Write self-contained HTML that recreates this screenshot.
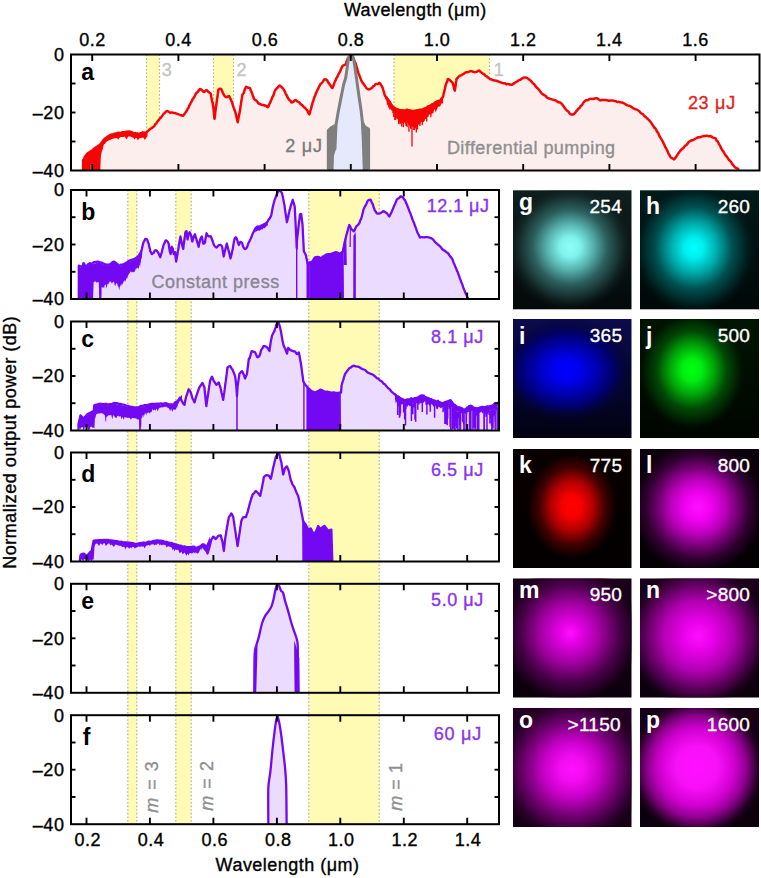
<!DOCTYPE html>
<html><head><meta charset="utf-8"><style>html,body{margin:0;padding:0;background:#fff;width:761px;height:878px;overflow:hidden}svg{display:block}</style></head><body>
<svg width="761" height="878" viewBox="0 0 761 878">
<defs>
<clipPath id="ca"><rect x="71" y="54.5" width="688.5" height="116"/></clipPath>
<clipPath id="cb0"><rect x="71" y="190" width="428" height="109"/></clipPath>
<clipPath id="cb1"><rect x="71" y="321.5" width="428" height="109"/></clipPath>
<clipPath id="cb2"><rect x="71" y="452.5" width="428" height="109"/></clipPath>
<clipPath id="cb3"><rect x="71" y="583.8" width="428" height="109"/></clipPath>
<clipPath id="cb4"><rect x="71" y="715.2" width="428" height="109"/></clipPath>
</defs>
<rect width="761" height="878" fill="#fff"/>
<rect x="146.5" y="54.5" width="13.0" height="116.0" fill="#fffbb5"/>
<rect x="213.5" y="54.5" width="20.0" height="116.0" fill="#fffbb5"/>
<rect x="394.0" y="54.5" width="95.5" height="116.0" fill="#fffbb5"/>
<rect x="127.8" y="190.0" width="9.0" height="634.2" fill="#fffbb5"/>
<rect x="175.8" y="190.0" width="15.4" height="634.2" fill="#fffbb5"/>
<rect x="308.8" y="190.0" width="70.4" height="634.2" fill="#fffbb5"/>
<line x1="146.5" y1="54.5" x2="146.5" y2="170.5" stroke="#b4b49c" stroke-width="1.2" stroke-dasharray="1.6,2.0"/>
<line x1="159.5" y1="54.5" x2="159.5" y2="170.5" stroke="#b4b49c" stroke-width="1.2" stroke-dasharray="1.6,2.0"/>
<line x1="213.5" y1="54.5" x2="213.5" y2="170.5" stroke="#b4b49c" stroke-width="1.2" stroke-dasharray="1.6,2.0"/>
<line x1="233.5" y1="54.5" x2="233.5" y2="170.5" stroke="#b4b49c" stroke-width="1.2" stroke-dasharray="1.6,2.0"/>
<line x1="394.0" y1="54.5" x2="394.0" y2="170.5" stroke="#b4b49c" stroke-width="1.2" stroke-dasharray="1.6,2.0"/>
<line x1="489.5" y1="54.5" x2="489.5" y2="170.5" stroke="#b4b49c" stroke-width="1.2" stroke-dasharray="1.6,2.0"/>
<line x1="127.8" y1="190.0" x2="127.8" y2="824.2" stroke="#b4b49c" stroke-width="1.2" stroke-dasharray="1.6,2.0"/>
<line x1="136.8" y1="190.0" x2="136.8" y2="824.2" stroke="#b4b49c" stroke-width="1.2" stroke-dasharray="1.6,2.0"/>
<line x1="175.8" y1="190.0" x2="175.8" y2="824.2" stroke="#b4b49c" stroke-width="1.2" stroke-dasharray="1.6,2.0"/>
<line x1="191.2" y1="190.0" x2="191.2" y2="824.2" stroke="#b4b49c" stroke-width="1.2" stroke-dasharray="1.6,2.0"/>
<line x1="308.8" y1="190.0" x2="308.8" y2="824.2" stroke="#b4b49c" stroke-width="1.2" stroke-dasharray="1.6,2.0"/>
<line x1="379.2" y1="190.0" x2="379.2" y2="824.2" stroke="#b4b49c" stroke-width="1.2" stroke-dasharray="1.6,2.0"/>
<path d="M83.14 170.50L83.14 170.96C83.14 169.46 82.86 162.51 83.14 160.45C83.42 158.38 84.55 157.44 85.11 156.50C85.67 155.57 86.52 154.44 87.08 153.88C87.65 153.31 88.49 152.94 89.05 152.56C89.62 152.19 90.37 151.72 91.02 151.25C91.68 150.78 92.90 149.84 93.65 149.28C94.40 148.71 95.62 147.78 96.28 147.31C96.94 146.84 97.69 146.37 98.25 145.99C98.82 145.62 99.66 145.24 100.22 144.68C100.79 144.11 101.63 142.80 102.19 142.05C102.76 141.30 103.51 140.12 104.17 139.42C104.82 138.73 106.04 137.75 106.79 137.19C107.54 136.62 108.58 135.87 109.42 135.48C110.27 135.09 111.77 134.71 112.71 134.43C113.65 134.15 115.05 133.73 115.99 133.51C116.93 133.28 118.34 133.04 119.28 132.85C120.22 132.66 121.62 132.34 122.56 132.19C123.50 132.04 124.91 131.89 125.85 131.80C126.79 131.71 128.19 131.42 129.13 131.54C130.07 131.65 131.48 132.31 132.42 132.59C133.36 132.87 134.76 133.32 135.70 133.51C136.64 133.70 138.05 134.00 138.99 133.90C139.93 133.81 141.33 133.00 142.27 132.85C143.21 132.70 144.81 133.04 145.56 132.85C146.31 132.66 147.06 131.92 147.53 131.54C148.00 131.15 147.91 130.92 148.84 130.16C149.78 129.40 152.41 127.98 154.10 126.22C155.79 124.45 159.17 119.68 160.67 117.81C162.17 115.93 163.67 114.05 164.61 113.07C165.55 112.10 166.49 111.05 167.24 110.97C167.99 110.90 168.74 112.25 169.87 112.55C170.99 112.85 173.25 112.62 175.12 113.07C177.00 113.53 181.32 116.08 183.01 115.70C184.70 115.33 185.83 112.32 186.95 110.45C188.08 108.57 189.58 105.00 190.89 102.56C192.21 100.12 194.84 95.32 196.15 93.36C197.46 91.41 198.97 89.08 200.09 88.90C201.22 88.71 203.10 91.90 204.03 92.05C204.97 92.20 205.72 89.76 206.66 89.95C207.60 90.14 209.67 91.00 210.60 93.36C211.54 95.73 212.67 102.86 213.23 106.50C213.80 110.15 214.17 118.67 214.55 118.86C214.92 119.04 215.30 112.02 215.86 107.82C216.42 103.61 217.74 92.13 218.49 89.42C219.24 86.72 220.37 88.15 221.12 88.90C221.87 89.65 222.99 93.48 223.75 94.68C224.50 95.88 225.62 97.12 226.37 97.31C227.12 97.49 228.25 95.43 229.00 95.99C229.75 96.56 230.69 98.81 231.63 101.25C232.57 103.69 234.71 110.07 235.57 113.07C236.44 116.08 237.11 122.27 237.67 122.27C238.24 122.27 238.88 116.83 239.51 113.07C240.15 109.32 241.20 99.75 242.14 95.99C243.08 92.24 244.96 87.92 246.08 86.79C247.21 85.67 248.90 86.42 250.03 88.11C251.15 89.80 252.65 96.37 253.97 98.62C255.28 100.87 258.36 103.13 259.22 103.88C260.09 104.63 259.33 103.69 260.00 103.88C260.67 104.06 262.82 104.70 263.94 105.19C265.07 105.68 266.76 108.23 267.88 107.29C269.01 106.35 270.70 101.17 271.83 98.62C272.95 96.07 274.64 91.30 275.77 89.42C276.90 87.54 278.58 85.48 279.71 85.48C280.84 85.48 282.53 87.73 283.65 89.42C284.78 91.11 286.47 95.43 287.60 97.31C288.72 99.18 290.41 102.19 291.54 102.56C292.66 102.94 294.35 99.93 295.48 99.93C296.61 99.93 298.30 101.62 299.42 102.56C300.55 103.50 302.24 105.38 303.36 106.50C304.49 107.63 306.44 109.32 307.31 110.45C308.17 111.57 308.85 114.76 309.41 114.39C309.97 114.01 310.61 110.07 311.25 107.82C311.89 105.57 313.13 100.87 313.88 98.62C314.63 96.37 315.57 94.11 316.50 92.05C317.44 89.98 319.32 85.97 320.45 84.17C321.57 82.36 323.45 80.00 324.39 79.43C325.33 78.87 326.27 79.55 327.02 80.22C327.77 80.90 328.89 83.04 329.65 84.17C330.40 85.29 331.52 88.48 332.27 88.11C333.02 87.73 333.96 83.60 334.90 81.54C335.84 79.47 337.72 75.91 338.84 73.65C339.97 71.40 341.85 67.08 342.79 65.77C343.72 64.45 344.66 65.58 345.41 64.45C346.16 63.33 347.29 59.12 348.04 57.88C348.79 56.65 349.92 55.78 350.67 55.78C351.42 55.78 352.55 56.65 353.30 57.88C354.05 59.12 355.18 62.20 355.93 64.45C356.68 66.71 357.80 71.40 358.55 73.65C359.31 75.91 360.43 78.72 361.18 80.22C361.93 81.73 363.06 83.04 363.81 84.17C364.56 85.29 365.69 87.36 366.44 88.11C367.19 88.86 368.32 89.42 369.07 89.42C369.82 89.42 370.76 88.86 371.70 88.11C372.63 87.36 374.51 84.92 375.64 84.17C376.76 83.41 378.64 82.48 379.58 82.85C380.52 83.23 381.43 84.93 382.21 86.79C382.98 88.66 384.08 93.96 385.00 95.92C385.92 97.88 387.63 99.07 388.68 100.52C389.73 101.97 391.31 104.86 392.36 106.04C393.41 107.22 394.99 108.21 396.04 108.80C397.09 109.39 398.67 109.92 399.72 110.18C400.77 110.44 402.22 110.64 403.40 110.64C404.58 110.64 406.68 110.11 408.00 110.18C409.31 110.25 411.28 111.03 412.60 111.10C413.91 111.17 415.88 110.84 417.20 110.64C418.51 110.44 420.48 110.11 421.80 109.72C423.11 109.33 425.08 108.54 426.40 107.88C427.71 107.22 429.68 105.91 431.00 105.12C432.31 104.33 434.28 103.02 435.60 102.36C436.91 101.70 439.15 101.31 440.20 100.52C441.25 99.73 442.23 98.80 442.96 96.84C443.68 94.88 444.57 89.36 445.28 86.79C445.99 84.23 447.24 79.85 447.91 78.91C448.58 77.97 449.33 79.66 450.00 80.22C450.67 80.79 451.95 81.35 452.63 82.85C453.30 84.35 454.17 91.30 454.73 90.74C455.29 90.17 455.93 80.97 456.57 78.91C457.21 76.84 458.45 76.84 459.20 76.28C459.95 75.72 460.89 75.53 461.83 74.97C462.77 74.40 464.45 72.90 465.77 72.34C467.08 71.78 469.71 71.02 471.02 71.02C472.34 71.02 473.84 72.41 474.97 72.34C476.09 72.26 477.78 70.31 478.91 70.50C480.04 70.69 481.54 72.64 482.85 73.65C484.17 74.67 486.61 76.66 488.11 77.60C489.61 78.53 491.67 79.59 493.36 80.22C495.05 80.86 498.06 81.50 499.93 82.06C501.81 82.63 504.82 83.79 506.50 84.17C508.19 84.54 510.26 85.07 511.76 84.69C513.26 84.32 515.52 82.44 517.02 81.54C518.52 80.64 520.96 78.95 522.27 78.38C523.59 77.82 525.09 77.33 526.22 77.60C527.34 77.86 529.03 79.28 530.16 80.22C531.28 81.16 532.60 82.48 534.10 84.17C535.60 85.86 538.79 90.10 540.67 92.05C542.55 94.00 545.36 96.71 547.24 97.83C549.12 98.96 551.93 99.26 553.81 99.93C555.69 100.61 558.69 101.25 560.38 102.56C562.07 103.88 564.14 107.44 565.64 109.13C567.14 110.82 569.77 113.64 570.89 114.39C572.02 115.14 572.58 115.03 573.52 114.39C574.46 113.75 576.15 111.42 577.46 109.92C578.78 108.42 581.68 105.13 582.72 103.88C583.76 102.62 583.62 101.87 584.76 101.14C585.90 100.41 589.01 99.17 590.70 98.76C592.40 98.36 595.29 98.05 596.65 98.29C598.01 98.53 599.20 100.19 600.22 100.43C601.24 100.67 602.26 99.95 603.79 99.95C605.32 99.95 608.54 100.09 610.92 100.43C613.30 100.77 617.72 101.55 620.44 102.33C623.16 103.11 627.23 104.61 629.95 105.90C632.67 107.19 636.75 109.33 639.47 111.37C642.19 113.41 646.60 117.55 648.98 120.17C651.36 122.79 654.25 126.80 656.12 129.69C657.99 132.57 660.54 137.50 662.06 140.39C663.59 143.28 665.63 147.53 666.82 149.90C668.01 152.28 669.37 155.68 670.39 157.04C671.41 158.40 672.94 159.76 673.96 159.42C674.98 159.08 676.34 156.19 677.53 154.66C678.72 153.13 680.58 150.58 682.28 148.72C683.98 146.85 687.38 143.11 689.42 141.58C691.46 140.05 694.52 138.79 696.56 138.01C698.59 137.23 701.65 136.38 703.69 136.11C705.73 135.84 709.13 135.77 710.83 136.11C712.53 136.45 714.23 137.03 715.59 138.49C716.94 139.95 718.98 144.03 720.34 146.34C721.70 148.65 723.74 152.62 725.10 154.66C726.46 156.70 728.67 159.08 729.86 160.61C731.05 162.14 732.58 164.35 733.43 165.37C734.27 166.39 735.12 167.24 735.80 167.75C736.48 168.25 737.84 168.76 738.18 168.93L738.18 170.50Z" fill="#fdeeee" clip-path="url(#ca)"/>
<polygon points="83.1,170.9 83.1,169.9 83.1,168.3 83.1,167.8 83.1,166.4 83.1,165.6 83.1,164.7 83.1,163.3 83.1,162.5 83.1,161.3 83.1,160.4 83.6,159.5 84.1,158.3 84.6,156.4 85.1,156.5 85.8,155.6 86.4,154.3 87.1,152.2 88.1,152.8 89.1,152.4 90.0,150.0 91.0,151.2 91.9,149.3 92.8,149.9 93.7,149.3 94.5,148.6 95.4,147.9 96.3,146.2 97.3,146.6 98.3,145.6 99.2,144.8 100.2,144.6 100.9,143.5 101.5,142.9 102.2,142.0 102.9,141.2 103.5,139.7 104.2,139.3 105.0,138.6 105.9,137.5 106.8,137.0 107.7,136.6 108.5,135.0 109.4,134.8 110.5,135.1 111.6,134.4 112.7,134.1 113.8,132.8 114.9,133.0 116.0,133.5 117.1,131.4 118.2,133.1 119.3,132.7 120.4,131.8 121.5,132.4 122.6,132.0 123.7,132.1 124.8,131.3 125.8,130.9 126.9,131.3 128.0,130.3 129.1,131.5 130.2,131.2 131.3,131.8 132.4,132.2 133.5,132.7 134.6,132.0 135.7,131.8 136.8,133.4 137.9,133.2 139.0,133.9 140.1,132.9 141.2,132.7 142.3,130.9 143.4,131.7 144.5,132.8 145.6,132.7 146.5,131.6 147.5,131.5 147.5,136.2 146.5,137.5 145.6,138.7 144.5,139.8 143.4,137.7 142.3,137.5 141.2,138.2 140.1,137.9 139.0,138.5 137.9,140.7 136.8,138.1 135.7,138.1 134.6,139.6 133.5,137.7 132.4,137.6 131.3,137.0 130.2,136.6 129.1,136.5 128.0,136.6 126.9,139.3 125.8,138.4 124.8,136.6 123.7,136.9 122.6,136.9 121.5,137.1 120.4,137.2 119.3,138.1 118.2,139.7 117.1,137.9 116.0,138.3 114.9,138.3 113.8,138.6 112.7,138.8 111.6,139.2 110.5,139.8 109.4,140.1 108.1,140.8 106.8,141.4 105.9,142.3 105.0,143.9 104.2,144.0 103.8,145.1 103.4,146.0 103.0,148.3 102.6,149.7 102.2,150.0 102.0,151.9 101.8,150.8 101.5,152.8 101.3,153.7 101.1,154.5 100.9,156.2 100.8,158.8 100.8,157.8 100.7,158.5 100.7,159.6 100.7,160.4 100.6,161.6 100.6,163.2 100.5,163.9 100.5,164.7 100.4,165.7 100.4,166.8 100.4,167.8 100.3,171.5 100.3,172.0 100.2,171.1 99.2,171.2 98.2,171.0 97.2,172.9 96.2,172.6 95.2,173.0 94.2,171.5 93.2,171.2 92.2,171.0 91.2,172.9 90.2,171.1 89.2,171.0 88.2,171.0 87.2,172.3 86.2,171.0 85.2,171.0 84.1,171.0 83.1,171.3" fill="#f50505" clip-path="url(#ca)"/>
<rect x="90.8" y="165" width="1.6" height="6" fill="#fdeeee"/>
<polygon points="385.0,95.8 385.7,96.8 386.5,96.8 387.2,98.4 387.9,98.7 388.7,100.4 389.3,101.4 389.9,101.3 390.5,101.4 391.1,103.0 391.7,104.1 392.4,104.9 393.3,105.9 394.2,107.4 395.1,107.8 396.0,108.7 397.3,109.3 398.5,109.7 399.7,110.1 400.9,110.3 402.2,109.8 403.4,108.9 404.5,110.3 405.7,108.8 406.8,108.4 408.0,108.4 409.1,110.3 410.3,110.6 411.4,110.8 412.6,111.1 413.7,111.0 414.9,110.4 416.0,109.3 417.2,109.5 418.3,110.2 419.5,109.6 420.6,108.9 421.8,109.7 422.9,108.7 424.1,107.3 425.2,107.4 426.4,107.0 427.3,107.1 428.2,106.8 429.2,105.2 430.1,105.6 431.0,104.1 431.9,102.7 432.8,103.9 433.8,103.3 434.7,101.2 435.6,101.6 436.7,101.9 437.9,101.4 439.0,101.0 440.2,99.0 440.9,98.6 441.6,98.7 442.3,96.6 443.0,95.0 443.0,103.4 442.5,103.4 442.0,103.6 441.6,103.3 441.1,104.3 440.7,105.1 440.2,106.4 439.0,106.5 437.9,107.0 436.7,109.8 435.6,111.2 434.8,109.3 434.1,109.5 433.3,113.5 432.5,113.6 431.8,113.1 431.0,115.8 430.2,113.7 429.5,114.6 428.7,115.1 427.9,116.9 427.2,116.8 426.4,117.6 425.5,118.7 424.6,118.9 423.6,122.3 422.7,121.8 421.8,121.5 420.9,122.2 420.0,124.4 419.0,123.6 418.5,124.5 417.9,126.1 417.4,126.3 416.8,129.1 416.3,128.8 415.4,128.1 414.4,127.0 413.5,127.0 412.4,127.2 411.4,125.5 410.3,124.5 409.2,126.2 408.2,123.8 407.1,123.5 405.9,123.4 404.8,122.6 403.4,122.7 402.0,122.3 400.6,123.1 399.9,124.8 399.3,121.1 398.6,122.8 397.9,119.7 397.1,118.4 396.4,117.3 395.7,119.2 394.9,115.2 394.2,114.6 393.6,113.5 393.0,113.3 392.4,111.6 391.7,110.7 391.1,109.8 390.5,108.8 390.0,110.1 389.4,109.6 388.9,106.4 388.3,108.4 387.8,104.8 387.4,104.4 387.0,106.0 386.6,101.4 386.2,100.5 385.8,100.3 385.4,98.9 385.0,98.9" fill="#f50505" clip-path="url(#ca)"/>
<path d="M403.4 118.0V127.2M408.9 118.0V131.8M412.0 118.0V146.5M400.6 115.0V123.0M406.0 118.0V126.0M414.5 118.0V130.0M417.5 118.0V129.0M398.8 120.1V122.9M421.1 121.5V122.1M430.8 112.6V117.3M401.7 121.9V126.5M409.5 124.2V125.8M435.6 107.9V111.5M399.1 120.6V121.9M414.7 127.1V128.1M400.6 122.6V123.5M423.8 119.2V119.7M416.4 128.0V129.3M392.8 112.2V113.2M419.5 123.1V124.8M394.8 115.1V120.0M426.7 116.8V121.5M396.6 117.3V118.1M393.7 113.6V116.9M403.9 122.3V122.9M410.6 124.6V128.8M428.0 115.4V116.2M398.6 119.8V124.1M417.1 126.7V129.4M395.9 116.5V117.0M422.3 120.4V121.7M395.2 115.6V120.0M419.9 122.6V126.0M395.7 116.2V120.0M394.9 115.2V119.1M412.0 125.4V126.4M416.3 128.0V132.4M403.8 122.3V122.8M415.2 127.4V128.1M396.8 117.6V118.2M394.2 114.3V115.0M405.7 123.0V123.9M425.4 117.9V118.7M414.0 126.6V127.2M407.3 123.6V124.1M403.0 122.0V122.5M424.3 118.8V120.7M400.3 122.2V123.7M433.1 110.4V110.9M428.0 115.4V116.8M413.8 126.5V130.1M409.3 124.2V125.8M422.3 120.4V125.2M407.1 123.5V127.1M423.1 119.7V122.0M409.8 124.3V125.3M394.4 114.6V115.1" stroke="#f50505" stroke-width="1.3" fill="none" clip-path="url(#ca)"/>
<path d="M83.14 170.96C83.14 170.65 83.14 169.29 83.14 168.82C83.14 168.35 83.14 168.15 83.14 167.67C83.14 167.20 83.14 166.06 83.14 165.48C83.14 164.91 83.14 164.17 83.14 163.65C83.14 163.13 83.14 162.28 83.14 161.82C83.14 161.37 83.00 160.88 83.14 160.45C83.28 160.01 83.84 159.35 84.13 158.78C84.41 158.22 84.83 156.97 85.11 156.50C85.39 156.04 85.82 155.90 86.10 155.52C86.38 155.15 86.66 154.30 87.08 153.88C87.51 153.45 88.49 152.94 89.05 152.56C89.62 152.19 90.56 151.55 91.02 151.25C91.49 150.94 91.96 150.70 92.34 150.42C92.71 150.13 93.28 149.61 93.65 149.28C94.03 148.95 94.59 148.38 94.97 148.10C95.34 147.81 95.81 147.61 96.28 147.31C96.75 147.01 97.69 146.37 98.25 145.99C98.82 145.62 99.80 145.09 100.22 144.68C100.65 144.27 100.93 143.51 101.21 143.13C101.49 142.76 101.91 142.42 102.19 142.05C102.48 141.68 102.90 140.93 103.18 140.55C103.46 140.17 103.84 139.75 104.17 139.42C104.49 139.10 105.10 138.59 105.48 138.27C105.86 137.95 106.23 137.59 106.79 137.19C107.36 136.79 108.81 135.84 109.42 135.48C110.03 135.12 110.60 134.80 111.06 134.65C111.53 134.50 112.24 134.53 112.71 134.43C113.18 134.32 113.88 134.05 114.35 133.92C114.82 133.79 115.52 133.64 115.99 133.51C116.46 133.37 117.17 133.06 117.63 132.97C118.10 132.87 118.81 132.86 119.28 132.85C119.75 132.85 120.45 133.03 120.92 132.94C121.39 132.84 122.09 132.27 122.56 132.19C123.03 132.12 123.74 132.48 124.20 132.42C124.67 132.37 125.38 131.90 125.85 131.80C126.32 131.70 127.02 131.75 127.49 131.71C127.96 131.67 128.66 131.52 129.13 131.54C129.60 131.55 130.31 131.68 130.78 131.83C131.24 131.98 131.95 132.36 132.42 132.59C132.89 132.82 133.59 133.34 134.06 133.47C134.53 133.60 135.23 133.50 135.70 133.51C136.17 133.52 136.88 133.48 137.35 133.53C137.81 133.59 138.52 133.94 138.99 133.90C139.46 133.86 140.16 133.40 140.63 133.25C141.10 133.10 141.80 132.97 142.27 132.85C142.74 132.73 143.45 132.40 143.92 132.40C144.39 132.40 145.04 132.98 145.56 132.85C146.07 132.73 147.06 131.92 147.53 131.54C148.00 131.15 148.47 130.51 148.84 130.16C149.22 129.80 149.78 129.35 150.16 129.07C150.53 128.78 151.10 128.43 151.47 128.16C151.85 127.90 152.41 127.48 152.79 127.20C153.16 126.93 153.76 126.60 154.10 126.22C154.44 125.84 154.88 124.94 155.19 124.54C155.51 124.14 155.98 123.84 156.29 123.42C156.60 122.99 157.07 122.00 157.39 121.56C157.70 121.13 158.17 120.79 158.48 120.40C158.79 120.01 159.26 119.21 159.58 118.84C159.89 118.47 160.33 118.19 160.67 117.81C161.01 117.42 161.61 116.65 161.98 116.14C162.36 115.63 162.92 114.68 163.30 114.24C163.67 113.80 164.24 113.45 164.61 113.07C164.99 112.70 165.55 111.89 165.93 111.59C166.30 111.29 166.68 110.84 167.24 110.97C167.80 111.11 169.24 112.32 169.87 112.55C170.49 112.77 171.12 112.53 171.62 112.55C172.12 112.56 172.87 112.58 173.37 112.66C173.87 112.73 174.65 112.93 175.12 113.07C175.60 113.22 176.25 113.52 176.70 113.68C177.15 113.83 177.83 113.98 178.28 114.15C178.73 114.32 179.40 114.71 179.86 114.88C180.31 115.04 180.98 115.20 181.43 115.32C181.88 115.44 182.64 115.81 183.01 115.70C183.38 115.60 183.71 114.91 183.99 114.58C184.28 114.26 184.70 113.83 184.98 113.42C185.26 113.00 185.68 112.09 185.97 111.66C186.25 111.24 186.70 110.87 186.95 110.45C187.20 110.03 187.51 109.10 187.74 108.71C187.97 108.33 188.30 108.20 188.53 107.73C188.75 107.26 189.09 105.88 189.32 105.40C189.54 104.92 189.88 104.75 190.11 104.34C190.33 103.94 190.66 103.02 190.89 102.56C191.13 102.11 191.52 101.65 191.77 101.16C192.02 100.66 192.40 99.50 192.65 99.09C192.90 98.67 193.27 98.59 193.52 98.26C193.77 97.94 194.15 97.25 194.40 96.78C194.65 96.32 195.02 95.50 195.27 95.01C195.52 94.52 195.84 93.78 196.15 93.36C196.46 92.95 197.09 92.47 197.46 92.09C197.84 91.70 198.40 91.12 198.78 90.67C199.15 90.21 199.72 89.05 200.09 88.90C200.47 88.75 201.03 89.32 201.41 89.62C201.78 89.93 202.34 90.67 202.72 91.02C203.10 91.37 203.66 92.05 204.03 92.05C204.41 92.05 204.97 91.30 205.35 91.00C205.72 90.70 206.29 89.89 206.66 89.95C207.04 90.00 207.60 91.02 207.98 91.39C208.35 91.75 208.91 92.22 209.29 92.50C209.67 92.78 210.37 92.96 210.60 93.36C210.84 93.76 210.84 94.82 210.93 95.30C211.03 95.78 211.17 96.25 211.26 96.72C211.36 97.20 211.50 98.16 211.59 98.65C211.68 99.13 211.82 99.66 211.92 100.10C212.01 100.54 212.15 101.34 212.25 101.75C212.34 102.16 212.48 102.59 212.58 102.98C212.67 103.36 212.81 103.94 212.90 104.44C213.00 104.94 213.16 106.00 213.23 106.50C213.31 107.00 213.37 107.45 213.42 107.94C213.47 108.43 213.55 109.41 213.61 109.91C213.66 110.41 213.74 110.88 213.80 111.44C213.85 112.01 213.93 113.30 213.98 113.87C214.04 114.43 214.12 114.90 214.17 115.38C214.22 115.86 214.31 116.71 214.36 117.21C214.41 117.70 214.49 118.87 214.55 118.86C214.60 118.85 214.70 117.63 214.77 117.13C214.83 116.63 214.92 115.88 214.98 115.34C215.05 114.80 215.14 113.94 215.20 113.33C215.27 112.72 215.36 111.54 215.42 111.05C215.49 110.57 215.58 110.39 215.64 109.93C215.70 109.46 215.80 108.33 215.86 107.82C215.93 107.31 216.03 106.85 216.10 106.37C216.17 105.89 216.27 104.98 216.34 104.48C216.41 103.97 216.51 103.29 216.58 102.83C216.65 102.38 216.75 101.81 216.82 101.27C216.88 100.73 216.99 99.53 217.06 99.07C217.12 98.60 217.23 98.45 217.29 98.00C217.36 97.54 217.46 96.45 217.53 95.89C217.60 95.33 217.70 94.53 217.77 94.06C217.84 93.58 217.94 92.95 218.01 92.56C218.08 92.16 218.18 91.75 218.25 91.30C218.32 90.85 218.08 89.77 218.49 89.42C218.90 89.08 220.62 88.73 221.12 88.90C221.62 89.06 221.74 89.98 221.99 90.56C222.24 91.14 222.62 92.38 222.87 92.97C223.12 93.56 223.43 94.18 223.75 94.68C224.06 95.17 224.68 96.04 225.06 96.42C225.43 96.80 225.81 97.37 226.37 97.31C226.94 97.25 228.50 95.93 229.00 95.99C229.50 96.05 229.63 97.25 229.88 97.74C230.13 98.22 230.50 98.89 230.75 99.39C231.00 99.89 231.42 100.74 231.63 101.25C231.84 101.75 232.03 102.41 232.19 102.92C232.35 103.43 232.59 104.27 232.76 104.79C232.92 105.31 233.16 106.08 233.32 106.56C233.48 107.03 233.72 107.64 233.88 108.11C234.04 108.58 234.28 109.41 234.45 109.82C234.61 110.24 234.85 110.54 235.01 111.01C235.17 111.47 235.43 112.56 235.57 113.07C235.71 113.59 235.87 114.10 235.99 114.60C236.11 115.09 236.29 115.93 236.41 116.53C236.53 117.14 236.71 118.28 236.83 118.81C236.95 119.34 237.13 119.76 237.25 120.26C237.37 120.75 237.56 122.24 237.67 122.27C237.79 122.31 237.94 121.08 238.04 120.49C238.15 119.91 238.30 118.75 238.41 118.16C238.52 117.56 238.67 116.85 238.78 116.36C238.88 115.87 239.04 115.18 239.15 114.71C239.25 114.24 239.42 113.53 239.51 113.07C239.60 112.62 239.70 111.98 239.78 111.52C239.85 111.06 239.96 110.32 240.04 109.83C240.11 109.34 240.23 108.65 240.30 108.11C240.38 107.57 240.49 106.56 240.57 106.05C240.64 105.55 240.75 105.01 240.83 104.55C240.90 104.08 241.02 103.29 241.09 102.79C241.17 102.30 241.28 101.62 241.35 101.09C241.43 100.55 241.54 99.50 241.62 99.07C241.69 98.63 241.80 98.49 241.88 98.05C241.95 97.62 242.01 96.54 242.14 95.99C242.27 95.44 242.61 94.56 242.80 94.19C242.99 93.81 243.27 93.70 243.46 93.36C243.64 93.01 243.93 92.35 244.11 91.79C244.30 91.22 244.58 89.92 244.77 89.43C244.96 88.93 245.24 88.67 245.43 88.29C245.61 87.91 245.71 86.87 246.08 86.79C246.46 86.71 247.49 87.55 248.06 87.74C248.62 87.93 249.66 87.78 250.03 88.11C250.39 88.44 250.43 89.61 250.59 90.03C250.75 90.45 250.99 90.73 251.15 91.07C251.31 91.40 251.55 92.01 251.72 92.40C251.88 92.80 252.12 93.34 252.28 93.85C252.44 94.37 252.68 95.59 252.84 96.02C253.00 96.45 253.24 96.49 253.41 96.86C253.57 97.23 253.70 98.17 253.97 98.62C254.24 99.07 254.91 99.68 255.28 100.01C255.66 100.34 256.22 100.56 256.60 100.93C256.97 101.29 257.54 102.16 257.91 102.58C258.29 103.01 258.93 103.69 259.22 103.88C259.52 104.06 259.61 103.72 260.00 103.88C260.39 104.03 261.41 104.75 261.97 104.94C262.53 105.13 263.38 105.05 263.94 105.19C264.51 105.33 265.35 105.61 265.91 105.91C266.48 106.21 267.49 107.30 267.88 107.29C268.28 107.28 268.45 106.34 268.67 105.85C268.90 105.35 269.24 104.32 269.46 103.83C269.69 103.34 270.02 102.91 270.25 102.44C270.47 101.97 270.81 101.08 271.04 100.54C271.26 99.99 271.62 99.15 271.83 98.62C272.03 98.09 272.30 97.23 272.48 96.85C272.67 96.46 272.95 96.32 273.14 95.91C273.33 95.51 273.61 94.56 273.80 94.01C273.99 93.46 274.27 92.56 274.45 92.06C274.64 91.56 274.92 90.89 275.11 90.51C275.30 90.13 275.49 89.77 275.77 89.42C276.05 89.08 276.71 88.48 277.08 88.10C277.46 87.72 278.02 87.12 278.40 86.75C278.77 86.37 279.34 85.50 279.71 85.48C280.09 85.46 280.65 86.29 281.02 86.62C281.40 86.94 281.96 87.38 282.34 87.78C282.71 88.19 283.35 88.98 283.65 89.42C283.95 89.86 284.22 90.43 284.44 90.86C284.67 91.29 285.00 91.90 285.23 92.41C285.46 92.92 285.79 94.05 286.02 94.46C286.24 94.87 286.58 94.87 286.81 95.28C287.03 95.69 287.34 96.80 287.60 97.31C287.85 97.82 288.30 98.43 288.58 98.85C288.86 99.26 289.28 99.95 289.57 100.24C289.85 100.53 290.27 100.57 290.55 100.91C290.83 101.24 291.12 102.46 291.54 102.56C291.96 102.67 292.95 102.01 293.51 101.63C294.07 101.26 294.92 99.96 295.48 99.93C296.04 99.91 296.89 101.06 297.45 101.44C298.01 101.82 298.95 102.16 299.42 102.56C299.89 102.96 300.36 103.89 300.74 104.24C301.11 104.59 301.67 104.68 302.05 105.00C302.43 105.33 302.99 106.12 303.36 106.50C303.74 106.89 304.30 107.34 304.68 107.70C305.05 108.07 305.62 108.64 305.99 109.04C306.37 109.43 306.97 109.90 307.31 110.45C307.64 110.99 308.06 112.30 308.36 112.87C308.66 113.43 309.19 114.39 309.41 114.39C309.62 114.38 309.74 113.31 309.87 112.83C310.00 112.34 310.20 111.47 310.33 110.98C310.46 110.49 310.66 109.85 310.79 109.40C310.92 108.95 311.11 108.34 311.25 107.82C311.39 107.30 311.62 106.36 311.77 105.78C311.92 105.19 312.15 104.28 312.30 103.73C312.45 103.18 312.68 102.37 312.83 101.94C312.98 101.52 313.20 101.24 313.35 100.76C313.50 100.29 313.71 99.19 313.88 98.62C314.05 98.05 314.35 97.20 314.53 96.78C314.72 96.37 315.00 96.20 315.19 95.73C315.38 95.25 315.66 93.99 315.85 93.47C316.04 92.94 316.30 92.51 316.50 92.05C316.71 91.59 317.07 90.71 317.29 90.26C317.52 89.81 317.86 89.37 318.08 88.91C318.31 88.45 318.64 87.51 318.87 87.04C319.10 86.57 319.43 86.04 319.66 85.63C319.88 85.22 320.15 84.54 320.45 84.17C320.75 83.79 321.39 83.40 321.76 83.00C322.14 82.60 322.70 81.87 323.07 81.36C323.45 80.85 323.83 79.60 324.39 79.43C324.95 79.27 326.45 79.79 327.02 80.22C327.58 80.66 327.96 81.91 328.33 82.48C328.71 83.04 329.27 83.63 329.65 84.17C330.02 84.71 330.58 85.69 330.96 86.25C331.33 86.82 331.99 88.02 332.27 88.11C332.55 88.19 332.74 87.25 332.93 86.84C333.12 86.42 333.40 85.74 333.59 85.22C333.78 84.70 334.06 83.75 334.24 83.22C334.43 82.70 334.69 81.98 334.90 81.54C335.11 81.10 335.46 80.67 335.69 80.16C335.92 79.65 336.25 78.43 336.48 77.98C336.70 77.53 337.04 77.41 337.27 77.02C337.49 76.62 337.83 75.67 338.06 75.19C338.28 74.71 338.62 74.06 338.84 73.65C339.07 73.24 339.41 72.74 339.63 72.30C339.86 71.87 340.20 71.14 340.42 70.63C340.65 70.12 340.98 69.26 341.21 68.73C341.43 68.20 341.77 67.36 342.00 66.94C342.22 66.52 342.30 66.12 342.79 65.77C343.27 65.41 344.94 64.82 345.41 64.45C345.88 64.09 345.88 63.71 346.07 63.20C346.26 62.68 346.54 61.36 346.73 60.83C346.92 60.31 347.20 59.92 347.39 59.50C347.57 59.08 347.76 58.29 348.04 57.88C348.32 57.48 348.98 56.99 349.36 56.69C349.73 56.39 350.29 55.79 350.67 55.78C351.05 55.78 351.61 56.35 351.98 56.65C352.36 56.95 353.02 57.44 353.30 57.88C353.58 58.33 353.77 59.21 353.96 59.74C354.14 60.27 354.42 61.19 354.61 61.60C354.80 62.01 355.08 62.19 355.27 62.60C355.46 63.00 355.76 63.91 355.93 64.45C356.10 65.00 356.30 65.93 356.45 66.43C356.60 66.93 356.83 67.44 356.98 67.95C357.13 68.47 357.35 69.49 357.50 70.03C357.65 70.56 357.88 71.20 358.03 71.72C358.18 72.24 358.39 73.18 358.55 73.65C358.72 74.12 359.02 74.57 359.21 75.00C359.40 75.42 359.68 76.16 359.87 76.63C360.06 77.11 360.34 77.81 360.53 78.32C360.71 78.83 360.90 79.62 361.18 80.22C361.46 80.83 362.12 82.00 362.50 82.56C362.87 83.12 363.44 83.65 363.81 84.17C364.19 84.68 364.75 85.57 365.12 86.13C365.50 86.70 365.88 87.64 366.44 88.11C367.00 88.58 368.32 89.42 369.07 89.42C369.82 89.42 371.13 88.52 371.70 88.11C372.26 87.70 372.63 86.86 373.01 86.54C373.38 86.22 373.95 86.18 374.32 85.85C374.70 85.51 375.17 84.44 375.64 84.17C376.11 83.90 377.05 84.14 377.61 83.96C378.17 83.77 379.11 82.73 379.58 82.85C380.05 82.97 380.52 84.21 380.89 84.78C381.27 85.34 381.94 86.29 382.21 86.79C382.48 87.30 382.61 87.81 382.77 88.29C382.93 88.78 383.17 89.65 383.32 90.17C383.48 90.68 383.72 91.36 383.88 91.90C384.04 92.44 384.28 93.38 384.44 93.95C384.60 94.53 384.74 95.47 385.00 95.92C385.26 96.37 385.88 96.68 386.23 97.09C386.58 97.49 387.10 98.26 387.45 98.75C387.80 99.24 388.37 100.10 388.68 100.52C388.99 100.94 389.34 101.28 389.60 101.68C389.86 102.09 390.26 102.87 390.52 103.34C390.78 103.82 391.18 104.62 391.44 105.01C391.70 105.39 391.97 105.66 392.36 106.04C392.75 106.42 393.67 107.25 394.20 107.64C394.73 108.04 395.51 108.55 396.04 108.80C396.57 109.05 397.35 109.21 397.88 109.41C398.41 109.61 399.19 110.05 399.72 110.18C400.25 110.31 401.03 110.27 401.56 110.33C402.09 110.40 402.81 110.63 403.40 110.64C403.99 110.65 405.04 110.50 405.70 110.43C406.36 110.37 407.34 110.17 408.00 110.18C408.66 110.19 409.64 110.40 410.30 110.53C410.96 110.66 411.94 111.07 412.60 111.10C413.26 111.13 414.24 110.79 414.90 110.72C415.56 110.66 416.54 110.77 417.20 110.64C417.86 110.51 418.84 109.92 419.50 109.79C420.16 109.65 421.25 109.85 421.80 109.72C422.35 109.59 422.89 109.02 423.33 108.91C423.77 108.79 424.43 109.06 424.87 108.91C425.30 108.77 425.96 108.21 426.40 107.88C426.84 107.55 427.49 106.89 427.93 106.62C428.37 106.36 429.03 106.26 429.46 106.04C429.90 105.83 430.56 105.37 431.00 105.12C431.44 104.87 432.09 104.53 432.53 104.32C432.97 104.10 433.63 103.89 434.06 103.61C434.50 103.33 435.16 102.66 435.60 102.36C436.04 102.06 436.69 101.70 437.13 101.49C437.57 101.29 438.23 101.07 438.66 100.93C439.10 100.79 439.78 100.87 440.20 100.52C440.61 100.17 441.18 98.98 441.58 98.45C441.97 97.93 442.71 97.32 442.96 96.84C443.21 96.36 443.23 95.56 443.35 95.08C443.46 94.59 443.62 93.85 443.73 93.44C443.84 93.04 444.01 92.65 444.12 92.23C444.23 91.80 444.40 90.95 444.51 90.46C444.62 89.97 444.78 89.33 444.90 88.80C445.01 88.28 445.15 87.37 445.28 86.79C445.41 86.22 445.66 85.30 445.81 84.79C445.96 84.28 446.18 83.58 446.33 83.22C446.48 82.86 446.71 82.59 446.86 82.25C447.01 81.91 447.23 81.32 447.39 80.84C447.54 80.36 447.54 79.00 447.91 78.91C448.28 78.82 449.51 79.85 450.00 80.22C450.49 80.60 450.94 81.14 451.31 81.51C451.69 81.89 452.38 82.42 452.63 82.85C452.88 83.28 452.93 84.12 453.05 84.51C453.17 84.89 453.35 85.13 453.47 85.56C453.59 85.98 453.77 86.91 453.89 87.48C454.01 88.05 454.19 89.08 454.31 89.54C454.43 90.01 454.63 90.76 454.73 90.74C454.83 90.71 454.92 89.78 454.99 89.34C455.07 88.90 455.18 88.14 455.26 87.68C455.33 87.21 455.44 86.65 455.52 86.09C455.59 85.53 455.71 84.35 455.78 83.75C455.86 83.16 455.97 82.43 456.04 81.94C456.12 81.44 456.23 80.72 456.31 80.29C456.38 79.86 456.35 79.29 456.57 78.91C456.80 78.53 457.51 77.99 457.88 77.62C458.26 77.24 458.64 76.66 459.20 76.28C459.76 75.90 461.17 75.32 461.83 74.97C462.48 74.62 463.23 74.19 463.80 73.82C464.36 73.44 465.24 72.56 465.77 72.34C466.30 72.12 467.02 72.39 467.52 72.30C468.02 72.20 468.77 71.84 469.27 71.66C469.77 71.48 470.49 71.00 471.02 71.02C471.56 71.05 472.43 71.63 473.00 71.81C473.56 72.00 474.40 72.36 474.97 72.34C475.53 72.32 476.38 71.92 476.94 71.66C477.50 71.39 478.44 70.52 478.91 70.50C479.38 70.48 479.85 71.21 480.22 71.51C480.60 71.82 481.16 72.34 481.54 72.65C481.91 72.95 482.48 73.43 482.85 73.65C483.23 73.88 483.79 73.91 484.17 74.22C484.54 74.54 485.10 75.57 485.48 75.88C485.86 76.18 486.42 76.12 486.79 76.37C487.17 76.61 487.67 77.24 488.11 77.60C488.55 77.95 489.36 78.58 489.86 78.85C490.36 79.12 491.11 79.28 491.61 79.48C492.11 79.67 492.88 80.08 493.36 80.22C493.85 80.37 494.54 80.42 495.01 80.51C495.48 80.59 496.18 80.68 496.65 80.81C497.12 80.93 497.82 81.20 498.29 81.38C498.76 81.56 499.46 81.87 499.93 82.06C500.40 82.25 501.11 82.54 501.58 82.71C502.05 82.89 502.75 83.21 503.22 83.29C503.69 83.38 504.39 83.17 504.86 83.29C505.33 83.42 506.02 84.07 506.50 84.17C506.99 84.26 507.76 83.90 508.26 83.95C508.76 84.01 509.51 84.43 510.01 84.54C510.51 84.64 511.26 84.81 511.76 84.69C512.26 84.57 513.01 84.03 513.51 83.71C514.01 83.40 514.76 82.80 515.27 82.49C515.77 82.18 516.52 81.86 517.02 81.54C517.52 81.22 518.27 80.52 518.77 80.24C519.27 79.95 520.02 79.79 520.52 79.53C521.02 79.26 521.74 78.67 522.27 78.38C522.81 78.10 523.68 77.66 524.24 77.55C524.81 77.44 525.65 77.43 526.22 77.60C526.78 77.76 527.62 78.36 528.19 78.73C528.75 79.11 529.69 79.83 530.16 80.22C530.63 80.62 531.10 81.07 531.47 81.50C531.85 81.94 532.41 82.88 532.79 83.26C533.16 83.65 533.76 83.83 534.10 84.17C534.44 84.50 534.88 85.18 535.19 85.61C535.51 86.03 535.98 86.79 536.29 87.14C536.60 87.49 537.07 87.79 537.39 88.09C537.70 88.38 538.17 88.84 538.48 89.18C538.79 89.53 539.26 90.10 539.58 90.51C539.89 90.92 540.33 91.61 540.67 92.05C541.01 92.49 541.61 93.26 541.98 93.62C542.36 93.98 542.92 94.30 543.30 94.55C543.67 94.79 544.24 95.10 544.61 95.35C544.99 95.59 545.55 95.89 545.93 96.25C546.30 96.60 546.82 97.53 547.24 97.83C547.66 98.13 548.41 98.18 548.88 98.36C549.35 98.53 550.06 98.90 550.53 99.04C550.99 99.18 551.70 99.21 552.17 99.34C552.64 99.46 553.34 99.79 553.81 99.93C554.28 100.08 554.98 100.16 555.45 100.37C555.92 100.58 556.63 101.13 557.10 101.40C557.57 101.67 558.27 102.12 558.74 102.29C559.21 102.45 560.00 102.37 560.38 102.56C560.77 102.75 561.13 103.32 561.43 103.63C561.73 103.95 562.18 104.38 562.48 104.77C562.78 105.16 563.23 105.93 563.53 106.36C563.84 106.78 564.29 107.35 564.59 107.75C564.89 108.14 565.30 108.72 565.64 109.13C565.98 109.54 566.58 110.27 566.95 110.61C567.33 110.95 567.89 111.10 568.27 111.49C568.64 111.88 569.20 112.93 569.58 113.34C569.95 113.76 570.33 114.24 570.89 114.39C571.46 114.54 572.96 114.57 573.52 114.39C574.08 114.21 574.46 113.54 574.84 113.11C575.21 112.69 575.77 111.87 576.15 111.41C576.53 110.96 577.13 110.35 577.46 109.92C577.80 109.50 578.21 108.73 578.52 108.45C578.82 108.16 579.27 108.26 579.57 107.93C579.87 107.59 580.32 106.49 580.62 106.12C580.92 105.76 581.37 105.69 581.67 105.37C581.97 105.05 582.42 104.32 582.72 103.88C583.02 103.43 583.45 102.66 583.74 102.27C584.03 101.88 584.40 101.42 584.76 101.14C585.12 100.86 585.82 100.43 586.24 100.30C586.67 100.16 587.31 100.35 587.73 100.19C588.16 100.03 588.79 99.38 589.22 99.17C589.64 98.97 590.21 98.79 590.70 98.76C591.20 98.74 592.12 99.06 592.69 99.01C593.25 98.97 594.10 98.55 594.67 98.44C595.23 98.34 596.11 98.20 596.65 98.29C597.19 98.38 597.93 98.77 598.43 99.08C598.94 99.38 599.71 100.30 600.22 100.43C600.73 100.55 601.49 100.01 602.00 99.94C602.51 99.87 603.28 99.94 603.79 99.95C604.30 99.96 605.06 99.94 605.57 100.00C606.08 100.05 606.85 100.24 607.35 100.34C607.86 100.44 608.63 100.70 609.14 100.71C609.65 100.73 610.44 100.47 610.92 100.43C611.40 100.39 612.06 100.35 612.51 100.43C612.96 100.50 613.64 100.87 614.09 100.97C614.55 101.07 615.23 100.96 615.68 101.12C616.13 101.29 616.81 102.04 617.27 102.12C617.72 102.20 618.40 101.66 618.85 101.69C619.30 101.72 619.98 102.21 620.44 102.33C620.89 102.45 621.57 102.41 622.02 102.52C622.48 102.64 623.16 102.91 623.61 103.12C624.06 103.34 624.74 103.74 625.20 104.02C625.65 104.30 626.33 104.84 626.78 105.07C627.23 105.30 627.91 105.53 628.37 105.65C628.82 105.77 629.50 105.70 629.95 105.90C630.41 106.09 631.09 106.70 631.54 107.02C631.99 107.34 632.67 107.88 633.12 108.17C633.58 108.46 634.26 108.85 634.71 109.02C635.16 109.20 635.84 109.23 636.30 109.39C636.75 109.56 637.43 109.89 637.88 110.18C638.33 110.46 639.07 110.99 639.47 111.37C639.86 111.75 640.32 112.52 640.66 112.86C641.00 113.21 641.51 113.59 641.85 113.79C642.19 113.99 642.70 113.95 643.04 114.25C643.38 114.55 643.88 115.56 644.22 115.92C644.56 116.28 645.07 116.48 645.41 116.76C645.75 117.04 646.26 117.55 646.60 117.86C646.94 118.17 647.45 118.59 647.79 118.92C648.13 119.25 648.67 119.84 648.98 120.17C649.30 120.50 649.71 120.91 650.00 121.23C650.29 121.56 650.73 122.04 651.02 122.44C651.31 122.84 651.75 123.62 652.04 124.05C652.33 124.48 652.77 125.00 653.06 125.47C653.35 125.95 653.79 127.02 654.08 127.38C654.37 127.74 654.81 127.66 655.10 127.99C655.39 128.32 655.85 129.17 656.12 129.69C656.38 130.21 656.72 131.23 656.97 131.63C657.21 132.03 657.57 132.12 657.82 132.48C658.06 132.84 658.42 133.63 658.67 134.14C658.91 134.66 659.27 135.60 659.52 136.09C659.76 136.59 660.12 137.23 660.37 137.62C660.61 138.01 660.97 138.40 661.22 138.80C661.46 139.20 661.83 139.99 662.06 140.39C662.30 140.79 662.63 141.12 662.86 141.57C663.08 142.02 663.42 143.04 663.65 143.54C663.88 144.03 664.22 144.52 664.44 145.03C664.67 145.54 665.01 146.68 665.24 147.11C665.46 147.54 665.80 147.64 666.03 148.04C666.26 148.44 666.58 149.40 666.82 149.90C667.06 150.41 667.46 151.01 667.71 151.57C667.97 152.13 668.35 153.36 668.61 153.83C668.86 154.30 669.24 154.38 669.50 154.83C669.75 155.29 670.01 156.57 670.39 157.04C670.77 157.51 671.66 157.81 672.17 158.15C672.68 158.49 673.53 159.42 673.96 159.42C674.38 159.41 674.81 158.53 675.15 158.11C675.49 157.70 676.00 156.98 676.34 156.49C676.68 155.99 677.19 155.19 677.53 154.66C677.87 154.13 678.38 153.25 678.72 152.76C679.06 152.28 679.57 151.69 679.90 151.27C680.24 150.85 680.75 150.17 681.09 149.81C681.43 149.44 681.94 148.99 682.28 148.72C682.62 148.44 683.13 148.28 683.47 147.90C683.81 147.53 684.32 146.48 684.66 146.12C685.00 145.76 685.51 145.63 685.85 145.37C686.19 145.11 686.70 144.71 687.04 144.32C687.38 143.92 687.89 143.02 688.23 142.62C688.57 142.23 688.99 141.89 689.42 141.58C689.84 141.27 690.69 140.68 691.20 140.48C691.71 140.29 692.48 140.42 692.99 140.21C693.50 140.00 694.26 139.32 694.77 139.01C695.28 138.70 696.05 138.25 696.56 138.01C697.07 137.77 697.83 137.43 698.34 137.32C698.85 137.21 699.61 137.38 700.12 137.25C700.63 137.13 701.40 136.58 701.91 136.42C702.42 136.26 703.18 136.18 703.69 136.11C704.20 136.04 704.97 135.97 705.48 135.91C705.99 135.84 706.75 135.60 707.26 135.66C707.77 135.72 708.53 136.27 709.04 136.34C709.55 136.40 710.35 135.97 710.83 136.11C711.31 136.24 711.96 137.03 712.41 137.28C712.87 137.52 713.55 137.64 714.00 137.81C714.45 137.99 715.22 138.11 715.59 138.49C715.95 138.86 716.26 140.07 716.54 140.46C716.81 140.84 717.22 140.84 717.49 141.20C717.76 141.56 718.17 142.45 718.44 142.96C718.71 143.46 719.12 144.26 719.39 144.74C719.66 145.23 720.07 145.81 720.34 146.34C720.61 146.86 721.02 147.88 721.29 148.41C721.57 148.95 721.97 149.67 722.25 150.08C722.52 150.48 722.93 150.84 723.20 151.23C723.47 151.62 723.88 152.28 724.15 152.77C724.42 153.26 724.79 154.19 725.10 154.66C725.41 155.14 725.95 155.66 726.29 156.09C726.63 156.51 727.14 157.14 727.48 157.63C727.82 158.12 728.33 159.08 728.67 159.51C729.01 159.93 729.52 160.27 729.86 160.61C730.20 160.95 730.71 161.42 731.05 161.91C731.39 162.40 731.90 163.56 732.24 164.05C732.58 164.55 733.09 164.98 733.43 165.37C733.77 165.75 734.27 166.43 734.61 166.77C734.95 167.11 735.29 167.44 735.80 167.75C736.31 168.05 737.84 168.76 738.18 168.93" fill="none" stroke="#f50505" stroke-width="2.5" stroke-linejoin="round" stroke-linecap="round" clip-path="url(#ca)"/>
<polygon points="328.3,169.4 328.3,130.6 331.1,127.8 336.0,125.0 338.1,112.5 340.8,98.6 343.6,84.7 345.7,77.8 347.1,68.1 348.5,58.3 349.9,55.6 352.6,55.6 354.0,61.1 355.4,70.8 356.8,80.6 358.9,95.8 361.0,109.7 362.4,122.2 364.4,126.4 368.6,129.2 368.6,169.4" fill="#e6e8fb" clip-path="url(#ca)"/>
<polyline points="328.3,169.4 328.3,130.6 331.1,127.8 336.0,125.0 338.1,112.5 340.8,98.6 343.6,84.7 345.7,77.8 347.1,68.1 348.5,58.3 349.9,55.6 352.6,55.6 354.0,61.1 355.4,70.8 356.8,80.6 358.9,95.8 361.0,109.7 362.4,122.2 364.4,126.4 368.6,129.2 368.6,169.4" fill="none" stroke="#7f7f7f" stroke-width="3.0" stroke-linejoin="round" clip-path="url(#ca)"/>
<polygon points="328.3,130.1 329.0,129.4 329.7,128.9 330.4,128.4 331.1,127.7 331.9,127.2 332.7,126.4 333.6,126.4 334.4,125.9 335.2,125.0 336.0,125.0 337.5,125.5 337.5,125.6 337.4,126.7 337.4,128.3 337.4,128.5 337.3,130.3 337.2,130.7 337.2,132.3 337.1,132.2 337.1,133.1 337.1,134.2 337.0,135.0 337.0,136.9 336.9,137.7 336.9,138.6 336.9,139.0 336.8,139.7 336.8,141.7 336.8,142.0 336.7,143.2 336.7,143.4 336.6,144.6 336.6,146.4 336.6,146.3 336.5,147.2 336.5,148.4 336.2,149.8 335.9,149.8 335.6,150.7 335.2,151.6 334.9,152.4 334.6,153.9 334.3,154.3 334.0,155.4 334.0,156.0 333.9,157.7 333.9,157.8 333.9,159.3 333.9,160.6 333.8,161.3 333.8,162.1 333.8,163.0 333.7,163.7 333.7,164.5 333.7,165.6 333.6,166.9 333.6,167.5 333.6,168.2 333.6,169.1 333.5,170.1 333.5,172.2 332.5,171.9 331.4,172.2 330.4,171.1 329.3,171.4 328.3,171.0" fill="#7f7f7f" clip-path="url(#ca)"/>
<polygon points="361.0,122.5 362.4,121.5 362.8,123.0 363.2,123.6 363.6,124.4 364.0,125.5 364.4,126.3 365.2,126.9 366.1,127.5 366.9,128.0 367.8,128.4 368.6,128.9 368.6,171.0 367.6,171.0 366.7,172.1 365.7,171.8 364.7,171.3 363.8,171.0 362.8,172.0 362.8,170.4 362.7,169.3 362.7,168.3 362.7,167.7 362.7,166.6 362.6,166.0 362.6,164.6 362.6,164.7 362.5,163.3 362.5,162.2 362.5,161.0 362.4,160.1 362.4,159.4 362.4,159.2 362.4,157.5 362.3,157.2 362.3,155.7 362.3,155.6 362.2,153.7 362.2,152.8 362.2,152.5 362.2,151.0 362.1,150.2 362.1,150.3 362.1,149.1 362.0,147.5 362.0,146.5 362.0,145.9 361.9,144.7 361.9,144.7 361.9,142.8 361.9,141.9 361.8,141.1 361.8,140.6 361.8,139.1 361.7,138.1 361.7,137.7 361.6,136.6 361.6,135.5 361.5,134.4 361.4,133.4 361.4,132.9 361.4,132.3 361.3,130.7 361.2,129.8 361.2,128.8 361.1,128.4 361.1,127.0 361.1,125.9 361.0,125.0" fill="#7f7f7f" clip-path="url(#ca)"/>
<path d="M78.83 299.00L78.83 298.37C78.83 293.71 78.61 270.35 78.83 265.77C79.06 261.19 79.89 266.30 80.41 266.30C80.94 266.30 82.06 266.22 82.52 265.77C82.97 265.32 83.27 263.29 83.57 263.14C83.87 262.99 84.32 264.20 84.62 264.72C84.92 265.25 85.22 266.82 85.67 266.82C86.12 266.82 87.17 265.25 87.77 264.72C88.37 264.20 89.35 263.22 89.88 263.14C90.40 263.07 91.00 264.27 91.45 264.20C91.90 264.12 92.05 262.99 93.03 262.62C94.01 262.24 97.09 261.57 98.29 261.57C99.49 261.57 100.69 262.32 101.44 262.62C102.19 262.92 102.49 263.37 103.55 263.67C104.60 263.97 107.30 265.02 108.80 264.72C110.31 264.42 113.01 261.79 114.06 261.57C115.11 261.34 115.41 262.54 116.16 263.14C116.92 263.74 118.12 265.70 119.32 265.77C120.52 265.85 123.07 264.42 124.58 263.67C126.08 262.92 128.33 261.27 129.83 260.52C131.34 259.76 133.89 259.01 135.09 258.41C136.29 257.81 137.49 257.06 138.25 256.31C139.00 255.56 139.91 253.91 140.35 253.15C140.79 252.40 140.87 252.54 141.31 251.03C141.75 249.53 142.81 244.35 143.41 242.62C144.01 240.89 144.99 239.39 145.52 238.94C146.04 238.49 146.64 238.79 147.09 239.46C147.54 240.14 148.22 242.02 148.67 243.67C149.12 245.32 149.80 249.53 150.25 251.03C150.70 252.53 151.37 253.88 151.82 254.19C152.28 254.49 152.95 253.66 153.40 253.13C153.85 252.61 154.53 250.88 154.98 250.50C155.43 250.13 156.11 250.20 156.56 250.50C157.01 250.81 157.61 251.63 158.13 252.61C158.66 253.58 159.71 257.41 160.24 257.34C160.76 257.26 161.36 253.73 161.81 252.08C162.26 250.43 162.87 247.43 163.39 245.77C163.92 244.12 164.97 241.19 165.49 240.52C166.02 239.84 166.62 240.59 167.07 241.04C167.52 241.49 168.27 242.24 168.65 243.67C169.02 245.10 169.40 249.53 169.70 251.03C170.00 252.53 170.45 254.79 170.75 254.19C171.05 253.58 171.50 247.58 171.80 246.82C172.10 246.07 172.55 247.88 172.85 248.93C173.16 249.98 173.61 253.73 173.91 254.19C174.21 254.64 174.63 251.03 174.96 252.08C175.29 253.13 175.84 261.40 176.22 261.55C176.60 261.70 177.17 255.69 177.59 253.13C178.01 250.58 178.76 246.07 179.16 243.67C179.57 241.27 180.05 236.31 180.43 236.31C180.80 236.31 181.40 241.87 181.79 243.67C182.18 245.47 182.78 249.53 183.16 248.93C183.54 248.33 184.09 241.87 184.42 239.46C184.75 237.06 185.17 233.30 185.47 232.10C185.77 230.90 186.22 230.00 186.52 231.05C186.83 232.10 187.28 239.01 187.58 239.46C187.88 239.91 188.33 235.26 188.63 234.21C188.93 233.15 189.30 231.80 189.68 232.10C190.05 232.40 190.88 234.96 191.26 236.31C191.63 237.66 191.93 241.57 192.31 241.57C192.68 241.57 193.51 237.36 193.89 236.31C194.26 235.26 194.56 233.76 194.94 234.21C195.31 234.66 195.99 237.66 196.51 239.46C197.04 241.27 198.09 246.82 198.62 246.82C199.14 246.82 199.74 240.97 200.19 239.46C200.65 237.96 201.32 235.71 201.77 236.31C202.22 236.91 202.90 242.77 203.35 243.67C203.80 244.57 204.48 244.12 204.93 242.62C205.38 241.12 205.98 234.06 206.50 233.15C207.03 232.25 208.01 235.86 208.61 236.31C209.21 236.76 210.11 235.56 210.71 236.31C211.31 237.06 212.46 240.71 212.81 241.57C213.16 242.43 212.96 241.78 213.15 242.34C213.35 242.90 213.76 244.74 214.21 245.49C214.66 246.25 215.71 247.60 216.31 247.60C216.91 247.60 217.81 245.87 218.41 245.49C219.01 245.12 219.99 244.82 220.52 244.97C221.04 245.12 221.64 244.89 222.09 246.55C222.54 248.20 223.22 256.08 223.67 256.54C224.12 256.99 224.80 251.58 225.25 249.70C225.70 247.82 226.37 243.39 226.82 243.39C227.28 243.39 227.88 247.52 228.40 249.70C228.93 251.88 229.90 258.64 230.50 258.64C231.11 258.64 232.08 252.33 232.61 249.70C233.13 247.07 233.73 242.04 234.19 240.24C234.64 238.43 235.31 237.08 235.76 237.08C236.21 237.08 236.89 239.11 237.34 240.24C237.79 241.36 238.47 244.74 238.92 244.97C239.37 245.19 240.04 242.11 240.49 241.81C240.94 241.51 241.62 242.04 242.07 242.87C242.52 243.69 243.20 246.70 243.65 247.60C244.10 248.50 244.78 249.17 245.23 249.17C245.68 249.17 246.28 248.57 246.80 247.60C247.33 246.62 248.31 243.69 248.91 242.34C249.51 240.99 250.41 239.49 251.01 238.13C251.61 236.78 252.51 234.23 253.11 232.88C253.71 231.52 254.61 229.57 255.22 228.67C255.82 227.77 256.72 226.87 257.32 226.57C257.92 226.27 258.82 226.72 259.42 226.57C260.02 226.42 260.92 225.82 261.52 225.52C262.13 225.21 263.03 224.76 263.63 224.46C264.23 224.16 265.13 223.86 265.73 223.41C266.33 222.96 267.05 222.43 267.83 221.31C268.61 220.19 270.53 217.42 271.20 215.57C271.87 213.71 272.09 210.31 272.51 208.34C272.93 206.37 273.64 203.55 274.16 201.77C274.67 199.99 275.61 197.26 276.13 195.86C276.64 194.45 277.25 192.62 277.77 191.91C278.28 191.21 279.18 190.83 279.74 190.93C280.30 191.02 281.24 191.58 281.71 192.57C282.18 193.56 282.65 196.14 283.02 197.83C283.40 199.52 284.06 202.75 284.34 204.40C284.62 206.05 284.63 206.81 285.00 209.38C285.37 211.94 286.39 221.81 286.95 222.36C287.50 222.92 288.34 215.68 288.90 213.27C289.45 210.86 290.29 207.43 290.84 205.48C291.40 203.53 292.24 199.45 292.79 199.64C293.35 199.82 294.22 200.94 294.74 206.78C295.26 212.62 296.15 234.61 296.43 240.55C296.71 246.48 296.61 248.34 296.69 248.34C296.76 248.34 296.76 242.96 296.95 240.55C297.13 238.13 297.56 235.17 297.99 231.45C298.41 227.74 299.47 217.08 299.94 214.57C300.40 212.07 300.86 212.44 301.23 213.92C301.60 215.41 302.16 219.67 302.53 224.96C302.90 230.25 303.37 246.67 303.83 250.94C304.29 255.20 305.22 252.98 305.78 254.83C306.34 256.69 307.17 262.81 307.73 263.92C308.28 265.04 309.03 262.99 309.68 262.62C310.32 262.25 311.53 262.07 312.27 261.32C313.01 260.58 314.13 258.08 314.87 257.43C315.61 256.78 316.54 256.69 317.47 256.78C318.40 256.87 320.44 258.17 321.36 258.08C322.29 257.99 323.03 256.69 323.96 256.13C324.89 255.57 326.74 254.55 327.86 254.18C328.97 253.81 330.64 253.81 331.75 253.53C332.87 253.25 334.54 252.23 335.65 252.23C336.76 252.23 338.53 253.63 339.55 253.53C340.57 253.44 342.05 253.25 342.79 251.58C343.53 249.91 344.18 244.35 344.74 241.84C345.30 239.34 346.04 236.46 346.69 234.05C347.34 231.64 348.64 225.70 349.29 224.96C349.94 224.22 350.58 227.93 351.23 228.86C351.88 229.78 353.09 231.83 353.83 231.45C354.57 231.08 355.69 227.37 356.43 226.26C357.17 225.15 358.28 224.96 359.03 223.66C359.77 222.36 360.97 219.21 361.62 217.17C362.27 215.13 363.06 210.98 363.57 209.38C364.09 207.78 364.62 207.22 365.24 205.98C365.85 204.74 367.11 201.62 367.87 200.72C368.62 199.82 369.82 199.22 370.49 199.67C371.17 200.12 372.00 202.37 372.60 203.88C373.20 205.38 374.10 208.83 374.70 210.19C375.30 211.54 376.05 212.89 376.80 213.34C377.55 213.79 378.98 213.64 379.96 213.34C380.93 213.04 382.74 211.31 383.64 211.24C384.54 211.16 385.44 212.06 386.27 212.81C387.09 213.56 388.67 216.57 389.42 216.49C390.17 216.42 390.92 213.64 391.52 212.29C392.13 210.94 392.88 208.83 393.63 207.03C394.38 205.23 395.81 201.17 396.78 199.67C397.76 198.17 399.56 196.82 400.46 196.52C401.36 196.21 402.34 196.82 403.09 197.57C403.84 198.32 404.97 200.27 405.72 201.77C406.47 203.28 407.52 205.98 408.35 208.08C409.18 210.19 410.60 214.09 411.50 216.49C412.40 218.90 413.76 222.50 414.66 224.91C415.56 227.31 417.05 231.52 417.81 233.32C418.58 235.12 419.47 236.99 420.02 237.52C420.57 238.06 420.60 237.11 421.66 237.04C422.72 236.97 426.00 236.83 427.44 237.04C428.89 237.24 430.33 237.45 431.78 238.48C433.22 239.52 435.91 242.61 437.56 244.27C439.21 245.92 441.90 248.81 443.34 250.05C444.79 251.29 446.44 251.70 447.68 252.94C448.92 254.18 450.78 256.45 452.02 258.72C453.25 260.99 455.11 265.74 456.35 268.84C457.59 271.94 459.45 277.10 460.69 280.40C461.93 283.71 463.99 289.41 465.02 291.97C466.06 294.53 467.50 297.42 467.92 298.33L467.92 299.00Z" fill="#ebdcff" clip-path="url(#cb0)"/>
<path d="M78.50 430.50L78.50 429.09C78.50 428.37 78.20 425.99 78.50 424.03C78.81 422.07 79.95 416.18 80.67 415.36C81.40 414.53 82.74 418.25 83.56 418.25C84.39 418.25 85.42 416.18 86.46 415.36C87.49 414.53 89.76 413.08 90.79 412.46C91.82 411.85 93.17 412.05 93.68 411.02C94.20 409.99 93.37 406.27 94.41 405.24C95.44 404.20 98.95 403.89 100.91 403.79C102.87 403.69 106.07 404.62 108.14 404.51C110.20 404.41 113.30 403.07 115.37 403.07C117.43 403.07 120.53 404.00 122.59 404.51C124.66 405.03 127.76 406.27 129.82 406.68C131.89 407.10 134.98 407.61 137.05 407.41C139.11 407.20 142.21 405.75 144.28 405.24C146.34 404.72 149.44 404.00 151.50 403.79C153.57 403.59 156.67 403.89 158.73 403.79C160.80 403.69 164.35 402.91 165.96 403.07C167.57 403.22 169.06 404.44 170.00 404.88C170.94 405.32 171.79 405.60 172.50 406.13C173.22 406.67 174.29 409.17 175.01 408.64C175.72 408.10 176.80 403.99 177.51 402.38C178.23 400.77 179.30 397.37 180.02 397.37C180.73 397.37 181.89 401.30 182.52 402.38C183.15 403.45 183.86 405.78 184.40 404.88C184.93 403.99 185.65 398.35 186.28 396.12C186.90 393.88 188.15 389.77 188.78 389.23C189.41 388.70 190.12 391.02 190.66 392.36C191.19 393.70 192.00 397.19 192.54 398.62C193.07 400.05 193.88 402.73 194.41 402.38C194.95 402.02 195.58 398.26 196.29 396.12C197.01 393.97 198.53 389.23 199.42 387.35C200.32 385.48 201.84 382.97 202.55 382.97C203.27 382.97 203.89 384.04 204.43 387.35C204.97 390.66 205.77 405.24 206.31 406.13C206.84 407.03 207.65 397.19 208.18 393.61C208.72 390.04 209.53 383.51 210.06 381.09C210.60 378.68 211.40 376.71 211.94 376.71C212.48 376.71 213.19 379.93 213.82 381.09C214.44 382.26 215.61 384.67 216.32 384.85C217.04 385.03 218.20 381.81 218.83 382.35C219.45 382.88 220.08 386.10 220.70 388.61C221.33 391.11 222.58 400.23 223.21 399.87C223.83 399.52 224.46 390.75 225.09 386.10C225.71 381.45 226.87 370.18 227.59 367.32C228.31 364.46 229.38 365.71 230.09 366.07C230.81 366.43 231.88 368.40 232.60 369.83C233.31 371.26 234.57 373.76 235.10 376.09C235.64 378.41 236.09 383.24 236.35 386.10C236.62 388.96 236.80 396.12 236.98 396.12C237.16 396.12 237.25 389.32 237.61 386.10C237.96 382.88 238.86 375.73 239.48 373.58C240.11 371.44 241.36 370.90 241.99 371.08C242.61 371.26 243.42 373.76 243.87 374.83C244.31 375.91 244.67 378.77 245.12 378.59C245.56 378.41 246.46 376.44 247.00 373.58C247.53 370.72 248.53 360.70 248.87 358.56C249.21 356.41 248.95 359.64 249.38 358.57C249.81 357.49 251.08 351.95 251.89 351.05C252.69 350.16 254.21 351.41 255.02 352.30C255.82 353.20 256.90 356.78 257.52 357.31C258.15 357.85 258.86 357.13 259.40 356.06C259.94 354.99 260.65 351.23 261.28 349.80C261.90 348.37 262.98 346.40 263.78 346.04C264.59 345.69 266.11 346.58 266.91 347.30C267.72 348.01 268.88 351.77 269.42 351.05C269.95 350.34 270.31 344.43 270.67 342.29C271.03 340.14 271.39 337.64 271.92 336.03C272.46 334.42 273.80 332.63 274.43 331.02C275.05 329.41 275.77 326.01 276.30 324.76C276.84 323.50 277.65 321.89 278.18 322.25C278.72 322.61 279.61 325.65 280.06 327.26C280.51 328.87 280.96 331.55 281.31 333.52C281.67 335.49 282.21 339.25 282.57 341.04C282.92 342.82 283.46 344.97 283.82 346.04C284.18 347.12 284.62 347.47 285.07 348.55C285.52 349.62 286.50 353.65 286.95 353.56C287.40 353.47 287.75 348.46 288.20 347.92C288.65 347.39 289.45 349.35 290.08 349.80C290.70 350.25 291.87 350.78 292.58 351.05C293.30 351.32 294.46 351.23 295.09 351.68C295.71 352.13 296.43 354.09 296.97 354.18C297.50 354.27 298.31 351.14 298.84 352.30C299.38 353.47 300.28 359.64 300.72 362.32C301.17 365.01 301.62 368.40 301.97 371.09C302.33 373.77 302.87 379.32 303.23 381.11C303.58 382.89 304.03 382.89 304.48 383.61C304.93 384.33 305.73 385.40 306.36 386.11C306.98 386.83 308.15 387.90 308.86 388.62C309.58 389.33 310.49 390.59 311.37 391.12C312.24 391.66 313.70 392.58 315.00 392.37C316.30 392.17 318.87 389.81 320.47 389.72C322.08 389.63 324.60 391.33 326.26 391.74C327.91 392.16 330.18 392.49 332.04 392.61C333.90 392.74 337.99 392.61 339.27 392.61C340.55 392.61 340.67 393.64 341.00 392.61C341.33 391.58 341.00 388.07 341.58 385.38C342.16 382.70 343.93 376.30 345.05 373.82C346.16 371.34 348.15 369.19 349.38 368.04C350.62 366.88 352.48 365.93 353.72 365.73C354.96 365.52 356.61 366.06 358.06 366.59C359.50 367.13 362.19 368.53 363.84 369.48C365.49 370.43 367.97 372.21 369.62 373.24C371.27 374.27 373.75 375.60 375.40 376.71C377.06 377.83 379.53 379.60 381.19 381.05C382.84 382.49 385.32 385.18 386.97 386.83C388.62 388.48 391.60 391.49 392.75 392.61C393.90 393.73 394.19 394.07 395.00 394.66C395.81 395.25 397.46 396.14 398.45 396.73C399.43 397.32 400.91 398.30 401.90 398.80C402.88 399.29 404.36 400.08 405.35 400.18C406.33 400.28 407.81 399.68 408.80 399.49C409.78 399.29 411.26 398.99 412.25 398.80C413.23 398.60 414.71 398.40 415.70 398.11C416.68 397.81 418.16 397.12 419.14 396.73C420.13 396.33 421.61 395.25 422.59 395.35C423.58 395.45 425.06 396.92 426.04 397.42C427.03 397.91 428.51 398.40 429.49 398.80C430.48 399.19 431.96 399.78 432.94 400.18C433.93 400.57 435.41 401.26 436.39 401.56C437.38 401.85 438.85 402.05 439.84 402.25C440.83 402.44 442.30 403.03 443.29 402.94C444.27 402.84 445.75 401.95 446.74 401.56C447.72 401.16 449.20 399.78 450.19 400.18C451.17 400.57 452.65 403.33 453.64 404.32C454.62 405.30 456.10 406.58 457.09 407.08C458.07 407.57 459.55 407.37 460.54 407.76C461.52 408.16 463.00 409.83 463.98 409.83C464.97 409.83 466.45 408.36 467.43 407.76C468.42 407.17 469.90 405.70 470.88 405.70C471.87 405.70 473.35 407.37 474.33 407.76C475.32 408.16 476.80 408.55 477.78 408.45C478.77 408.36 480.25 407.27 481.23 407.08C482.22 406.88 483.69 407.17 484.68 407.08C485.67 406.98 487.14 406.58 488.13 406.39C489.11 406.19 490.69 405.99 491.58 405.70C492.47 405.40 493.45 404.71 494.34 404.32C495.22 403.92 497.29 403.13 497.79 402.94L497.79 430.50Z" fill="#ebdcff" clip-path="url(#cb1)"/>
<path d="M79.88 561.50L79.88 561.47C79.94 560.76 80.14 557.53 80.28 556.54C80.42 555.55 80.36 554.99 80.87 554.57C81.38 554.15 82.98 553.44 83.83 553.58C84.67 553.72 85.94 555.69 86.78 555.55C87.63 555.41 89.04 553.30 89.74 552.60C90.44 551.89 91.15 552.32 91.71 550.63C92.28 548.94 93.12 542.23 93.68 540.77C94.25 539.31 94.25 540.49 95.65 540.38C97.06 540.26 101.29 539.98 103.54 539.98C105.79 539.98 108.89 540.12 111.42 540.38C113.96 540.63 118.75 541.42 121.28 541.76C123.81 542.09 126.91 542.46 129.17 542.74C131.42 543.02 134.52 543.78 137.05 543.73C139.58 543.67 144.09 542.83 146.91 542.35C149.72 541.87 153.95 540.46 156.76 540.38C159.58 540.29 163.80 541.14 166.62 541.76C169.43 542.37 173.66 543.95 176.47 544.71C179.29 545.47 183.80 546.80 186.33 547.08C188.87 547.36 192.98 546.48 194.22 546.68C195.45 546.89 194.53 547.72 195.00 548.52C195.47 549.31 196.79 552.45 197.51 552.28C198.22 552.10 199.21 548.43 200.01 547.26C200.82 546.10 202.34 544.31 203.15 544.13C203.95 543.95 205.03 544.67 205.65 546.01C206.28 547.35 207.00 553.35 207.53 553.53C208.07 553.71 208.88 549.23 209.41 547.26C209.95 545.29 210.76 541.26 211.29 539.74C211.83 538.22 212.55 536.70 213.17 536.61C213.80 536.52 214.97 539.20 215.68 539.11C216.40 539.03 217.47 536.52 218.19 535.98C218.91 535.44 220.07 534.46 220.70 535.35C221.32 536.25 222.13 540.01 222.58 542.25C223.02 544.49 223.47 551.38 223.83 551.02C224.19 550.66 224.64 543.14 225.08 539.74C225.53 536.34 226.43 530.43 226.96 527.21C227.50 523.98 228.22 519.15 228.84 517.18C229.47 515.21 230.72 513.42 231.35 513.42C231.98 513.42 232.69 514.85 233.23 517.18C233.77 519.51 234.48 525.60 235.11 529.71C235.74 533.83 236.99 545.47 237.62 546.01C238.24 546.55 238.96 537.06 239.50 533.47C240.03 529.89 240.84 523.27 241.38 520.94C241.91 518.61 242.63 517.72 243.26 517.18C243.88 516.64 245.14 517.90 245.76 517.18C246.39 516.46 247.02 514.31 247.64 512.17C248.27 510.02 249.44 504.64 250.15 502.14C250.87 499.63 251.85 496.23 252.66 494.62C253.46 493.01 254.99 491.04 255.79 490.86C256.60 490.68 257.67 492.65 258.30 493.36C258.93 494.08 259.64 496.77 260.18 495.87C260.72 494.98 261.52 489.78 262.06 487.10C262.60 484.41 263.31 478.77 263.94 477.07C264.57 475.37 265.73 475.37 266.45 475.19C267.16 475.01 268.33 475.28 268.95 475.82C269.58 476.35 270.21 480.20 270.83 478.95C271.46 477.70 272.62 470.17 273.34 467.04C274.06 463.91 275.13 458.98 275.85 457.01C276.56 455.04 277.85 453.61 278.35 453.25C278.86 452.89 278.97 453.25 279.38 454.50C279.80 455.76 280.72 459.16 281.26 462.02C281.80 464.88 282.60 473.65 283.14 474.54C283.68 475.43 284.48 469.44 285.02 468.28C285.55 467.12 286.36 466.04 286.90 466.40C287.43 466.76 288.24 468.90 288.77 470.78C289.31 472.66 290.12 477.58 290.65 479.55C291.19 481.52 291.99 483.48 292.53 484.56C293.07 485.63 293.87 485.99 294.41 487.06C294.95 488.13 295.75 490.82 296.29 492.07C296.82 493.32 297.63 494.04 298.17 495.83C298.70 497.62 299.51 501.91 300.04 504.59C300.58 507.28 301.47 512.28 301.92 514.61C302.37 516.94 302.64 519.44 303.17 520.87C303.71 522.30 304.96 523.37 305.68 524.63C306.39 525.88 307.47 529.10 308.18 529.64C308.90 530.17 310.06 528.03 310.69 528.38C311.31 528.74 311.94 531.42 312.57 532.14C313.19 532.86 314.27 534.29 315.07 533.39C315.88 532.50 317.40 526.51 318.20 525.88C319.01 525.25 319.81 529.01 320.70 529.01C321.60 529.01 323.48 525.70 324.46 525.88C325.45 526.06 326.61 529.73 327.59 530.26C328.58 530.80 330.67 525.07 331.35 529.64C332.03 534.20 332.21 557.54 332.35 562.19L332.35 561.50Z" fill="#ebdcff" clip-path="url(#cb2)"/>
<path d="M254.25 692.80L254.25 692.59C254.31 687.04 254.37 660.45 254.67 653.69C254.97 646.94 255.75 647.69 256.35 645.28C256.95 642.88 258.06 640.03 258.87 636.87C259.68 633.72 261.13 626.21 262.03 623.21C262.93 620.20 264.28 617.50 265.18 615.85C266.08 614.19 267.43 612.99 268.33 611.64C269.24 610.29 270.74 608.19 271.49 606.39C272.24 604.58 273.05 601.28 273.59 599.03C274.13 596.77 274.82 592.57 275.27 590.62C275.72 588.66 276.23 586.11 276.75 585.36C277.26 584.61 278.25 584.61 278.85 585.36C279.45 586.11 280.35 589.56 280.95 590.62C281.55 591.67 282.45 591.22 283.05 592.72C283.65 594.22 284.40 598.43 285.16 601.13C285.91 603.83 287.41 608.49 288.31 611.64C289.21 614.80 290.56 620.20 291.46 623.21C292.36 626.21 293.87 630.41 294.62 632.67C295.37 634.92 296.27 636.87 296.72 638.98C297.17 641.08 297.56 639.73 297.77 647.39C297.98 655.05 298.13 686.13 298.19 692.59L298.19 692.80Z" fill="#ebdcff" clip-path="url(#cb3)"/>
<path d="M268.33 824.20L268.33 823.22C268.33 818.18 268.03 795.35 268.33 787.90C268.64 780.45 269.84 776.64 270.44 771.08C271.04 765.52 271.94 754.71 272.54 749.00C273.14 743.29 274.13 735.18 274.64 731.13C275.15 727.07 275.72 722.72 276.11 720.62C276.50 718.51 276.99 716.41 277.38 716.41C277.77 716.41 278.34 718.21 278.85 720.62C279.36 723.02 280.35 729.03 280.95 733.23C281.55 737.44 282.45 744.95 283.05 750.05C283.65 755.16 284.71 763.87 285.16 768.98C285.61 774.08 286.00 778.05 286.21 785.80C286.42 793.55 286.57 817.88 286.63 823.22L286.63 824.20Z" fill="#ebdcff" clip-path="url(#cb4)"/>
<polygon points="78.8,297.9 78.8,296.7 78.8,297.3 78.8,296.5 78.8,293.9 78.8,294.4 78.8,292.0 78.8,292.0 78.8,290.3 78.8,290.4 78.8,288.4 78.8,288.3 78.8,287.2 78.8,285.1 78.8,284.2 78.8,284.3 78.8,283.3 78.8,282.1 78.8,281.0 78.8,280.1 78.8,279.2 78.8,278.1 78.8,276.4 78.8,274.7 78.8,275.1 78.8,273.7 78.8,272.2 78.8,272.1 78.8,269.9 78.8,270.0 78.8,268.6 78.8,267.7 78.8,266.5 80.4,267.4 81.5,267.1 82.5,266.6 83.0,265.5 83.6,263.8 84.6,265.7 85.1,266.8 85.7,268.0 86.7,266.5 87.8,265.7 88.8,265.1 89.9,263.5 91.5,264.4 92.2,264.4 93.0,263.8 94.1,263.4 95.1,263.4 96.2,263.2 97.2,262.8 98.3,262.8 99.3,262.9 100.4,263.2 101.4,263.8 102.5,263.8 103.5,264.9 104.6,264.3 105.6,264.3 106.7,265.2 107.8,265.7 108.8,265.7 109.7,265.3 110.6,263.2 111.4,264.3 112.3,262.6 113.2,261.3 114.1,262.0 115.1,262.5 116.2,264.3 117.0,263.1 117.7,265.4 118.5,264.6 119.3,265.4 120.4,266.5 121.4,265.2 122.5,264.1 123.5,265.3 124.6,264.8 125.5,263.5 126.3,263.8 127.2,261.9 128.1,262.7 129.0,261.2 129.8,261.7 130.9,261.0 131.9,259.3 133.0,260.4 134.0,260.0 135.1,259.4 136.1,258.8 137.2,258.2 138.2,257.5 138.9,256.4 139.6,253.8 140.3,253.7 141.1,251.9 141.8,252.2 142.5,250.2 142.5,250.1 142.3,251.2 142.2,255.5 142.1,253.3 141.9,256.3 141.8,259.5 141.7,258.4 141.5,257.4 141.4,258.5 141.1,259.5 140.8,263.9 140.5,261.6 140.2,267.1 139.9,265.0 139.6,264.8 139.3,266.5 138.5,268.9 137.6,267.4 136.8,268.5 135.9,268.4 135.1,270.7 134.0,272.5 133.0,271.7 131.9,272.6 130.9,271.2 130.3,271.9 129.7,272.9 129.1,273.7 128.5,274.7 127.9,276.0 127.3,278.5 126.7,277.8 125.8,280.2 125.0,282.0 124.2,279.9 123.3,282.5 122.5,283.9 121.9,286.1 121.4,283.6 120.9,284.8 120.4,285.9 119.8,286.8 119.3,290.5 118.8,288.1 118.3,286.4 117.7,285.8 117.2,283.7 116.2,283.0 115.1,286.4 114.1,282.4 113.0,281.5 112.0,283.9 110.9,281.5 109.9,281.6 109.1,282.7 108.3,283.9 107.5,283.9 106.7,288.4 105.6,284.3 104.6,285.6 104.2,288.8 103.9,286.2 103.5,288.1 101.7,287.0 101.6,288.7 101.6,290.2 101.6,290.0 101.6,291.1 101.6,292.4 101.5,295.5 101.5,297.5 101.5,296.5 101.5,296.3 101.5,297.3 101.4,298.4 100.3,302.5 99.1,298.4 99.1,297.9 99.1,297.5 99.1,295.3 99.1,295.2 99.0,294.1 99.0,292.1 99.0,291.2 99.0,290.0 99.0,289.1 98.9,287.9 98.9,286.8 98.9,287.1 98.9,284.8 98.9,283.7 98.8,286.2 98.8,282.2 97.8,281.9 96.7,282.7 95.7,281.6 94.6,281.5 93.6,282.6 93.5,283.8 93.5,286.2 93.5,286.8 93.4,291.6 93.4,289.2 93.3,289.0 93.3,292.7 93.3,291.0 93.2,294.1 93.2,293.1 93.2,294.6 93.1,297.5 93.1,296.5 93.1,298.3 93.0,303.2 92.0,298.5 91.0,300.9 90.0,298.7 89.0,299.6 88.0,303.3 86.9,298.4 85.9,301.8 84.9,299.3 83.9,299.2 82.9,301.7 81.9,298.6 80.9,299.7 79.8,299.1 78.8,298.4" fill="#7308f2" clip-path="url(#cb0)"/>
<polygon points="309.2,299.5 309.2,263.2 310.0,262.5 310.8,262.2 311.6,261.7 312.4,261.5 313.2,259.8 314.0,259.0 314.8,257.6 315.6,257.5 316.4,256.9 317.2,257.0 318.0,256.9 318.8,256.9 319.6,257.1 320.4,257.8 321.2,257.5 322.0,257.9 322.8,256.5 323.6,255.8 324.4,255.4 325.2,255.8 326.0,254.9 326.8,254.3 327.6,253.7 328.4,253.5 329.2,254.1 330.0,253.9 330.8,253.8 331.6,253.7 332.4,252.8 333.2,253.0 334.0,252.5 334.8,252.7 335.6,252.5 336.4,252.8 337.2,252.2 338.0,253.3 338.8,253.6 339.6,253.8 340.4,252.5 341.2,252.1 342.0,251.6 342.8,251.0 343.6,247.8 344.0,299.5" fill="#7308f2" clip-path="url(#cb0)"/>
<polygon points="306.5,299.5 306.5,262.6 307.2,262.3 307.9,262.7 308.6,262.3 309.3,261.6 309.5,261.2 309.5,299.5" fill="#7308f2" clip-path="url(#cb0)"/>
<path d="M296.7 248.0V299.5" stroke="#7308f2" stroke-width="1.4" fill="none" clip-path="url(#cb0)"/>
<polygon points="343.5,265.0 343.8,242.0 346.3,238.0 346.8,265.0" fill="#7308f2" clip-path="url(#cb0)"/>
<polygon points="349.5,247.0 349.8,228.0 350.8,228.0 350.8,247.0" fill="#7308f2" clip-path="url(#cb0)"/>
<polygon points="353.2,299.5 353.4,236.0 355.5,232.0 355.9,236.0 355.8,299.5" fill="#7308f2" clip-path="url(#cb0)"/>
<polygon points="255.2,228.6 255.9,227.6 256.6,227.2 257.3,226.4 258.4,226.4 259.4,226.6 260.5,225.9 261.5,225.4 262.6,224.6 263.6,224.3 264.7,223.8 265.7,222.9 266.4,222.5 267.1,221.6 267.8,221.0 267.8,225.6 267.1,225.7 266.4,226.2 265.7,227.1 264.7,228.3 263.6,228.1 262.6,229.4 261.5,229.2 260.5,230.1 259.4,230.8 258.4,230.4 257.3,230.8 256.6,231.2 255.9,231.9 255.2,232.2" fill="#7308f2" clip-path="url(#cb0)"/>
<polygon points="78.5,428.2 78.5,429.1 78.5,427.8 78.5,426.8 78.5,425.0 78.5,425.0 78.8,423.7 79.0,422.8 79.3,420.6 79.6,420.7 79.9,417.9 80.1,418.5 80.4,417.4 80.7,415.7 81.4,416.8 82.1,417.8 82.8,418.0 83.6,419.2 84.3,417.5 85.0,417.1 85.7,416.1 86.5,415.9 87.3,415.7 88.2,415.1 89.1,414.5 89.9,412.6 90.8,413.5 91.8,411.6 92.7,412.5 93.7,412.0 93.8,410.8 94.0,408.2 94.1,408.3 94.3,407.3 94.4,404.9 95.5,406.0 96.6,405.6 97.7,405.2 98.7,404.4 99.8,404.2 100.9,404.3 101.9,404.8 103.0,404.9 104.0,405.1 105.0,404.0 106.1,404.7 107.1,404.6 108.1,405.5 109.2,405.1 110.2,404.2 111.2,404.5 112.3,404.7 113.3,404.3 114.3,402.9 115.4,404.0 116.4,404.3 117.4,404.4 118.5,404.0 119.5,403.7 120.5,405.1 121.6,405.3 122.6,405.5 123.6,405.8 124.7,405.8 125.7,406.4 126.7,406.7 127.8,407.0 128.8,405.5 129.8,406.9 130.9,407.8 131.9,406.1 132.9,408.0 134.0,408.0 135.0,406.3 136.0,407.3 137.0,407.6 138.1,407.9 139.1,407.8 140.1,407.0 141.2,407.2 142.2,406.8 143.2,406.4 144.3,406.2 145.3,405.9 146.3,404.8 147.4,405.0 148.4,405.2 149.4,404.7 150.5,404.8 151.5,404.8 152.5,404.4 153.6,404.7 154.6,404.0 155.6,403.3 156.7,404.6 157.7,404.4 158.7,404.0 159.8,404.5 160.8,404.6 161.8,403.7 162.9,403.0 163.9,403.3 164.9,403.5 166.0,402.8 167.0,403.3 168.0,403.3 169.1,403.6 170.1,403.6 171.1,403.1 172.2,403.4 173.2,403.2 174.0,401.7 174.8,401.2 175.7,400.7 176.5,400.4 177.3,399.6 178.1,398.8 179.0,397.8 180.0,397.4 181.0,396.2 182.0,394.5 182.0,397.1 181.4,401.9 180.8,400.3 180.2,400.7 179.6,400.4 179.0,402.6 178.3,403.5 177.7,403.1 177.0,408.4 176.4,405.2 175.8,406.0 175.1,409.6 174.5,408.9 173.8,409.2 173.2,409.8 172.2,411.8 171.1,408.4 170.1,411.2 169.1,408.4 168.0,407.8 167.0,407.4 166.0,406.4 164.9,407.1 163.9,406.8 162.9,407.6 161.8,407.2 160.8,407.4 159.8,407.7 158.7,408.7 157.7,411.4 156.7,408.6 155.6,410.5 154.6,409.4 153.6,410.5 152.5,409.1 151.5,412.2 150.6,412.1 149.7,413.7 148.8,412.1 147.9,413.4 147.0,412.6 146.1,415.5 145.2,412.4 144.3,415.3 143.7,417.4 143.1,414.6 142.5,415.7 142.0,418.7 141.4,417.3 141.4,418.3 141.3,419.3 141.3,420.4 141.3,422.8 141.2,426.7 141.2,423.5 141.2,424.5 141.1,426.8 141.1,429.5 139.9,426.6 139.8,427.9 139.7,428.0 139.6,426.0 139.5,422.0 139.4,424.0 139.3,423.8 139.2,418.9 138.1,419.7 137.0,419.2 136.0,418.3 135.0,418.5 134.0,418.1 132.9,418.0 131.9,418.0 130.9,419.8 129.8,417.9 128.8,417.7 127.8,417.9 126.7,417.4 125.7,417.4 124.7,417.0 123.6,419.8 122.6,416.7 121.6,419.2 120.5,416.1 119.5,416.7 118.5,415.8 117.4,415.9 116.4,417.9 115.4,417.8 114.3,416.2 113.3,415.0 112.3,419.2 111.2,414.7 110.2,415.4 109.2,414.9 108.1,415.6 106.7,417.0 106.6,417.7 106.5,416.5 106.3,417.6 106.2,418.9 106.1,422.3 106.0,420.9 105.8,420.5 105.6,422.9 105.3,419.7 105.1,416.7 104.9,415.7 104.7,414.8 104.5,415.3 103.3,413.7 102.1,413.5 100.9,412.9 99.8,413.5 98.6,413.5 97.4,413.7 96.3,414.2 95.1,419.1 95.1,415.3 95.0,418.6 94.9,417.7 94.9,420.0 94.8,419.5 94.8,424.7 94.7,421.8 94.6,423.2 94.6,426.4 94.5,425.8 94.5,426.2 94.4,428.4 93.3,427.4 92.3,427.5 91.2,426.6 90.2,427.3 89.1,430.7 88.0,429.0 87.0,426.6 85.9,427.4 84.9,426.6 83.8,431.2 82.7,427.2 81.7,426.9 80.6,428.9 79.6,428.0 78.5,426.6" fill="#7308f2" clip-path="url(#cb1)"/>
<polygon points="306.4,431.0 306.4,386.5 307.2,386.9 308.0,387.6 308.8,388.9 309.6,388.8 310.4,390.3 311.2,391.0 312.0,391.1 312.8,391.9 313.6,391.7 314.4,392.0 315.2,392.2 316.0,392.1 316.8,391.1 317.6,390.9 318.4,390.5 319.2,390.3 320.0,390.2 320.8,389.5 321.6,390.3 322.4,390.2 323.2,390.6 324.0,390.6 324.8,391.1 325.6,391.9 326.4,391.8 327.2,392.1 328.0,391.7 328.8,391.8 329.6,391.9 330.4,392.4 331.2,392.5 332.0,392.8 332.8,392.1 333.6,392.7 334.4,392.9 335.2,392.6 336.0,392.1 336.8,392.3 337.6,392.0 338.4,392.2 339.2,392.9 340.0,392.6 340.8,392.7 341.0,431.0" fill="#7308f2" clip-path="url(#cb1)"/>
<polygon points="303.2,431.0 303.2,381.0 304.6,383.0 304.6,431.0" fill="#7308f2" clip-path="url(#cb1)"/>
<polygon points="395.0,393.4 395.9,393.3 396.7,395.1 397.6,395.6 398.4,396.1 399.3,396.4 400.2,397.2 401.0,397.5 401.9,398.8 403.0,398.5 404.2,399.5 405.3,399.1 406.5,399.9 407.6,399.7 408.8,399.5 409.9,398.1 411.1,397.1 412.2,398.1 413.4,398.4 414.5,396.9 415.7,396.9 416.8,397.2 418.0,397.1 419.1,396.7 420.3,396.1 421.4,395.7 422.6,395.1 423.5,395.2 424.3,394.3 425.2,396.9 426.0,397.0 427.2,397.9 428.3,398.3 429.5,397.5 430.6,398.8 431.8,397.8 432.9,400.0 434.1,400.6 435.2,401.0 436.4,401.0 437.5,399.7 438.7,399.7 439.8,402.0 441.0,402.3 442.1,402.7 443.3,402.3 444.4,402.5 445.6,402.0 446.7,401.6 447.9,401.1 449.0,399.8 450.2,400.2 450.9,398.7 451.6,401.8 452.3,401.0 452.9,403.5 453.6,404.3 454.5,404.1 455.4,405.7 456.2,405.4 457.1,407.1 458.2,407.3 459.4,406.4 460.5,406.9 461.4,406.7 462.3,407.8 463.1,409.3 464.0,409.2 464.8,408.4 465.7,408.6 466.6,406.3 467.4,407.7 468.3,405.0 469.2,405.8 470.0,406.2 470.9,405.7 471.7,405.5 472.6,405.4 473.5,407.2 474.3,407.7 475.5,407.0 476.6,408.2 477.8,406.9 478.9,407.7 480.1,407.5 481.2,407.0 482.4,406.6 483.5,406.9 484.7,406.3 485.8,406.8 487.0,405.3 488.1,406.3 489.3,405.5 490.4,405.3 491.6,405.5 492.5,405.1 493.4,403.6 494.3,402.2 495.5,402.6 496.6,402.9 497.8,402.9 497.8,407.8 496.6,410.5 495.5,409.0 494.3,408.8 493.4,409.3 492.5,409.8 491.6,410.2 490.4,410.4 489.3,410.7 488.1,414.5 487.0,413.3 485.8,413.2 484.7,415.0 483.5,411.9 482.4,413.5 481.2,411.6 480.1,412.8 478.9,413.0 477.8,415.6 476.6,416.6 475.5,412.5 474.3,412.3 473.5,412.3 472.6,411.4 471.7,411.6 470.9,410.2 470.0,412.7 469.2,412.2 468.3,411.8 467.4,412.5 466.6,416.7 465.7,413.3 464.8,413.8 464.0,414.9 463.1,414.1 462.3,414.0 461.4,413.0 460.5,413.6 459.4,412.1 458.2,411.8 457.1,411.6 456.2,411.7 455.4,410.6 454.5,410.1 453.6,411.6 452.9,410.9 452.3,407.9 451.6,406.4 450.9,407.3 450.2,406.8 449.0,405.1 447.9,406.0 446.7,408.0 445.6,408.2 444.4,407.0 443.3,407.5 442.1,407.6 441.0,408.2 439.8,407.6 438.7,406.6 437.5,409.5 436.4,407.7 435.2,405.6 434.1,407.2 432.9,405.4 431.8,404.2 430.6,403.9 429.5,406.3 428.3,404.1 427.2,404.5 426.0,404.4 425.2,401.5 424.3,401.6 423.5,403.0 422.6,402.0 421.4,402.6 420.3,400.8 419.1,404.0 418.0,403.9 416.8,403.0 415.7,402.9 414.5,402.9 413.4,403.1 412.2,403.4 411.1,405.6 409.9,406.6 408.8,404.9 407.6,405.5 406.5,404.7 405.3,407.5 404.2,404.5 403.0,403.9 401.9,404.2 401.0,405.1 400.2,406.0 399.3,402.6 398.4,401.4 397.6,403.0 396.7,401.6 395.9,403.4 395.0,399.2" fill="#7308f2" clip-path="url(#cb1)"/>
<path d="M447.2 405.9V425.2M400.4 402.4V413.6M418.1 401.7V404.5M447.8 405.6V410.2M426.9 402.3V414.5M447.7 405.7V418.6M417.8 401.8V409.8M405.5 404.7V425.6M449.6 404.9V409.0M399.0 401.6V406.2M415.7 402.6V421.8M444.9 406.8V424.1M399.5 401.9V417.8M434.6 405.3V417.7M449.2 405.1V407.3M404.7 404.4V419.5M446.8 406.0V419.2M412.8 403.2V414.3M437.2 406.2V408.9M414.2 402.9V407.5M403.6 404.0V412.6M405.9 404.6V408.9M404.6 404.4V417.5M397.7 400.8V414.9M407.3 404.3V406.4M446.2 406.3V410.4M446.5 406.2V424.3M444.1 407.1V410.2M420.7 400.6V403.2M446.2 406.3V423.7M430.3 403.6V411.7M415.0 402.7V419.7M422.3 400.0V411.9M404.6 404.4V408.5M400.0 402.2V416.2M426.3 402.0V405.1M443.1 407.4V412.2M418.8 401.4V404.6M411.4 403.5V420.9M414.7 402.8V406.2M473.6 411.8V423.6M493.4 409.3V416.2M497.0 407.8V413.0M493.0 409.5V428.4M460.1 412.2V427.4M463.7 414.2V424.6M459.7 412.1V424.9M497.6 407.5V431.0M494.4 408.8V415.2M463.9 414.3V431.0M452.8 407.8V427.8M464.1 414.3V431.0M450.8 405.4V426.9M466.4 412.9V420.5M450.1 404.7V426.7M475.3 412.5V421.2M470.9 410.2V431.0M460.5 412.3V429.3M456.6 411.2V419.8M487.0 411.1V430.9M459.4 412.0V417.9M454.2 409.3V427.0M473.8 411.9V422.7M459.9 412.1V430.0M484.0 411.6V431.0M478.0 412.9V422.0M453.2 408.2V428.4M469.6 411.0V430.9M452.7 407.6V429.2M466.1 413.1V431.0M491.5 410.2V425.7M450.7 405.3V428.7M472.9 411.4V431.0M462.8 413.6V422.3M489.9 410.5V423.4M457.8 411.7V424.7M478.6 412.6V415.9M475.0 412.4V426.9M474.8 412.3V419.4M484.3 411.6V431.0M491.5 410.2V422.1M484.1 411.6V424.7M486.1 411.3V416.7M491.9 410.0V431.0M473.8 411.9V427.8M475.5 412.5V428.9M451.0 405.6V430.1M460.7 412.4V421.0M454.9 409.8V420.1M489.2 410.7V415.0M454.6 409.6V429.1M459.4 412.0V415.9M478.8 412.6V429.7M475.1 412.4V431.0M454.9 409.9V431.0M484.4 411.6V416.4M455.9 410.6V426.1M474.0 412.1V423.0M455.9 410.6V424.3M456.6 411.2V428.6M491.3 410.2V418.0M477.5 412.9V431.0M457.9 411.7V431.0M495.0 408.5V421.9M470.2 410.6V431.0M475.2 412.4V425.9M495.2 408.5V429.5M466.3 413.0V423.0M466.1 413.1V427.4M497.1 407.7V429.2M237.0 395.8V431.0M139.9 415.0V431.0" stroke="#7308f2" stroke-width="1.5" fill="none" clip-path="url(#cb1)"/>
<polygon points="79.9,560.9 80.0,560.1 80.1,558.7 80.2,558.6 80.3,557.1 80.6,554.8 80.9,553.9 81.9,555.0 82.8,554.6 83.8,553.9 84.8,555.0 85.8,555.4 86.8,556.4 87.5,555.5 88.3,554.6 89.0,554.1 89.7,553.4 90.7,550.8 91.7,550.6 91.9,549.0 92.1,549.0 92.3,547.5 92.5,546.2 92.7,545.3 92.9,545.5 93.1,544.1 93.3,543.5 93.5,542.0 93.7,541.5 94.7,541.1 95.7,539.8 96.8,540.7 97.9,541.0 99.0,540.8 100.2,540.8 101.3,539.3 102.4,540.8 103.5,540.7 104.7,540.3 105.8,540.9 106.9,540.6 108.0,539.4 109.2,540.8 110.3,541.1 111.4,541.0 112.5,541.1 113.6,541.5 114.7,541.6 115.8,541.8 116.9,541.9 118.0,542.0 119.1,542.2 120.2,542.4 121.3,542.6 122.4,542.4 123.5,541.8 124.7,542.6 125.8,542.8 126.9,542.8 128.0,543.4 129.2,542.9 130.3,543.5 131.4,543.5 132.5,543.5 133.7,543.9 134.8,544.2 135.9,544.4 137.1,544.5 138.1,544.1 139.2,544.1 140.3,543.7 141.4,543.9 142.5,543.7 143.6,542.5 144.7,543.4 145.8,543.0 146.9,542.9 147.9,542.9 148.9,541.0 149.9,542.5 150.8,541.5 151.8,542.2 152.8,542.0 153.8,540.6 154.8,541.4 155.8,541.4 156.8,541.1 157.9,541.2 159.0,540.8 160.0,541.6 161.1,541.8 162.2,540.4 163.3,541.4 164.4,542.2 165.5,542.3 166.6,542.5 167.6,542.3 168.6,542.7 169.6,542.3 170.6,542.7 171.5,543.8 172.5,543.6 173.5,543.9 174.5,544.1 175.5,545.0 176.5,544.6 177.5,545.1 178.4,544.6 179.4,546.2 180.4,545.3 181.4,546.7 182.4,546.1 183.4,546.8 184.4,547.2 185.3,546.0 186.3,547.5 187.5,547.7 188.6,546.9 189.7,546.5 190.8,547.2 192.0,547.5 193.1,547.4 194.2,547.3 195.2,546.4 196.2,546.7 197.2,546.3 198.2,545.7 199.1,545.5 200.1,545.2 201.1,544.0 202.1,543.4 203.1,544.5 204.1,544.9 205.1,545.3 206.0,545.5 206.5,544.5 207.0,543.2 207.5,542.2 208.0,541.6 208.5,539.2 209.0,539.5 209.5,537.5 210.0,536.6 210.0,544.4 209.5,545.4 209.0,546.4 208.5,547.4 208.0,548.4 207.5,549.4 207.0,552.0 206.5,551.3 206.0,552.3 205.4,551.6 204.7,550.8 204.1,550.3 203.4,549.0 202.8,548.7 202.1,547.4 201.2,550.6 200.3,548.5 199.5,549.1 198.6,549.5 197.7,550.1 196.8,552.1 196.0,551.5 195.1,553.7 194.2,552.4 193.1,552.4 192.0,553.7 190.8,552.9 189.7,552.9 188.6,555.5 187.5,553.5 186.3,555.9 185.3,553.5 184.4,552.5 183.4,553.7 182.4,553.9 181.4,551.4 180.4,552.8 179.4,552.9 178.4,550.1 177.5,549.8 176.5,550.0 175.5,549.2 174.5,551.2 173.5,548.7 172.5,549.9 171.5,547.3 170.6,547.1 169.6,546.8 168.6,546.3 167.6,546.4 166.6,547.6 165.6,545.2 164.6,545.0 163.7,544.8 162.7,544.7 161.7,545.5 160.7,544.3 159.7,545.4 158.7,543.8 157.7,543.6 156.8,545.0 155.8,544.3 154.8,545.5 153.8,544.4 152.8,544.2 151.8,544.4 150.8,544.6 149.9,546.1 148.9,545.0 147.9,545.2 146.9,545.6 145.8,546.1 144.7,548.6 143.6,546.3 142.5,546.8 141.4,546.2 140.3,546.8 139.2,546.8 138.1,546.6 137.1,547.6 135.9,547.4 134.8,548.7 133.7,547.1 132.5,547.1 131.4,548.2 130.3,547.3 129.2,548.8 128.2,547.4 127.2,547.0 126.2,547.6 125.2,549.6 124.2,546.6 123.3,547.0 122.3,546.9 121.3,546.0 120.3,545.7 119.3,545.8 118.3,545.6 117.3,545.0 116.4,544.7 115.4,544.6 114.4,546.3 113.4,546.8 112.4,545.3 111.4,544.4 110.3,545.5 109.2,543.3 108.0,543.7 106.9,545.0 105.8,546.1 104.7,543.3 103.5,543.2 102.4,544.9 101.3,543.7 100.2,543.4 99.0,546.3 97.9,544.1 96.8,543.6 95.7,543.7 94.7,546.1 94.6,546.5 94.5,546.1 94.5,547.1 94.4,547.8 94.3,548.8 94.3,549.7 94.2,551.2 94.1,552.7 94.1,555.4 94.0,554.0 93.9,555.6 93.9,556.2 93.8,557.2 93.7,559.1 93.7,559.6 92.6,559.6 91.6,562.2 90.5,559.6 89.4,560.6 88.4,561.5 87.3,559.5 86.3,559.7 85.2,559.2 84.1,559.2 83.1,561.4 82.0,559.4 80.9,559.2 79.9,561.8" fill="#7308f2" clip-path="url(#cb2)"/>
<polygon points="302.6,562.0 302.6,518.1 303.4,521.0 304.2,522.0 305.0,523.7 305.8,524.4 306.6,526.1 307.4,528.3 308.2,529.2 309.0,529.1 309.8,529.1 310.6,528.6 311.4,529.4 312.2,531.2 313.0,532.5 313.8,532.5 314.6,533.5 315.4,532.2 316.2,531.0 317.0,528.7 317.8,526.5 318.6,526.2 319.4,526.9 320.2,528.5 321.0,528.4 321.8,528.4 322.6,527.4 323.4,526.5 324.2,525.7 325.0,526.6 325.8,527.4 326.6,529.1 327.4,529.5 328.2,530.1 329.0,530.0 329.8,529.6 330.6,529.9 331.4,531.1 332.2,562.0" fill="#7308f2" clip-path="url(#cb2)"/>
<polygon points="302.6,562.0 302.2,520.0 303.5,521.0 304.5,562.0" fill="#7308f2" clip-path="url(#cb2)"/>
<polygon points="294.2,640.0 296.5,648.0 299.3,658.0 299.6,693.5 294.6,693.5 294.2,660.0" fill="#7308f2" clip-path="url(#cb3)"/>
<polygon points="254.2,693.5 254.3,656.0 255.5,648.0 257.5,645.0 257.2,660.0 256.2,693.5" fill="#7308f2" clip-path="url(#cb3)"/>
<path d="M78.83 298.37C78.83 298.16 78.83 297.32 78.83 296.87C78.83 296.41 78.83 295.67 78.83 295.16C78.83 294.66 78.83 293.82 78.83 293.33C78.83 292.84 78.83 292.25 78.83 291.76C78.83 291.27 78.83 290.38 78.83 289.89C78.83 289.40 78.83 288.71 78.83 288.33C78.83 287.95 78.83 287.69 78.83 287.24C78.83 286.79 78.83 285.68 78.83 285.19C78.83 284.70 78.83 284.32 78.83 283.83C78.83 283.34 78.83 282.24 78.83 281.76C78.83 281.28 78.83 280.93 78.83 280.49C78.83 280.05 78.83 279.17 78.83 278.70C78.83 278.23 78.83 277.66 78.83 277.18C78.83 276.71 78.83 275.90 78.83 275.39C78.83 274.87 78.83 274.04 78.83 273.57C78.83 273.11 78.83 272.59 78.83 272.14C78.83 271.69 78.83 270.93 78.83 270.44C78.83 269.96 78.83 269.14 78.83 268.73C78.83 268.32 78.83 268.00 78.83 267.58C78.83 267.15 78.61 265.96 78.83 265.77C79.06 265.59 79.89 266.30 80.41 266.30C80.94 266.30 82.06 266.22 82.52 265.77C82.97 265.32 83.27 263.29 83.57 263.14C83.87 262.99 84.32 264.20 84.62 264.72C84.92 265.25 85.22 266.82 85.67 266.82C86.12 266.82 87.17 265.25 87.77 264.72C88.37 264.20 89.35 263.22 89.88 263.14C90.40 263.07 91.00 264.27 91.45 264.20C91.90 264.12 92.55 262.92 93.03 262.62C93.51 262.32 94.28 262.20 94.78 262.09C95.28 261.98 96.03 261.92 96.54 261.84C97.04 261.76 97.81 261.48 98.29 261.57C98.76 261.65 99.41 262.27 99.87 262.42C100.32 262.57 100.92 262.44 101.44 262.62C101.97 262.80 102.99 263.44 103.55 263.67C104.10 263.90 104.80 264.10 105.30 264.24C105.80 264.38 106.55 264.61 107.05 264.68C107.55 264.75 108.30 264.82 108.80 264.72C109.30 264.62 110.06 264.30 110.56 263.96C111.06 263.62 111.81 262.67 112.31 262.32C112.81 261.98 113.51 261.45 114.06 261.57C114.61 261.68 115.64 262.76 116.16 263.14C116.69 263.53 117.29 263.90 117.74 264.28C118.19 264.66 118.84 265.71 119.32 265.77C119.79 265.83 120.57 264.88 121.07 264.70C121.57 264.52 122.32 264.66 122.82 264.51C123.32 264.37 124.08 263.92 124.58 263.67C125.08 263.42 125.83 263.07 126.33 262.75C126.83 262.43 127.58 261.77 128.08 261.45C128.58 261.13 129.33 260.76 129.83 260.52C130.33 260.27 131.09 259.93 131.59 259.74C132.09 259.56 132.84 259.43 133.34 259.24C133.84 259.05 134.62 258.66 135.09 258.41C135.57 258.17 136.22 257.82 136.67 257.52C137.12 257.22 137.87 256.74 138.25 256.31C138.62 255.88 139.00 254.98 139.30 254.53C139.60 254.08 140.06 253.65 140.35 253.15C140.64 252.65 141.11 251.53 141.31 251.03C141.51 250.53 141.61 250.12 141.73 249.63C141.85 249.13 142.03 248.05 142.15 247.55C142.27 247.04 142.45 246.59 142.57 246.09C142.69 245.59 142.87 244.54 142.99 244.05C143.11 243.55 143.20 243.13 143.41 242.62C143.62 242.11 144.16 241.00 144.46 240.47C144.76 239.94 145.14 239.08 145.52 238.94C145.89 238.79 146.75 239.04 147.09 239.46C147.43 239.89 147.66 241.30 147.88 241.90C148.11 242.50 148.50 243.13 148.67 243.67C148.84 244.21 148.95 245.15 149.06 245.70C149.18 246.25 149.35 247.07 149.46 247.52C149.57 247.97 149.74 248.32 149.85 248.82C149.97 249.32 150.08 250.54 150.25 251.03C150.42 251.52 150.81 251.79 151.04 252.24C151.26 252.69 151.49 254.06 151.82 254.19C152.16 254.31 152.95 253.66 153.40 253.13C153.85 252.61 154.53 250.88 154.98 250.50C155.43 250.13 156.11 250.20 156.56 250.50C157.01 250.81 157.81 252.12 158.13 252.61C158.46 253.09 158.63 253.50 158.83 253.91C159.03 254.33 159.34 255.03 159.54 255.52C159.74 256.01 160.06 257.35 160.24 257.34C160.41 257.33 160.61 255.94 160.76 255.43C160.91 254.92 161.14 254.22 161.29 253.74C161.44 253.26 161.68 252.60 161.81 252.08C161.95 251.57 162.10 250.61 162.21 250.14C162.32 249.66 162.49 249.16 162.60 248.78C162.72 248.39 162.88 247.89 163.00 247.46C163.11 247.03 163.23 246.30 163.39 245.77C163.55 245.24 163.89 244.23 164.09 243.76C164.29 243.30 164.59 243.00 164.79 242.54C164.99 242.08 165.17 240.73 165.49 240.52C165.82 240.30 166.62 240.59 167.07 241.04C167.52 241.49 168.39 243.02 168.65 243.67C168.91 244.32 168.84 245.02 168.91 245.57C168.99 246.12 169.10 247.03 169.17 247.52C169.25 248.01 169.36 248.49 169.44 248.99C169.51 249.50 169.59 250.52 169.70 251.03C169.81 251.54 170.08 252.11 170.23 252.56C170.38 253.01 170.64 254.19 170.75 254.19C170.86 254.18 170.94 253.04 171.01 252.49C171.09 251.95 171.20 250.99 171.28 250.38C171.35 249.78 171.47 248.77 171.54 248.27C171.62 247.76 171.62 246.73 171.80 246.82C171.99 246.92 172.65 248.34 172.85 248.93C173.06 249.52 173.11 250.42 173.21 250.95C173.31 251.48 173.46 252.19 173.56 252.65C173.66 253.12 173.71 254.27 173.91 254.19C174.11 254.10 174.77 252.14 174.96 252.08C175.14 252.03 175.14 253.32 175.21 253.80C175.28 254.29 175.39 254.90 175.46 255.50C175.53 256.11 175.64 257.44 175.72 258.04C175.79 258.65 175.90 259.24 175.97 259.74C176.04 260.24 176.14 261.58 176.22 261.55C176.29 261.51 176.42 260.01 176.49 259.50C176.57 258.99 176.69 258.45 176.77 257.98C176.84 257.50 176.96 256.61 177.04 256.19C177.12 255.77 177.24 255.49 177.31 255.05C177.39 254.61 177.50 253.71 177.59 253.13C177.67 252.56 177.81 251.50 177.90 251.01C177.99 250.52 178.13 250.16 178.22 249.68C178.31 249.20 178.44 248.29 178.53 247.65C178.62 247.02 178.76 245.80 178.85 245.23C178.94 244.66 179.07 244.13 179.16 243.67C179.25 243.21 179.39 242.52 179.48 241.99C179.57 241.45 179.70 240.42 179.79 239.90C179.89 239.38 180.02 238.86 180.11 238.35C180.20 237.83 180.33 236.30 180.43 236.31C180.52 236.32 180.67 237.91 180.77 238.41C180.87 238.91 181.01 239.37 181.11 239.81C181.21 240.26 181.35 240.95 181.45 241.50C181.55 242.05 181.68 243.06 181.79 243.67C181.91 244.28 182.12 245.29 182.25 245.78C182.38 246.27 182.57 246.66 182.70 247.11C182.83 247.56 183.06 248.89 183.16 248.93C183.26 248.97 183.34 247.90 183.41 247.38C183.48 246.86 183.59 245.86 183.66 245.30C183.74 244.73 183.84 243.97 183.92 243.44C183.99 242.92 184.10 242.19 184.17 241.62C184.24 241.05 184.35 240.02 184.42 239.46C184.50 238.91 184.61 238.26 184.68 237.73C184.76 237.19 184.87 236.34 184.95 235.75C185.02 235.15 185.14 234.11 185.21 233.59C185.29 233.07 185.29 232.47 185.47 232.10C185.66 231.74 186.34 230.94 186.52 231.05C186.70 231.16 186.67 232.42 186.74 232.89C186.80 233.37 186.89 233.90 186.95 234.36C187.01 234.82 187.10 235.57 187.16 236.11C187.22 236.65 187.31 237.64 187.37 238.12C187.43 238.60 187.50 239.57 187.58 239.46C187.66 239.36 187.83 237.88 187.93 237.41C188.03 236.94 188.18 236.63 188.28 236.17C188.38 235.71 188.43 234.79 188.63 234.21C188.83 233.63 189.42 232.16 189.68 232.10C189.94 232.05 190.24 233.24 190.47 233.84C190.69 234.44 191.09 235.68 191.26 236.31C191.42 236.94 191.51 237.69 191.61 238.22C191.71 238.76 191.86 239.58 191.96 240.06C192.06 240.54 192.18 241.63 192.31 241.57C192.43 241.50 192.68 240.12 192.83 239.62C192.98 239.13 193.21 238.57 193.36 238.10C193.51 237.63 193.66 236.87 193.89 236.31C194.11 235.75 194.71 234.20 194.94 234.21C195.16 234.21 195.31 235.82 195.46 236.33C195.61 236.85 195.84 237.37 195.99 237.82C196.14 238.27 196.36 238.96 196.51 239.46C196.66 239.97 196.89 240.84 197.04 241.34C197.19 241.84 197.42 242.47 197.57 242.94C197.72 243.41 197.94 244.08 198.09 244.63C198.24 245.19 198.49 246.79 198.62 246.82C198.75 246.86 198.90 245.41 199.01 244.87C199.12 244.33 199.29 243.62 199.41 243.07C199.52 242.53 199.69 241.58 199.80 241.07C199.91 240.55 200.03 239.94 200.19 239.46C200.36 238.99 200.76 238.19 200.98 237.73C201.21 237.28 201.60 236.29 201.77 236.31C201.94 236.33 202.05 237.31 202.17 237.86C202.28 238.41 202.45 239.57 202.56 240.16C202.67 240.74 202.84 241.46 202.95 241.97C203.07 242.47 203.07 243.58 203.35 243.67C203.63 243.76 204.66 243.07 204.93 242.62C205.20 242.17 205.15 241.09 205.24 240.52C205.33 239.95 205.47 239.14 205.56 238.63C205.65 238.12 205.78 237.47 205.87 236.95C205.96 236.43 206.10 235.55 206.19 235.00C206.28 234.46 206.31 233.14 206.50 233.15C206.70 233.17 207.25 234.63 207.56 235.08C207.86 235.53 208.16 236.13 208.61 236.31C209.06 236.48 210.31 236.08 210.71 236.31C211.11 236.54 211.21 237.47 211.41 237.94C211.61 238.42 211.91 239.14 212.11 239.65C212.31 240.17 212.66 241.18 212.81 241.57C212.96 241.95 213.03 241.96 213.15 242.34C213.28 242.72 213.53 243.77 213.68 244.22C213.83 244.68 213.83 245.01 214.21 245.49C214.58 245.98 215.71 247.60 216.31 247.60C216.91 247.60 217.81 245.87 218.41 245.49C219.01 245.12 219.99 244.82 220.52 244.97C221.04 245.12 221.83 246.12 222.09 246.55C222.36 246.97 222.28 247.44 222.36 247.92C222.43 248.41 222.54 249.43 222.62 249.93C222.69 250.42 222.81 250.90 222.88 251.41C222.96 251.91 223.07 252.96 223.14 253.46C223.22 253.96 223.33 254.47 223.41 254.91C223.48 255.35 223.58 256.52 223.67 256.54C223.76 256.55 223.95 255.56 224.06 255.03C224.18 254.51 224.35 253.35 224.46 252.85C224.57 252.35 224.74 251.99 224.85 251.54C224.97 251.09 225.13 250.18 225.25 249.70C225.36 249.22 225.53 248.66 225.64 248.20C225.75 247.75 225.92 246.95 226.04 246.51C226.15 246.08 226.32 245.63 226.43 245.18C226.54 244.74 226.71 243.38 226.82 243.39C226.94 243.40 227.11 244.83 227.22 245.23C227.33 245.64 227.50 245.85 227.61 246.24C227.73 246.63 227.89 247.46 228.01 247.95C228.12 248.45 228.29 249.21 228.40 249.70C228.52 250.19 228.70 250.90 228.82 251.38C228.94 251.85 229.12 252.56 229.24 253.04C229.36 253.52 229.54 254.19 229.66 254.71C229.78 255.23 229.96 256.11 230.08 256.68C230.20 257.24 230.38 258.65 230.50 258.64C230.62 258.63 230.81 257.10 230.93 256.61C231.05 256.12 231.23 255.71 231.35 255.22C231.47 254.74 231.65 253.81 231.77 253.23C231.89 252.66 232.07 251.68 232.19 251.18C232.31 250.67 232.50 250.20 232.61 249.70C232.71 249.20 232.83 248.21 232.92 247.67C233.01 247.12 233.15 246.43 233.24 245.89C233.33 245.35 233.46 244.49 233.55 243.91C233.64 243.34 233.78 242.39 233.87 241.86C233.96 241.34 234.03 240.74 234.19 240.24C234.34 239.73 234.75 238.77 234.97 238.32C235.20 237.87 235.54 237.09 235.76 237.08C235.99 237.08 236.33 237.82 236.55 238.27C236.78 238.72 237.15 239.67 237.34 240.24C237.53 240.80 237.72 241.73 237.87 242.21C238.02 242.69 238.24 243.20 238.39 243.59C238.54 243.99 238.73 245.04 238.92 244.97C239.10 244.89 239.48 243.51 239.71 243.06C239.93 242.61 240.16 241.84 240.49 241.81C240.83 241.79 241.77 242.47 242.07 242.87C242.37 243.27 242.45 244.11 242.60 244.62C242.75 245.12 242.97 245.98 243.12 246.40C243.27 246.83 243.35 247.20 243.65 247.60C243.95 247.99 244.78 249.17 245.23 249.17C245.68 249.17 246.48 248.07 246.80 247.60C247.13 247.13 247.30 246.44 247.50 245.90C247.70 245.35 248.01 244.29 248.21 243.78C248.41 243.27 248.66 242.85 248.91 242.34C249.16 241.83 249.66 240.83 249.96 240.23C250.26 239.63 250.76 238.69 251.01 238.13C251.26 237.58 251.51 236.86 251.71 236.33C251.91 235.79 252.21 234.87 252.41 234.38C252.61 233.89 252.86 233.39 253.11 232.88C253.36 232.37 253.86 231.41 254.16 230.81C254.46 230.21 254.76 229.28 255.22 228.67C255.67 228.06 256.72 226.87 257.32 226.57C257.92 226.27 258.82 226.72 259.42 226.57C260.02 226.42 260.92 225.82 261.52 225.52C262.13 225.21 263.03 224.76 263.63 224.46C264.23 224.16 265.13 223.86 265.73 223.41C266.33 222.96 267.41 221.87 267.83 221.31C268.25 220.75 268.43 219.84 268.68 219.48C268.92 219.12 269.28 219.11 269.52 218.77C269.76 218.44 270.12 217.58 270.36 217.12C270.60 216.66 271.03 216.03 271.20 215.57C271.37 215.10 271.43 214.33 271.53 213.86C271.62 213.40 271.76 212.81 271.86 212.30C271.95 211.79 272.09 210.83 272.18 210.27C272.28 209.70 272.41 208.88 272.51 208.34C272.62 207.80 272.81 207.00 272.92 206.50C273.04 206.00 273.22 205.33 273.33 204.85C273.45 204.37 273.63 203.56 273.74 203.12C273.86 202.68 274.00 202.30 274.16 201.77C274.31 201.24 274.62 199.95 274.81 199.42C275.00 198.89 275.28 198.56 275.47 198.05C275.66 197.54 275.91 196.41 276.13 195.86C276.34 195.30 276.71 194.72 276.95 194.16C277.18 193.59 277.37 192.37 277.77 191.91C278.17 191.45 279.18 190.83 279.74 190.93C280.30 191.02 281.37 192.11 281.71 192.57C282.06 193.03 282.02 193.69 282.15 194.16C282.27 194.62 282.46 195.30 282.59 195.82C282.71 196.35 282.92 197.29 283.02 197.83C283.13 198.36 283.26 199.07 283.35 199.58C283.45 200.09 283.59 200.89 283.68 201.39C283.78 201.89 283.92 202.67 284.01 203.10C284.10 203.53 284.26 204.01 284.34 204.40C284.42 204.78 284.50 205.28 284.56 205.79C284.62 206.30 284.72 207.43 284.78 207.94C284.84 208.46 284.93 208.90 285.00 209.38C285.07 209.85 285.17 210.77 285.24 211.26C285.31 211.76 285.42 212.41 285.49 212.82C285.56 213.22 285.66 213.71 285.73 214.11C285.80 214.51 285.90 215.10 285.97 215.62C286.04 216.14 286.15 217.27 286.22 217.75C286.29 218.23 286.39 218.56 286.46 218.97C286.53 219.38 286.63 220.15 286.70 220.64C286.77 221.12 286.86 222.37 286.95 222.36C287.04 222.36 287.23 221.12 287.34 220.59C287.45 220.05 287.62 219.11 287.73 218.62C287.84 218.14 288.01 217.71 288.12 217.17C288.23 216.64 288.40 215.44 288.51 214.88C288.62 214.33 288.78 213.78 288.90 213.27C289.01 212.77 289.17 211.78 289.29 211.35C289.40 210.91 289.56 210.59 289.68 210.21C289.79 209.83 289.95 209.12 290.06 208.70C290.18 208.28 290.34 207.75 290.45 207.29C290.57 206.83 290.70 205.99 290.84 205.48C290.99 204.97 291.31 204.21 291.49 203.70C291.68 203.19 291.96 202.49 292.14 201.91C292.33 201.33 292.63 199.66 292.79 199.64C292.95 199.62 293.14 201.27 293.28 201.78C293.42 202.29 293.63 202.74 293.77 203.20C293.91 203.66 294.11 204.48 294.25 204.99C294.39 205.50 294.66 206.33 294.74 206.78C294.82 207.22 294.80 207.68 294.82 208.11C294.84 208.55 294.88 209.33 294.90 209.83C294.92 210.34 294.96 211.23 294.98 211.67C295.00 212.10 295.04 212.40 295.06 212.88C295.08 213.35 295.12 214.50 295.14 214.97C295.17 215.44 295.20 215.73 295.22 216.16C295.25 216.59 295.28 217.44 295.30 217.99C295.33 218.54 295.36 219.60 295.38 220.02C295.41 220.44 295.44 220.57 295.46 220.92C295.49 221.28 295.52 221.99 295.54 222.49C295.57 222.99 295.60 223.94 295.62 224.42C295.65 224.89 295.68 225.34 295.71 225.83C295.73 226.32 295.76 227.42 295.79 227.86C295.81 228.30 295.84 228.42 295.87 228.89C295.89 229.37 295.92 230.61 295.95 231.17C295.97 231.73 296.00 232.34 296.03 232.79C296.05 233.24 296.08 233.93 296.11 234.34C296.13 234.75 296.16 235.26 296.19 235.66C296.21 236.06 296.24 236.67 296.27 237.16C296.29 237.64 296.33 238.58 296.35 239.07C296.37 239.55 296.41 240.05 296.43 240.55C296.45 241.04 296.47 241.96 296.49 242.51C296.51 243.05 296.54 243.84 296.56 244.38C296.58 244.92 296.60 245.69 296.62 246.26C296.64 246.83 296.67 248.33 296.69 248.34C296.71 248.35 296.73 246.88 296.75 246.34C296.77 245.80 296.80 245.09 296.82 244.57C296.84 244.06 296.86 243.33 296.88 242.75C296.90 242.18 296.91 241.07 296.95 240.55C296.99 240.02 297.10 239.61 297.16 239.05C297.22 238.49 297.30 237.23 297.36 236.64C297.42 236.05 297.51 235.42 297.57 234.93C297.63 234.44 297.72 233.72 297.78 233.23C297.84 232.73 297.93 231.94 297.99 231.45C298.04 230.97 298.13 230.32 298.18 229.82C298.24 229.32 298.32 228.48 298.38 227.96C298.43 227.43 298.52 226.66 298.57 226.15C298.63 225.63 298.71 224.84 298.77 224.37C298.82 223.90 298.91 223.31 298.96 222.87C299.02 222.43 299.10 221.70 299.16 221.29C299.21 220.88 299.29 220.44 299.35 220.01C299.41 219.58 299.49 218.77 299.55 218.28C299.60 217.78 299.68 217.08 299.74 216.55C299.80 216.02 299.72 214.95 299.94 214.57C300.15 214.20 301.02 213.70 301.23 213.92C301.45 214.15 301.39 215.56 301.45 216.14C301.51 216.72 301.60 217.49 301.67 217.97C301.73 218.46 301.82 219.03 301.88 219.54C301.94 220.05 302.04 221.07 302.10 221.53C302.16 221.99 302.25 222.28 302.32 222.77C302.38 223.26 302.49 224.40 302.53 224.96C302.57 225.53 302.59 226.25 302.61 226.73C302.64 227.20 302.67 227.87 302.69 228.30C302.72 228.72 302.75 229.21 302.78 229.67C302.80 230.13 302.83 230.97 302.86 231.51C302.88 232.05 302.92 232.99 302.94 233.44C302.96 233.89 303.00 234.26 303.02 234.69C303.04 235.11 303.08 236.00 303.10 236.44C303.12 236.89 303.16 237.36 303.18 237.79C303.21 238.22 303.24 238.92 303.26 239.45C303.29 239.98 303.32 241.08 303.34 241.50C303.37 241.93 303.40 242.06 303.43 242.44C303.45 242.82 303.48 243.65 303.51 244.19C303.53 244.73 303.56 245.71 303.59 246.21C303.61 246.70 303.65 247.25 303.67 247.65C303.69 248.04 303.73 248.51 303.75 248.98C303.77 249.45 303.68 250.36 303.83 250.94C303.98 251.51 304.53 252.45 304.81 253.01C305.08 253.57 305.58 254.33 305.78 254.83C305.97 255.34 306.06 256.02 306.17 256.55C306.28 257.08 306.45 258.01 306.56 258.53C306.67 259.06 306.84 259.71 306.95 260.22C307.06 260.73 307.23 261.60 307.34 262.13C307.45 262.66 307.39 263.85 307.73 263.92C308.06 263.99 309.03 262.99 309.68 262.62C310.32 262.25 311.72 261.78 312.27 261.32C312.83 260.87 313.20 259.99 313.57 259.43C313.94 258.87 314.31 257.81 314.87 257.43C315.43 257.05 316.82 256.79 317.47 256.78C318.12 256.77 318.86 257.16 319.42 257.35C319.97 257.53 320.90 258.16 321.36 258.08C321.83 258.00 322.29 257.07 322.66 256.80C323.03 256.52 323.50 256.40 323.96 256.13C324.42 255.86 325.35 255.18 325.91 254.90C326.47 254.62 327.30 254.29 327.86 254.18C328.41 254.08 329.25 254.26 329.81 254.17C330.36 254.08 331.20 253.71 331.75 253.53C332.31 253.35 333.14 253.11 333.70 252.92C334.26 252.74 335.09 252.28 335.65 252.23C336.21 252.18 337.04 252.39 337.60 252.57C338.15 252.76 339.04 253.49 339.55 253.53C340.06 253.57 340.71 253.13 341.17 252.85C341.63 252.57 342.51 252.03 342.79 251.58C343.07 251.14 343.02 250.27 343.12 249.76C343.21 249.25 343.35 248.45 343.44 248.01C343.53 247.58 343.67 247.18 343.77 246.74C343.86 246.29 344.00 245.36 344.09 244.89C344.18 244.42 344.32 243.89 344.42 243.46C344.51 243.02 344.64 242.29 344.74 241.84C344.84 241.40 345.02 240.81 345.13 240.33C345.24 239.85 345.41 238.95 345.52 238.51C345.63 238.07 345.80 237.69 345.91 237.23C346.02 236.77 346.19 235.75 346.30 235.30C346.41 234.85 346.56 234.49 346.69 234.05C346.82 233.62 347.06 232.75 347.21 232.24C347.36 231.73 347.58 231.06 347.73 230.49C347.88 229.92 348.10 228.80 348.25 228.26C348.40 227.72 348.62 227.18 348.77 226.71C348.91 226.23 349.07 224.98 349.29 224.96C349.50 224.94 349.98 226.01 350.26 226.57C350.54 227.12 350.91 228.35 351.23 228.86C351.56 229.36 352.16 229.74 352.53 230.11C352.90 230.48 353.52 231.47 353.83 231.45C354.14 231.44 354.45 230.50 354.70 230.01C354.94 229.52 355.32 228.57 355.56 228.03C355.81 227.50 356.12 226.67 356.43 226.26C356.74 225.85 357.36 225.50 357.73 225.13C358.10 224.76 358.75 224.07 359.03 223.66C359.30 223.25 359.49 222.75 359.68 222.24C359.86 221.74 360.14 220.54 360.32 220.11C360.51 219.67 360.79 219.60 360.97 219.18C361.16 218.76 361.47 217.65 361.62 217.17C361.77 216.68 361.90 216.28 362.01 215.79C362.12 215.30 362.29 214.17 362.40 213.73C362.51 213.30 362.68 213.17 362.79 212.76C362.90 212.35 363.07 211.33 363.18 210.85C363.29 210.37 363.40 209.87 363.57 209.38C363.75 208.89 364.17 207.90 364.40 207.41C364.64 206.93 364.99 206.38 365.24 205.98C365.48 205.58 365.86 205.09 366.11 204.59C366.36 204.10 366.74 203.08 366.99 202.52C367.24 201.97 367.36 201.13 367.87 200.72C368.37 200.31 369.97 199.49 370.49 199.67C371.02 199.85 371.25 201.39 371.55 201.99C371.85 202.59 372.37 203.42 372.60 203.88C372.82 204.33 372.97 204.68 373.12 205.16C373.27 205.64 373.50 206.81 373.65 207.25C373.80 207.69 374.02 207.83 374.17 208.25C374.32 208.67 374.47 209.71 374.70 210.19C374.93 210.66 375.45 211.10 375.75 211.55C376.05 212.00 376.20 213.08 376.80 213.34C377.40 213.60 379.24 213.50 379.96 213.34C380.67 213.17 381.27 212.49 381.80 212.19C382.32 211.89 383.00 211.15 383.64 211.24C384.28 211.33 385.74 212.47 386.27 212.81C386.79 213.16 387.02 213.29 387.32 213.65C387.62 214.01 388.07 214.94 388.37 215.34C388.67 215.75 389.12 216.66 389.42 216.49C389.72 216.33 390.17 214.76 390.47 214.16C390.77 213.56 391.27 212.83 391.52 212.29C391.78 211.75 392.03 210.85 392.23 210.38C392.43 209.90 392.73 209.43 392.93 208.95C393.13 208.47 393.44 207.52 393.63 207.03C393.82 206.54 394.08 205.88 394.26 205.50C394.44 205.12 394.71 204.80 394.89 204.40C395.07 204.00 395.34 203.13 395.52 202.71C395.70 202.29 395.97 201.87 396.15 201.44C396.33 201.01 396.52 200.07 396.78 199.67C397.05 199.27 397.66 198.92 398.01 198.67C398.36 198.42 398.89 198.21 399.24 197.90C399.59 197.59 399.91 196.56 400.46 196.52C401.01 196.47 402.59 197.17 403.09 197.57C403.59 197.96 403.72 198.90 403.97 199.27C404.22 199.63 404.59 199.75 404.84 200.11C405.09 200.46 405.50 201.28 405.72 201.77C405.94 202.26 406.19 203.11 406.38 203.55C406.57 203.98 406.85 204.35 407.03 204.80C407.22 205.25 407.50 206.25 407.69 206.72C407.88 207.18 408.17 207.63 408.35 208.08C408.53 208.54 408.80 209.39 408.98 209.91C409.16 210.43 409.43 211.29 409.61 211.71C409.79 212.12 410.06 212.40 410.24 212.83C410.42 213.26 410.69 214.19 410.87 214.71C411.05 215.23 411.32 215.97 411.50 216.49C411.68 217.02 411.95 217.83 412.13 218.37C412.31 218.90 412.59 219.74 412.77 220.22C412.95 220.70 413.22 221.34 413.40 221.72C413.58 222.10 413.85 222.40 414.03 222.86C414.21 223.31 414.48 224.36 414.66 224.91C414.84 225.45 415.11 226.24 415.29 226.67C415.47 227.11 415.74 227.48 415.92 227.95C416.10 228.43 416.37 229.43 416.55 229.99C416.73 230.55 417.00 231.40 417.18 231.88C417.36 232.35 417.56 232.86 417.81 233.32C418.06 233.78 418.60 234.51 418.92 235.11C419.23 235.71 419.63 237.25 420.02 237.52C420.41 237.80 421.15 237.06 421.66 237.04C422.17 237.02 423.04 237.36 423.59 237.38C424.14 237.40 424.96 237.23 425.51 237.18C426.06 237.13 426.86 236.98 427.44 237.04C428.03 237.09 428.99 237.36 429.61 237.56C430.23 237.77 431.30 238.22 431.78 238.48C432.25 238.75 432.60 239.07 432.93 239.39C433.26 239.72 433.76 240.35 434.09 240.75C434.42 241.16 434.92 241.88 435.25 242.22C435.58 242.57 436.07 242.88 436.40 243.17C436.73 243.47 437.23 243.99 437.56 244.27C437.89 244.54 438.39 244.84 438.72 245.11C439.05 245.39 439.54 245.87 439.87 246.20C440.20 246.53 440.70 247.00 441.03 247.42C441.36 247.84 441.86 248.76 442.19 249.13C442.52 249.51 442.97 249.82 443.34 250.05C443.71 250.28 444.37 250.48 444.79 250.76C445.20 251.04 445.82 251.71 446.23 252.02C446.65 252.33 447.32 252.62 447.68 252.94C448.04 253.25 448.45 253.78 448.76 254.22C449.07 254.65 449.54 255.56 449.85 255.98C450.16 256.40 450.62 256.79 450.93 257.18C451.24 257.57 451.76 258.30 452.02 258.72C452.27 259.14 452.53 259.60 452.74 260.12C452.94 260.65 453.25 261.87 453.46 262.39C453.67 262.92 453.98 263.35 454.18 263.81C454.39 264.27 454.70 265.11 454.91 265.62C455.11 266.13 455.42 266.94 455.63 267.40C455.84 267.86 456.16 268.35 456.35 268.84C456.54 269.33 456.79 270.43 456.97 270.85C457.15 271.27 457.41 271.35 457.59 271.75C457.77 272.16 458.03 273.18 458.21 273.67C458.39 274.16 458.65 274.68 458.83 275.17C459.01 275.66 459.27 276.55 459.45 277.10C459.63 277.66 459.89 278.58 460.07 279.05C460.25 279.52 460.51 279.94 460.69 280.40C460.87 280.87 461.13 281.88 461.31 282.30C461.48 282.71 461.75 282.93 461.93 283.34C462.10 283.74 462.37 284.54 462.55 285.11C462.72 285.67 462.99 286.74 463.17 287.27C463.34 287.79 463.61 288.38 463.79 288.81C463.96 289.23 464.23 289.78 464.41 290.23C464.58 290.68 464.83 291.49 465.02 291.97C465.22 292.44 465.54 293.12 465.75 293.54C465.95 293.95 466.26 294.38 466.47 294.87C466.68 295.37 466.99 296.52 467.19 297.01C467.40 297.51 467.81 298.14 467.92 298.33" fill="none" stroke="#7308f2" stroke-width="2.3" stroke-linejoin="round" stroke-linecap="round" clip-path="url(#cb0)"/>
<path d="M78.50 429.09C78.50 428.83 78.50 427.76 78.50 427.32C78.50 426.88 78.50 426.48 78.50 426.01C78.50 425.54 78.44 424.55 78.50 424.03C78.57 423.51 78.81 422.93 78.94 422.38C79.06 421.84 79.25 420.75 79.37 420.22C79.50 419.69 79.68 419.17 79.81 418.69C79.93 418.21 80.12 417.34 80.24 416.86C80.36 416.39 80.40 415.32 80.67 415.36C80.94 415.39 81.71 416.70 82.12 417.12C82.53 417.53 83.15 418.28 83.56 418.25C83.98 418.21 84.60 417.29 85.01 416.87C85.42 416.46 86.04 415.76 86.46 415.36C86.87 414.95 87.49 414.34 87.90 414.03C88.31 413.71 88.93 413.39 89.35 413.16C89.76 412.94 90.38 412.68 90.79 412.46C91.20 412.25 91.82 411.84 92.24 411.63C92.65 411.42 93.44 411.39 93.68 411.02C93.92 410.65 93.85 409.61 93.92 409.07C93.99 408.52 94.10 407.77 94.16 407.23C94.23 406.68 94.14 405.59 94.41 405.24C94.67 404.89 95.57 404.91 96.03 404.79C96.50 404.67 97.19 404.54 97.66 404.40C98.12 404.25 98.82 403.84 99.28 403.76C99.75 403.67 100.42 403.75 100.91 403.79C101.40 403.83 102.20 404.00 102.72 404.04C103.23 404.07 104.01 404.03 104.52 404.02C105.04 404.01 105.81 403.88 106.33 403.95C106.85 404.02 107.62 404.49 108.14 404.51C108.65 404.54 109.43 404.17 109.94 404.12C110.46 404.07 111.24 404.33 111.75 404.18C112.27 404.03 113.04 403.23 113.56 403.07C114.07 402.91 114.85 403.06 115.37 403.07C115.88 403.08 116.66 403.02 117.17 403.15C117.69 403.27 118.46 403.81 118.98 403.93C119.50 404.05 120.27 403.89 120.79 403.97C121.30 404.05 122.08 404.39 122.59 404.51C123.11 404.64 123.88 404.72 124.40 404.88C124.92 405.03 125.69 405.44 126.21 405.60C126.72 405.75 127.50 405.80 128.01 405.95C128.53 406.11 129.30 406.54 129.82 406.68C130.34 406.82 131.11 406.86 131.63 406.92C132.14 406.97 132.92 406.97 133.43 407.07C133.95 407.16 134.72 407.54 135.24 407.59C135.76 407.64 136.53 407.45 137.05 407.41C137.56 407.36 138.34 407.47 138.85 407.26C139.37 407.05 140.15 406.15 140.66 405.95C141.18 405.74 141.95 405.93 142.47 405.83C142.98 405.73 143.76 405.34 144.28 405.24C144.79 405.13 145.57 405.15 146.08 405.09C146.60 405.03 147.37 404.92 147.89 404.81C148.41 404.71 149.18 404.52 149.70 404.37C150.21 404.23 150.99 403.86 151.50 403.79C152.02 403.72 152.79 403.88 153.31 403.90C153.83 403.91 154.60 403.93 155.12 403.90C155.63 403.87 156.41 403.70 156.92 403.68C157.44 403.67 158.21 403.83 158.73 403.79C159.25 403.76 160.02 403.45 160.54 403.44C161.05 403.42 161.83 403.65 162.34 403.67C162.86 403.68 163.63 403.63 164.15 403.55C164.67 403.46 165.41 402.96 165.96 403.07C166.50 403.18 167.40 404.07 167.98 404.33C168.56 404.58 169.35 404.62 170.00 404.88C170.65 405.14 171.97 405.75 172.50 406.13C173.04 406.51 173.40 407.17 173.76 407.53C174.11 407.89 174.74 408.72 175.01 408.64C175.28 408.55 175.45 407.33 175.63 406.92C175.81 406.50 176.08 406.12 176.26 405.72C176.44 405.32 176.71 404.61 176.89 404.13C177.06 403.66 177.30 402.87 177.51 402.38C177.72 401.89 178.11 401.18 178.35 400.72C178.58 400.25 178.94 399.62 179.18 399.15C179.42 398.67 179.78 397.40 180.02 397.37C180.25 397.34 180.61 398.44 180.85 398.92C181.09 399.40 181.45 400.25 181.68 400.75C181.92 401.24 182.13 401.79 182.52 402.38C182.91 402.97 184.08 404.78 184.40 404.88C184.72 404.98 184.67 403.60 184.77 403.05C184.88 402.50 185.04 401.53 185.15 401.02C185.26 400.52 185.42 399.96 185.52 399.49C185.63 399.02 185.79 398.21 185.90 397.73C186.01 397.25 186.13 396.54 186.28 396.12C186.42 395.70 186.72 395.28 186.90 394.79C187.08 394.29 187.35 393.22 187.53 392.66C187.71 392.10 187.97 391.34 188.15 390.85C188.33 390.36 188.56 389.27 188.78 389.23C189.00 389.20 189.45 390.14 189.72 390.59C189.99 391.04 190.46 391.92 190.66 392.36C190.86 392.81 190.99 393.28 191.13 393.71C191.26 394.14 191.46 394.93 191.60 395.37C191.73 395.81 191.93 396.30 192.07 396.76C192.20 397.23 192.33 398.14 192.54 398.62C192.74 399.10 193.21 399.57 193.47 400.11C193.74 400.64 194.21 402.23 194.41 402.38C194.61 402.52 194.75 401.56 194.88 401.11C195.02 400.66 195.22 399.71 195.35 399.21C195.49 398.71 195.69 398.08 195.82 397.64C195.96 397.20 196.13 396.58 196.29 396.12C196.45 395.66 196.74 394.94 196.92 394.42C197.10 393.90 197.36 393.00 197.54 392.45C197.72 391.91 197.99 391.12 198.17 390.59C198.35 390.07 198.62 389.22 198.79 388.76C198.97 388.30 199.18 387.79 199.42 387.35C199.66 386.92 200.17 386.17 200.46 385.73C200.76 385.30 201.21 384.67 201.51 384.28C201.81 383.88 202.27 382.82 202.55 382.97C202.83 383.12 203.22 384.72 203.49 385.34C203.76 385.97 204.27 386.82 204.43 387.35C204.59 387.89 204.55 388.56 204.60 389.10C204.65 389.64 204.72 390.65 204.77 391.12C204.82 391.58 204.89 391.86 204.94 392.35C204.99 392.83 205.06 394.00 205.11 394.52C205.16 395.04 205.23 395.56 205.28 395.96C205.33 396.35 205.40 396.82 205.45 397.26C205.50 397.70 205.58 398.50 205.62 399.05C205.67 399.59 205.75 400.50 205.79 401.08C205.84 401.66 205.92 402.65 205.97 403.11C206.01 403.57 206.09 403.88 206.14 404.31C206.18 404.74 206.24 406.10 206.31 406.13C206.37 406.17 206.50 405.08 206.58 404.56C206.65 404.04 206.77 403.00 206.84 402.50C206.92 402.00 207.03 401.61 207.11 401.06C207.19 400.51 207.30 399.19 207.38 398.63C207.46 398.08 207.57 397.59 207.65 397.18C207.72 396.76 207.84 396.23 207.92 395.72C207.99 395.21 208.11 394.20 208.18 393.61C208.26 393.03 208.38 392.18 208.45 391.65C208.53 391.11 208.64 390.38 208.72 389.84C208.80 389.30 208.91 388.39 208.99 387.87C209.07 387.34 209.18 386.67 209.26 386.19C209.33 385.71 209.45 384.93 209.53 384.49C209.60 384.04 209.72 383.53 209.79 383.05C209.87 382.56 209.89 381.72 210.06 381.09C210.24 380.47 210.73 379.30 211.00 378.68C211.27 378.05 211.67 376.69 211.94 376.71C212.21 376.73 212.61 378.20 212.88 378.82C213.15 379.45 213.51 380.54 213.82 381.09C214.13 381.65 214.71 382.20 215.07 382.73C215.43 383.27 215.96 384.71 216.32 384.85C216.68 384.99 217.22 384.04 217.57 383.68C217.93 383.32 218.58 382.27 218.83 382.35C219.07 382.42 219.16 383.74 219.30 384.20C219.43 384.67 219.63 385.22 219.77 385.59C219.90 385.97 220.10 386.37 220.23 386.80C220.37 387.23 220.59 388.09 220.70 388.61C220.82 389.12 220.96 389.89 221.06 390.40C221.16 390.92 221.32 391.75 221.42 392.20C221.52 392.64 221.68 393.16 221.78 393.52C221.88 393.87 222.03 394.22 222.14 394.71C222.24 395.19 222.39 396.35 222.49 396.90C222.59 397.45 222.75 398.14 222.85 398.56C222.95 398.99 223.12 399.95 223.21 399.87C223.29 399.80 223.38 398.56 223.44 398.02C223.51 397.49 223.61 396.65 223.68 396.14C223.74 395.63 223.85 394.91 223.91 394.46C223.98 394.01 224.08 393.43 224.15 393.02C224.21 392.60 224.31 392.05 224.38 391.57C224.45 391.09 224.55 390.14 224.62 389.66C224.68 389.17 224.78 388.67 224.85 388.16C224.92 387.65 225.02 386.67 225.09 386.10C225.15 385.53 225.25 384.67 225.31 384.16C225.38 383.66 225.48 382.98 225.54 382.55C225.61 382.12 225.70 381.63 225.77 381.18C225.83 380.73 225.93 379.92 226.00 379.39C226.06 378.86 226.16 377.97 226.22 377.49C226.29 377.01 226.39 376.50 226.45 376.00C226.52 375.51 226.61 374.58 226.68 374.02C226.74 373.46 226.84 372.57 226.91 372.09C226.97 371.61 227.07 371.16 227.13 370.67C227.20 370.18 227.30 369.14 227.36 368.67C227.43 368.19 227.20 367.69 227.59 367.32C227.98 366.95 229.56 365.97 230.09 366.07C230.63 366.17 230.99 367.51 231.35 368.05C231.70 368.59 232.33 369.37 232.60 369.83C232.87 370.28 233.04 370.81 233.22 371.26C233.40 371.71 233.67 372.47 233.85 372.95C234.03 373.43 234.30 374.15 234.48 374.60C234.65 375.05 234.98 375.66 235.10 376.09C235.22 376.51 235.25 377.09 235.31 377.56C235.37 378.03 235.46 378.95 235.52 379.40C235.58 379.84 235.67 380.18 235.73 380.70C235.79 381.23 235.88 382.56 235.94 383.10C236.00 383.64 236.09 384.06 236.15 384.48C236.20 384.91 236.31 385.58 236.35 386.10C236.40 386.63 236.43 387.73 236.46 388.16C236.49 388.59 236.53 388.65 236.56 389.09C236.59 389.52 236.64 390.65 236.67 391.20C236.70 391.75 236.74 392.51 236.77 392.96C236.80 393.40 236.85 393.86 236.88 394.31C236.91 394.76 236.95 396.14 236.98 396.12C237.01 396.09 237.05 394.64 237.08 394.12C237.11 393.61 237.16 392.98 237.19 392.50C237.22 392.03 237.26 391.23 237.29 390.82C237.32 390.42 237.37 390.14 237.40 389.65C237.43 389.17 237.47 387.95 237.50 387.44C237.53 386.94 237.55 386.51 237.61 386.10C237.66 385.69 237.80 385.08 237.87 384.56C237.95 384.04 238.07 383.01 238.14 382.46C238.22 381.92 238.33 381.26 238.41 380.77C238.49 380.28 238.60 379.53 238.68 379.02C238.76 378.51 238.87 377.71 238.95 377.20C239.02 376.70 239.14 376.01 239.22 375.50C239.29 374.98 239.27 374.02 239.48 373.58C239.70 373.14 240.38 372.77 240.74 372.41C241.09 372.05 241.67 371.02 241.99 371.08C242.30 371.14 242.66 372.28 242.93 372.82C243.19 373.36 243.64 374.25 243.87 374.83C244.09 375.42 244.31 376.37 244.49 376.90C244.67 377.44 244.94 378.62 245.12 378.59C245.30 378.56 245.56 377.18 245.74 376.73C245.92 376.27 246.19 375.87 246.37 375.42C246.55 374.97 246.88 374.05 247.00 373.58C247.11 373.11 247.14 372.57 247.20 372.12C247.26 371.68 247.35 370.99 247.41 370.46C247.47 369.94 247.56 368.90 247.62 368.42C247.68 367.94 247.77 367.52 247.83 367.12C247.89 366.72 247.98 366.13 248.04 365.62C248.10 365.10 248.19 364.09 248.25 363.53C248.31 362.97 248.40 362.19 248.46 361.72C248.52 361.25 248.60 360.70 248.66 360.25C248.72 359.80 248.77 358.80 248.87 358.56C248.98 358.32 249.22 358.78 249.38 358.57C249.54 358.35 249.83 357.62 250.01 357.04C250.19 356.46 250.46 355.16 250.63 354.51C250.81 353.87 251.08 353.03 251.26 352.54C251.44 352.04 251.57 351.18 251.89 351.05C252.20 350.93 253.01 351.48 253.45 351.66C253.90 351.84 254.67 351.96 255.02 352.30C255.36 352.65 255.61 353.59 255.85 354.10C256.09 354.61 256.45 355.40 256.69 355.86C256.93 356.32 257.13 357.29 257.52 357.31C257.91 357.34 259.06 356.48 259.40 356.06C259.74 355.64 259.74 354.78 259.87 354.39C260.00 353.99 260.21 353.79 260.34 353.32C260.47 352.86 260.67 351.65 260.81 351.15C260.94 350.65 261.03 350.23 261.28 349.80C261.52 349.37 262.17 348.66 262.53 348.13C262.89 347.59 263.38 346.30 263.78 346.04C264.19 345.79 264.90 346.16 265.35 346.34C265.80 346.52 266.51 346.95 266.91 347.30C267.32 347.65 267.81 348.26 268.17 348.80C268.52 349.33 269.20 351.02 269.42 351.05C269.63 351.08 269.60 349.56 269.67 349.01C269.74 348.46 269.85 347.65 269.92 347.19C269.99 346.74 270.10 346.24 270.17 345.79C270.24 345.35 270.35 344.59 270.42 344.08C270.49 343.58 270.57 342.88 270.67 342.29C270.77 341.70 270.97 340.49 271.09 339.95C271.21 339.40 271.39 339.02 271.50 338.47C271.62 337.91 271.74 336.63 271.92 336.03C272.10 335.42 272.52 334.77 272.76 334.25C273.00 333.73 273.35 332.87 273.59 332.41C273.83 331.94 274.24 331.48 274.43 331.02C274.61 330.56 274.76 329.61 274.90 329.19C275.03 328.77 275.23 328.44 275.37 328.08C275.50 327.72 275.70 327.13 275.84 326.66C275.97 326.18 275.97 325.39 276.30 324.76C276.64 324.13 277.83 322.41 278.18 322.25C278.54 322.09 278.63 323.23 278.81 323.65C278.99 324.07 279.26 324.70 279.44 325.21C279.61 325.73 279.91 326.64 280.06 327.26C280.21 327.88 280.36 329.00 280.48 329.57C280.60 330.14 280.78 330.66 280.90 331.23C281.02 331.79 281.21 332.87 281.31 333.52C281.42 334.17 281.54 335.25 281.63 335.79C281.72 336.32 281.85 336.78 281.94 337.28C282.03 337.77 282.16 338.73 282.25 339.27C282.34 339.80 282.46 340.56 282.57 341.04C282.67 341.51 282.86 342.07 282.98 342.58C283.10 343.09 283.28 344.12 283.40 344.61C283.52 345.11 283.58 345.48 283.82 346.04C284.06 346.61 284.80 347.96 285.07 348.55C285.34 349.14 285.52 349.73 285.70 350.19C285.88 350.64 286.14 351.26 286.32 351.75C286.50 352.23 286.80 353.52 286.95 353.56C287.10 353.59 287.25 352.58 287.37 352.00C287.49 351.42 287.66 350.07 287.78 349.49C287.90 348.90 287.87 347.88 288.20 347.92C288.53 347.97 289.45 349.35 290.08 349.80C290.70 350.25 291.87 350.78 292.58 351.05C293.30 351.32 294.46 351.23 295.09 351.68C295.71 352.13 296.43 354.09 296.97 354.18C297.50 354.27 298.53 352.31 298.84 352.30C299.16 352.30 299.07 353.73 299.16 354.16C299.25 354.59 299.38 354.83 299.47 355.30C299.56 355.76 299.69 356.91 299.78 357.43C299.87 357.95 300.01 358.40 300.10 358.90C300.19 359.41 300.32 360.46 300.41 360.94C300.50 361.43 300.64 361.93 300.72 362.32C300.80 362.72 300.90 363.22 300.97 363.72C301.04 364.23 301.15 365.34 301.22 365.88C301.29 366.42 301.40 366.97 301.47 367.51C301.55 368.05 301.65 369.16 301.72 369.67C301.80 370.18 301.91 370.60 301.97 371.09C302.04 371.58 302.12 372.62 302.18 373.11C302.24 373.60 302.33 374.13 302.39 374.53C302.45 374.92 302.54 375.44 302.60 375.88C302.66 376.31 302.75 377.09 302.81 377.57C302.87 378.05 302.96 378.74 303.02 379.25C303.08 379.75 303.02 380.48 303.23 381.11C303.44 381.73 304.03 382.89 304.48 383.61C304.93 384.33 305.91 385.58 306.36 386.11C306.80 386.64 307.25 386.96 307.61 387.31C307.97 387.67 308.50 388.28 308.86 388.62C309.22 388.95 309.76 389.30 310.11 389.66C310.47 390.01 310.93 390.86 311.37 391.12C311.80 391.39 312.66 391.33 313.18 391.51C313.70 391.69 314.48 392.35 315.00 392.37C315.52 392.40 316.30 391.93 316.82 391.70C317.34 391.46 318.13 391.00 318.65 390.72C319.17 390.44 319.94 389.79 320.47 389.72C321.01 389.65 321.85 389.98 322.40 390.23C322.95 390.48 323.78 391.25 324.33 391.47C324.88 391.68 325.71 391.70 326.26 391.74C326.81 391.79 327.63 391.72 328.18 391.81C328.73 391.90 329.56 392.26 330.11 392.38C330.66 392.49 331.50 392.62 332.04 392.61C332.57 392.61 333.33 392.30 333.85 392.34C334.36 392.38 335.14 392.82 335.65 392.90C336.17 392.98 336.94 392.95 337.46 392.91C337.98 392.87 338.76 392.65 339.27 392.61C339.77 392.57 340.73 392.90 341.00 392.61C341.27 392.33 341.10 391.11 341.14 390.62C341.19 390.13 341.25 389.65 341.29 389.20C341.33 388.75 341.39 387.99 341.43 387.45C341.48 386.90 341.49 385.94 341.58 385.38C341.67 384.83 341.93 384.05 342.07 383.56C342.22 383.07 342.43 382.39 342.57 381.95C342.71 381.50 342.92 380.82 343.07 380.42C343.21 380.01 343.42 379.60 343.56 379.09C343.70 378.58 343.91 377.35 344.06 376.85C344.20 376.36 344.41 376.05 344.55 375.62C344.69 375.19 344.82 374.27 345.05 373.82C345.27 373.37 345.82 372.87 346.13 372.45C346.44 372.03 346.91 371.31 347.22 370.89C347.53 370.48 347.99 369.95 348.30 369.55C348.61 369.14 349.02 368.32 349.38 368.04C349.75 367.76 350.42 367.83 350.83 367.57C351.24 367.32 351.86 366.53 352.28 366.26C352.69 366.00 353.20 365.70 353.72 365.73C354.24 365.75 355.27 366.34 355.89 366.47C356.51 366.59 357.54 366.49 358.06 366.59C358.57 366.70 359.09 366.97 359.50 367.20C359.92 367.44 360.54 368.00 360.95 368.26C361.36 368.53 361.98 368.88 362.39 369.05C362.81 369.23 363.43 369.32 363.84 369.48C364.25 369.64 364.87 369.86 365.28 370.17C365.70 370.48 366.32 371.29 366.73 371.65C367.14 372.02 367.76 372.47 368.18 372.70C368.59 372.93 369.21 373.06 369.62 373.24C370.03 373.42 370.65 373.75 371.07 373.95C371.48 374.14 372.10 374.37 372.51 374.60C372.93 374.82 373.54 375.23 373.96 375.53C374.37 375.84 374.99 376.33 375.40 376.71C375.82 377.09 376.44 377.92 376.85 378.17C377.26 378.43 377.88 378.18 378.29 378.49C378.71 378.79 379.33 379.93 379.74 380.29C380.15 380.66 380.81 380.81 381.19 381.05C381.56 381.28 382.01 381.57 382.34 381.92C382.67 382.28 383.17 383.23 383.50 383.55C383.83 383.87 384.32 383.93 384.65 384.19C384.98 384.46 385.48 385.03 385.81 385.41C386.14 385.78 386.64 386.44 386.97 386.83C387.30 387.22 387.79 387.85 388.12 388.13C388.45 388.42 388.95 388.52 389.28 388.81C389.61 389.11 390.11 389.75 390.44 390.17C390.77 390.60 391.26 391.44 391.59 391.79C391.92 392.14 392.26 392.20 392.75 392.61C393.24 393.02 394.43 394.19 395.00 394.66C395.57 395.12 396.23 395.57 396.72 395.87C397.22 396.16 397.96 396.41 398.45 396.73C398.94 397.04 399.68 397.77 400.17 398.07C400.67 398.36 401.41 398.54 401.90 398.80C402.39 399.05 403.13 399.67 403.62 399.87C404.12 400.07 404.85 400.24 405.35 400.18C405.84 400.12 406.58 399.56 407.07 399.46C407.57 399.36 408.30 399.56 408.80 399.49C409.29 399.41 410.03 399.03 410.52 398.93C411.01 398.83 411.75 398.83 412.25 398.80C412.74 398.76 413.48 398.78 413.97 398.69C414.46 398.59 415.20 398.27 415.70 398.11C416.19 397.95 416.93 397.77 417.42 397.57C417.91 397.37 418.65 397.00 419.14 396.73C419.64 396.46 420.38 395.86 420.87 395.67C421.36 395.47 422.10 395.25 422.59 395.35C423.09 395.45 423.83 396.09 424.32 396.39C424.81 396.68 425.55 397.20 426.04 397.42C426.54 397.63 427.27 397.70 427.77 397.89C428.26 398.09 429.00 398.58 429.49 398.80C429.99 399.02 430.72 399.23 431.22 399.43C431.71 399.63 432.45 400.02 432.94 400.18C433.43 400.34 434.17 400.35 434.67 400.55C435.16 400.75 435.90 401.42 436.39 401.56C436.88 401.69 437.62 401.42 438.12 401.52C438.61 401.62 439.35 402.04 439.84 402.25C440.33 402.46 441.07 402.89 441.56 402.98C442.06 403.08 442.80 403.06 443.29 402.94C443.78 402.81 444.52 402.30 445.01 402.10C445.51 401.90 446.25 401.69 446.74 401.56C447.23 401.42 447.97 401.37 448.46 401.17C448.96 400.97 449.78 400.16 450.19 400.18C450.60 400.19 451.01 400.86 451.34 401.25C451.67 401.65 452.16 402.49 452.49 402.93C452.82 403.36 453.23 403.96 453.64 404.32C454.05 404.67 454.87 405.01 455.36 405.40C455.85 405.80 456.59 406.80 457.09 407.08C457.58 407.35 458.32 407.26 458.81 407.36C459.30 407.46 460.04 407.60 460.54 407.76C461.03 407.93 461.77 408.25 462.26 408.54C462.75 408.84 463.49 409.78 463.98 409.83C464.48 409.89 465.22 409.24 465.71 408.95C466.20 408.65 466.94 408.12 467.43 407.76C467.93 407.41 468.67 406.74 469.16 406.45C469.65 406.15 470.39 405.63 470.88 405.70C471.38 405.76 472.11 406.63 472.61 406.92C473.10 407.22 473.84 407.59 474.33 407.76C474.82 407.93 475.56 408.01 476.06 408.11C476.55 408.21 477.29 408.55 477.78 408.45C478.27 408.36 479.01 407.65 479.51 407.45C480.00 407.26 480.74 407.15 481.23 407.08C481.72 407.00 482.46 406.96 482.96 406.96C483.45 406.96 484.19 407.11 484.68 407.08C485.17 407.04 485.91 406.83 486.40 406.73C486.90 406.63 487.64 406.44 488.13 406.39C488.62 406.33 489.36 406.47 489.85 406.38C490.35 406.28 490.94 405.99 491.58 405.70C492.22 405.40 493.70 404.63 494.34 404.32C494.98 404.00 495.57 403.70 496.06 403.51C496.56 403.31 497.54 403.02 497.79 402.94" fill="none" stroke="#7308f2" stroke-width="2.3" stroke-linejoin="round" stroke-linecap="round" clip-path="url(#cb1)"/>
<path d="M79.88 561.47C79.90 561.20 79.98 560.01 80.02 559.60C80.05 559.18 80.11 558.99 80.15 558.56C80.19 558.12 80.18 557.11 80.28 556.54C80.38 555.97 80.36 554.99 80.87 554.57C81.38 554.15 83.19 553.54 83.83 553.58C84.46 553.63 84.88 554.59 85.31 554.87C85.73 555.16 86.36 555.64 86.78 555.55C87.21 555.47 87.84 554.68 88.26 554.26C88.68 553.84 89.25 553.12 89.74 552.60C90.23 552.08 91.38 551.17 91.71 550.63C92.04 550.08 91.95 549.31 92.04 548.80C92.13 548.30 92.28 547.55 92.37 547.08C92.46 546.61 92.60 545.99 92.70 545.51C92.79 545.03 92.93 544.20 93.03 543.71C93.12 543.22 93.26 542.47 93.35 542.05C93.45 541.63 93.35 541.01 93.68 540.77C94.01 540.53 95.09 540.44 95.65 540.38C96.22 540.31 97.06 540.32 97.63 540.28C98.19 540.25 99.03 540.13 99.60 540.10C100.16 540.08 101.01 540.14 101.57 540.13C102.13 540.11 102.98 540.00 103.54 539.98C104.10 539.96 104.95 540.00 105.51 539.97C106.07 539.94 106.92 539.72 107.48 539.79C108.05 539.85 108.89 540.34 109.45 540.43C110.02 540.51 110.91 540.33 111.42 540.38C111.94 540.42 112.60 540.66 113.07 540.73C113.54 540.80 114.24 540.82 114.71 540.87C115.18 540.92 115.88 541.02 116.35 541.10C116.82 541.19 117.53 541.33 118.00 541.45C118.46 541.56 119.17 541.87 119.64 541.91C120.11 541.96 120.76 541.70 121.28 541.76C121.80 541.81 122.69 542.21 123.25 542.30C123.81 542.40 124.66 542.41 125.22 542.42C125.79 542.44 126.63 542.37 127.19 542.41C127.76 542.46 128.60 542.68 129.17 542.74C129.73 542.80 130.57 542.78 131.14 542.84C131.70 542.90 132.54 543.02 133.11 543.17C133.67 543.31 134.52 543.78 135.08 543.86C135.64 543.94 136.53 543.79 137.05 543.73C137.57 543.66 138.22 543.49 138.69 543.41C139.16 543.33 139.87 543.24 140.34 543.17C140.80 543.11 141.51 543.06 141.98 542.96C142.45 542.87 143.15 542.52 143.62 542.52C144.09 542.52 144.79 543.00 145.26 542.98C145.73 542.95 146.44 542.54 146.91 542.35C147.38 542.15 148.08 541.70 148.55 541.62C149.02 541.54 149.72 541.76 150.19 541.78C150.66 541.79 151.37 541.84 151.83 541.70C152.30 541.57 153.01 540.97 153.48 540.84C153.95 540.71 154.65 540.86 155.12 540.79C155.59 540.73 156.29 540.42 156.76 540.38C157.23 540.33 157.94 540.47 158.41 540.51C158.87 540.54 159.58 540.58 160.05 540.63C160.52 540.67 161.22 540.77 161.69 540.82C162.16 540.88 162.86 540.85 163.33 540.99C163.80 541.13 164.51 541.69 164.98 541.80C165.45 541.91 166.15 541.66 166.62 541.76C167.09 541.85 167.79 542.29 168.26 542.48C168.73 542.66 169.43 543.01 169.90 543.07C170.37 543.12 171.08 542.76 171.55 542.87C172.02 542.99 172.72 543.71 173.19 543.88C173.66 544.05 174.36 543.96 174.83 544.08C175.30 544.20 176.01 544.55 176.47 544.71C176.94 544.88 177.65 545.11 178.12 545.22C178.59 545.34 179.29 545.46 179.76 545.54C180.23 545.61 180.93 545.59 181.40 545.75C181.87 545.91 182.58 546.59 183.05 546.67C183.51 546.74 184.22 546.23 184.69 546.28C185.16 546.34 185.81 546.95 186.33 547.08C186.85 547.21 187.74 547.16 188.30 547.18C188.87 547.19 189.71 547.22 190.27 547.16C190.84 547.11 191.68 546.86 192.24 546.79C192.81 546.72 193.82 546.44 194.22 546.68C194.61 546.93 194.71 547.97 195.00 548.52C195.29 549.06 195.90 549.93 196.25 550.47C196.61 551.01 197.21 552.20 197.51 552.28C197.81 552.35 198.10 551.51 198.34 551.00C198.58 550.49 198.94 549.25 199.18 548.72C199.42 548.19 199.67 547.68 200.01 547.26C200.36 546.84 201.13 546.25 201.58 545.80C202.03 545.35 202.57 544.10 203.15 544.13C203.73 544.16 205.23 545.44 205.65 546.01C206.08 546.57 205.99 547.56 206.12 548.08C206.26 548.61 206.46 549.14 206.59 549.67C206.73 550.21 206.93 551.27 207.06 551.82C207.20 552.37 207.40 553.52 207.53 553.53C207.67 553.54 207.87 552.32 208.00 551.88C208.14 551.43 208.34 550.84 208.47 550.42C208.61 549.99 208.81 549.37 208.94 548.92C209.08 548.47 209.28 547.75 209.41 547.26C209.55 546.78 209.75 546.08 209.88 545.52C210.02 544.97 210.22 543.90 210.35 543.36C210.49 542.82 210.69 542.24 210.82 541.72C210.96 541.21 211.09 540.24 211.29 539.74C211.50 539.24 211.97 538.66 212.23 538.21C212.50 537.76 212.86 536.69 213.17 536.61C213.49 536.53 214.07 537.28 214.43 537.64C214.79 538.00 215.32 539.11 215.68 539.11C216.04 539.11 216.58 538.09 216.94 537.64C217.29 537.19 217.65 536.31 218.19 535.98C218.73 535.65 220.27 535.22 220.70 535.35C221.12 535.48 221.03 536.35 221.17 536.89C221.30 537.43 221.50 538.61 221.64 539.13C221.77 539.64 221.97 540.06 222.11 540.50C222.24 540.95 222.47 541.72 222.58 542.25C222.68 542.77 222.75 543.68 222.83 544.18C222.90 544.68 223.01 545.30 223.08 545.78C223.15 546.25 223.26 547.03 223.33 547.49C223.40 547.96 223.51 548.54 223.58 549.04C223.65 549.55 223.77 551.01 223.83 551.02C223.89 551.03 223.96 549.54 224.01 549.12C224.06 548.71 224.14 548.56 224.19 548.14C224.24 547.72 224.32 546.72 224.37 546.21C224.42 545.70 224.49 545.06 224.55 544.60C224.60 544.13 224.67 543.41 224.72 542.99C224.78 542.56 224.85 542.07 224.90 541.60C224.95 541.14 225.02 540.29 225.08 539.74C225.15 539.19 225.27 538.29 225.35 537.74C225.43 537.19 225.54 536.34 225.62 535.90C225.70 535.45 225.81 535.11 225.89 534.63C225.97 534.15 226.08 533.08 226.16 532.55C226.23 532.01 226.35 531.37 226.43 530.90C226.50 530.43 226.62 529.79 226.69 529.26C226.77 528.73 226.88 527.69 226.96 527.21C227.05 526.72 227.19 526.29 227.28 525.85C227.37 525.42 227.50 524.73 227.59 524.16C227.68 523.58 227.81 522.36 227.90 521.83C227.99 521.29 228.13 520.81 228.22 520.43C228.31 520.04 228.44 519.58 228.53 519.12C228.62 518.65 228.62 517.69 228.84 517.18C229.07 516.67 229.74 516.09 230.10 515.55C230.45 515.02 231.04 513.50 231.35 513.42C231.66 513.34 232.02 514.46 232.29 515.00C232.56 515.53 233.06 516.65 233.23 517.18C233.40 517.71 233.42 518.21 233.50 518.69C233.58 519.18 233.69 520.06 233.77 520.56C233.84 521.07 233.96 521.71 234.04 522.23C234.11 522.76 234.23 523.64 234.30 524.23C234.38 524.82 234.50 525.84 234.57 526.38C234.65 526.91 234.76 527.46 234.84 527.94C234.92 528.42 235.04 529.23 235.11 529.71C235.18 530.19 235.29 530.89 235.36 531.31C235.43 531.72 235.54 532.18 235.61 532.64C235.68 533.10 235.79 533.95 235.86 534.52C235.93 535.09 236.04 536.13 236.11 536.63C236.18 537.13 236.29 537.61 236.36 538.02C236.44 538.42 236.54 539.01 236.61 539.45C236.69 539.89 236.79 540.60 236.87 541.10C236.94 541.61 237.04 542.49 237.12 542.99C237.19 543.49 237.29 544.15 237.37 544.59C237.44 545.02 237.54 546.10 237.62 546.01C237.69 545.92 237.81 544.43 237.89 543.94C237.96 543.45 238.08 543.06 238.15 542.57C238.23 542.08 238.35 541.06 238.42 540.53C238.50 540.00 238.61 539.39 238.69 538.86C238.77 538.34 238.88 537.37 238.96 536.85C239.04 536.32 239.15 535.64 239.23 535.16C239.31 534.68 239.42 533.99 239.50 533.47C239.57 532.96 239.69 532.08 239.77 531.56C239.84 531.03 239.96 530.35 240.03 529.80C240.11 529.25 240.23 528.25 240.30 527.72C240.38 527.18 240.50 526.52 240.57 526.07C240.65 525.62 240.76 525.11 240.84 524.58C240.92 524.05 241.03 522.90 241.11 522.38C241.19 521.86 241.20 521.45 241.38 520.94C241.55 520.43 242.05 519.34 242.32 518.80C242.59 518.26 242.77 517.41 243.26 517.18C243.75 516.95 245.32 517.39 245.76 517.18C246.21 516.97 246.21 516.19 246.39 515.68C246.57 515.18 246.84 514.16 247.02 513.66C247.20 513.15 247.50 512.64 247.64 512.17C247.79 511.69 247.94 510.86 248.06 510.35C248.18 509.85 248.36 509.04 248.48 508.62C248.60 508.20 248.78 507.91 248.90 507.42C249.02 506.92 249.20 505.65 249.32 505.15C249.44 504.65 249.61 504.35 249.73 503.92C249.85 503.49 250.00 502.62 250.15 502.14C250.30 501.66 250.60 501.12 250.78 500.54C250.96 499.97 251.23 498.73 251.41 498.14C251.58 497.55 251.85 496.94 252.03 496.44C252.21 495.93 252.42 495.02 252.66 494.62C252.90 494.21 253.40 493.94 253.70 493.60C254.00 493.25 254.45 492.60 254.75 492.20C255.05 491.81 255.46 490.88 255.79 490.86C256.12 490.83 256.69 491.65 257.05 492.01C257.40 492.37 257.85 492.81 258.30 493.36C258.75 493.92 259.86 495.82 260.18 495.87C260.50 495.93 260.45 494.26 260.56 493.75C260.66 493.24 260.82 492.78 260.93 492.32C261.04 491.85 261.20 490.97 261.31 490.50C261.41 490.03 261.58 489.51 261.68 489.02C261.79 488.54 261.96 487.63 262.06 487.10C262.16 486.56 262.28 485.75 262.37 485.26C262.46 484.77 262.60 484.12 262.69 483.68C262.78 483.24 262.91 482.63 263.00 482.20C263.09 481.77 263.22 481.17 263.31 480.66C263.40 480.15 263.54 479.14 263.63 478.62C263.72 478.11 263.54 477.56 263.94 477.07C264.34 476.58 265.73 475.37 266.45 475.19C267.16 475.01 268.46 475.52 268.95 475.82C269.45 476.12 269.62 476.84 269.89 477.29C270.16 477.74 270.65 478.95 270.83 478.95C271.02 478.95 271.09 477.75 271.19 477.31C271.29 476.87 271.45 476.42 271.55 475.89C271.65 475.36 271.81 474.08 271.91 473.60C272.01 473.12 272.16 472.95 272.27 472.52C272.37 472.10 272.52 471.17 272.62 470.61C272.73 470.06 272.88 469.15 272.98 468.64C273.08 468.13 273.23 467.49 273.34 467.04C273.45 466.59 273.64 466.00 273.76 465.50C273.88 465.01 274.06 464.11 274.18 463.56C274.30 463.02 274.47 462.11 274.59 461.68C274.71 461.26 274.89 461.00 275.01 460.56C275.13 460.12 275.31 459.10 275.43 458.59C275.55 458.08 275.61 457.50 275.85 457.01C276.09 456.52 276.74 455.69 277.10 455.15C277.46 454.62 278.03 453.35 278.35 453.25C278.68 453.16 279.17 454.06 279.38 454.50C279.60 454.95 279.72 455.80 279.85 456.38C279.99 456.96 280.19 458.02 280.32 458.58C280.46 459.15 280.66 459.85 280.79 460.34C280.93 460.84 281.16 461.58 281.26 462.02C281.37 462.46 281.45 462.91 281.53 463.43C281.61 463.95 281.72 465.11 281.80 465.67C281.87 466.23 281.99 466.86 282.07 467.35C282.14 467.85 282.26 468.59 282.33 469.14C282.41 469.70 282.53 470.73 282.60 471.23C282.68 471.74 282.79 472.21 282.87 472.68C282.95 473.15 283.03 474.50 283.14 474.54C283.24 474.58 283.47 473.36 283.61 472.95C283.74 472.55 283.94 472.17 284.08 471.72C284.21 471.27 284.41 470.29 284.55 469.80C284.68 469.30 284.68 468.76 285.02 468.28C285.35 467.79 286.49 466.36 286.90 466.40C287.30 466.44 287.57 467.96 287.83 468.58C288.10 469.21 288.59 470.22 288.77 470.78C288.96 471.35 289.04 472.01 289.15 472.55C289.26 473.08 289.42 474.03 289.53 474.55C289.63 475.07 289.79 475.69 289.90 476.18C290.01 476.67 290.17 477.51 290.28 477.99C290.38 478.47 290.51 479.10 290.65 479.55C290.80 480.00 291.10 480.71 291.28 481.14C291.46 481.56 291.73 482.03 291.90 482.52C292.08 483.01 292.17 483.91 292.53 484.56C292.89 485.21 294.05 486.44 294.41 487.06C294.77 487.68 294.86 488.39 295.04 488.87C295.21 489.36 295.48 489.99 295.66 490.44C295.84 490.90 296.06 491.54 296.29 492.07C296.51 492.60 296.96 493.63 297.23 494.16C297.49 494.70 297.98 495.31 298.17 495.83C298.35 496.35 298.43 497.34 298.54 497.80C298.65 498.25 298.81 498.59 298.92 499.03C299.02 499.47 299.19 500.37 299.29 500.86C299.40 501.36 299.56 501.97 299.67 502.50C299.78 503.03 299.95 504.02 300.04 504.59C300.14 505.17 300.27 506.08 300.36 506.52C300.45 506.95 300.58 507.22 300.67 507.61C300.76 508.01 300.89 508.72 300.98 509.27C301.07 509.82 301.21 510.94 301.30 511.47C301.39 512.00 301.52 512.54 301.61 512.99C301.70 513.44 301.82 514.13 301.92 514.61C302.03 515.09 302.22 515.72 302.34 516.34C302.46 516.96 302.64 518.28 302.76 518.93C302.88 519.58 302.94 520.30 303.17 520.87C303.41 521.44 304.07 522.38 304.43 522.92C304.78 523.45 305.38 524.15 305.68 524.63C305.98 525.11 306.27 525.86 306.51 526.28C306.75 526.71 307.11 527.13 307.35 527.61C307.59 528.09 307.71 529.53 308.18 529.64C308.66 529.75 310.20 528.27 310.69 528.38C311.18 528.49 311.36 529.88 311.63 530.41C311.89 530.95 312.07 531.71 312.57 532.14C313.06 532.57 314.62 533.44 315.07 533.39C315.52 533.35 315.52 532.24 315.70 531.82C315.88 531.40 316.14 530.82 316.32 530.45C316.50 530.09 316.77 529.69 316.95 529.28C317.13 528.88 317.40 528.12 317.57 527.64C317.75 527.15 317.93 525.86 318.20 525.88C318.47 525.89 319.10 527.29 319.45 527.74C319.81 528.19 320.35 529.02 320.70 529.01C321.06 529.00 321.60 528.00 321.96 527.68C322.31 527.37 322.85 527.05 323.21 526.79C323.57 526.53 324.13 525.80 324.46 525.88C324.79 525.96 325.21 526.99 325.51 527.35C325.80 527.72 326.25 527.99 326.55 528.41C326.85 528.82 327.17 529.99 327.59 530.26C328.01 530.54 328.93 530.43 329.47 530.34C330.01 530.25 331.07 529.53 331.35 529.64C331.62 529.74 331.38 530.65 331.40 531.08C331.41 531.52 331.43 532.23 331.45 532.70C331.46 533.17 331.48 533.91 331.50 534.37C331.51 534.83 331.53 535.42 331.55 535.95C331.56 536.48 331.58 537.56 331.60 538.06C331.61 538.56 331.63 539.02 331.65 539.45C331.66 539.87 331.68 540.59 331.70 541.04C331.71 541.49 331.74 542.18 331.75 542.59C331.76 543.01 331.79 543.48 331.80 543.93C331.81 544.38 331.84 545.20 331.85 545.76C331.86 546.32 331.89 547.31 331.90 547.84C331.91 548.36 331.94 548.95 331.95 549.41C331.96 549.88 331.99 550.68 332.00 551.08C332.01 551.49 332.04 551.84 332.05 552.23C332.06 552.62 332.09 553.37 332.10 553.82C332.11 554.26 332.14 554.82 332.15 555.32C332.16 555.83 332.19 556.84 332.20 557.34C332.21 557.84 332.24 558.38 332.25 558.84C332.26 559.29 332.29 560.06 332.30 560.54C332.31 561.02 332.34 561.96 332.35 562.19" fill="none" stroke="#7308f2" stroke-width="2.3" stroke-linejoin="round" stroke-linecap="round" clip-path="url(#cb2)"/>
<path d="M254.25 692.59C254.31 687.04 254.37 660.45 254.67 653.69C254.97 646.94 255.75 647.69 256.35 645.28C256.95 642.88 258.06 640.03 258.87 636.87C259.68 633.72 261.13 626.21 262.03 623.21C262.93 620.20 264.28 617.50 265.18 615.85C266.08 614.19 267.43 612.99 268.33 611.64C269.24 610.29 270.74 608.19 271.49 606.39C272.24 604.58 273.05 601.28 273.59 599.03C274.13 596.77 274.82 592.57 275.27 590.62C275.72 588.66 276.23 586.11 276.75 585.36C277.26 584.61 278.25 584.61 278.85 585.36C279.45 586.11 280.35 589.56 280.95 590.62C281.55 591.67 282.45 591.22 283.05 592.72C283.65 594.22 284.40 598.43 285.16 601.13C285.91 603.83 287.41 608.49 288.31 611.64C289.21 614.80 290.56 620.20 291.46 623.21C292.36 626.21 293.87 630.41 294.62 632.67C295.37 634.92 296.27 636.87 296.72 638.98C297.17 641.08 297.56 639.73 297.77 647.39C297.98 655.05 298.13 686.13 298.19 692.59" fill="none" stroke="#7308f2" stroke-width="2.3" stroke-linejoin="round" stroke-linecap="round" clip-path="url(#cb3)"/>
<path d="M268.33 823.22C268.33 818.18 268.03 795.35 268.33 787.90C268.64 780.45 269.84 776.64 270.44 771.08C271.04 765.52 271.94 754.71 272.54 749.00C273.14 743.29 274.13 735.18 274.64 731.13C275.15 727.07 275.72 722.72 276.11 720.62C276.50 718.51 276.99 716.41 277.38 716.41C277.77 716.41 278.34 718.21 278.85 720.62C279.36 723.02 280.35 729.03 280.95 733.23C281.55 737.44 282.45 744.95 283.05 750.05C283.65 755.16 284.71 763.87 285.16 768.98C285.61 774.08 286.00 778.05 286.21 785.80C286.42 793.55 286.57 817.88 286.63 823.22" fill="none" stroke="#7308f2" stroke-width="2.3" stroke-linejoin="round" stroke-linecap="round" clip-path="url(#cb4)"/>
<rect x="71.0" y="54.5" width="688.5" height="116.0" fill="none" stroke="#000" stroke-width="2"/>
<line x1="92.2" y1="54.5" x2="92.2" y2="61.0" stroke="#000" stroke-width="1.9"/>
<line x1="92.2" y1="170.5" x2="92.2" y2="164.0" stroke="#000" stroke-width="1.9"/>
<line x1="178.4" y1="54.5" x2="178.4" y2="61.0" stroke="#000" stroke-width="1.9"/>
<line x1="178.4" y1="170.5" x2="178.4" y2="164.0" stroke="#000" stroke-width="1.9"/>
<line x1="264.6" y1="54.5" x2="264.6" y2="61.0" stroke="#000" stroke-width="1.9"/>
<line x1="264.6" y1="170.5" x2="264.6" y2="164.0" stroke="#000" stroke-width="1.9"/>
<line x1="350.8" y1="54.5" x2="350.8" y2="61.0" stroke="#000" stroke-width="1.9"/>
<line x1="350.8" y1="170.5" x2="350.8" y2="164.0" stroke="#000" stroke-width="1.9"/>
<line x1="437.0" y1="54.5" x2="437.0" y2="61.0" stroke="#000" stroke-width="1.9"/>
<line x1="437.0" y1="170.5" x2="437.0" y2="164.0" stroke="#000" stroke-width="1.9"/>
<line x1="523.2" y1="54.5" x2="523.2" y2="61.0" stroke="#000" stroke-width="1.9"/>
<line x1="523.2" y1="170.5" x2="523.2" y2="164.0" stroke="#000" stroke-width="1.9"/>
<line x1="609.4" y1="54.5" x2="609.4" y2="61.0" stroke="#000" stroke-width="1.9"/>
<line x1="609.4" y1="170.5" x2="609.4" y2="164.0" stroke="#000" stroke-width="1.9"/>
<line x1="695.6" y1="54.5" x2="695.6" y2="61.0" stroke="#000" stroke-width="1.9"/>
<line x1="695.6" y1="170.5" x2="695.6" y2="164.0" stroke="#000" stroke-width="1.9"/>
<line x1="71.0" y1="83.5" x2="75.5" y2="83.5" stroke="#000" stroke-width="1.9"/>
<line x1="759.5" y1="83.5" x2="755.0" y2="83.5" stroke="#000" stroke-width="1.9"/>
<line x1="71.0" y1="112.5" x2="75.5" y2="112.5" stroke="#000" stroke-width="1.9"/>
<line x1="759.5" y1="112.5" x2="755.0" y2="112.5" stroke="#000" stroke-width="1.9"/>
<line x1="71.0" y1="141.5" x2="75.5" y2="141.5" stroke="#000" stroke-width="1.9"/>
<line x1="759.5" y1="141.5" x2="755.0" y2="141.5" stroke="#000" stroke-width="1.9"/>
<rect x="71.0" y="190.0" width="428.0" height="109.0" fill="none" stroke="#000" stroke-width="2"/>
<line x1="86.5" y1="190.0" x2="86.5" y2="196.5" stroke="#000" stroke-width="1.9"/>
<line x1="86.5" y1="299.0" x2="86.5" y2="292.5" stroke="#000" stroke-width="1.9"/>
<line x1="149.9" y1="190.0" x2="149.9" y2="196.5" stroke="#000" stroke-width="1.9"/>
<line x1="149.9" y1="299.0" x2="149.9" y2="292.5" stroke="#000" stroke-width="1.9"/>
<line x1="213.4" y1="190.0" x2="213.4" y2="196.5" stroke="#000" stroke-width="1.9"/>
<line x1="213.4" y1="299.0" x2="213.4" y2="292.5" stroke="#000" stroke-width="1.9"/>
<line x1="276.9" y1="190.0" x2="276.9" y2="196.5" stroke="#000" stroke-width="1.9"/>
<line x1="276.9" y1="299.0" x2="276.9" y2="292.5" stroke="#000" stroke-width="1.9"/>
<line x1="340.3" y1="190.0" x2="340.3" y2="196.5" stroke="#000" stroke-width="1.9"/>
<line x1="340.3" y1="299.0" x2="340.3" y2="292.5" stroke="#000" stroke-width="1.9"/>
<line x1="403.8" y1="190.0" x2="403.8" y2="196.5" stroke="#000" stroke-width="1.9"/>
<line x1="403.8" y1="299.0" x2="403.8" y2="292.5" stroke="#000" stroke-width="1.9"/>
<line x1="467.2" y1="190.0" x2="467.2" y2="196.5" stroke="#000" stroke-width="1.9"/>
<line x1="467.2" y1="299.0" x2="467.2" y2="292.5" stroke="#000" stroke-width="1.9"/>
<line x1="71.0" y1="217.2" x2="75.5" y2="217.2" stroke="#000" stroke-width="1.9"/>
<line x1="499.0" y1="217.2" x2="494.5" y2="217.2" stroke="#000" stroke-width="1.9"/>
<line x1="71.0" y1="244.5" x2="75.5" y2="244.5" stroke="#000" stroke-width="1.9"/>
<line x1="499.0" y1="244.5" x2="494.5" y2="244.5" stroke="#000" stroke-width="1.9"/>
<line x1="71.0" y1="271.8" x2="75.5" y2="271.8" stroke="#000" stroke-width="1.9"/>
<line x1="499.0" y1="271.8" x2="494.5" y2="271.8" stroke="#000" stroke-width="1.9"/>
<rect x="71.0" y="321.5" width="428.0" height="109.0" fill="none" stroke="#000" stroke-width="2"/>
<line x1="86.5" y1="321.5" x2="86.5" y2="328.0" stroke="#000" stroke-width="1.9"/>
<line x1="86.5" y1="430.5" x2="86.5" y2="424.0" stroke="#000" stroke-width="1.9"/>
<line x1="149.9" y1="321.5" x2="149.9" y2="328.0" stroke="#000" stroke-width="1.9"/>
<line x1="149.9" y1="430.5" x2="149.9" y2="424.0" stroke="#000" stroke-width="1.9"/>
<line x1="213.4" y1="321.5" x2="213.4" y2="328.0" stroke="#000" stroke-width="1.9"/>
<line x1="213.4" y1="430.5" x2="213.4" y2="424.0" stroke="#000" stroke-width="1.9"/>
<line x1="276.9" y1="321.5" x2="276.9" y2="328.0" stroke="#000" stroke-width="1.9"/>
<line x1="276.9" y1="430.5" x2="276.9" y2="424.0" stroke="#000" stroke-width="1.9"/>
<line x1="340.3" y1="321.5" x2="340.3" y2="328.0" stroke="#000" stroke-width="1.9"/>
<line x1="340.3" y1="430.5" x2="340.3" y2="424.0" stroke="#000" stroke-width="1.9"/>
<line x1="403.8" y1="321.5" x2="403.8" y2="328.0" stroke="#000" stroke-width="1.9"/>
<line x1="403.8" y1="430.5" x2="403.8" y2="424.0" stroke="#000" stroke-width="1.9"/>
<line x1="467.2" y1="321.5" x2="467.2" y2="328.0" stroke="#000" stroke-width="1.9"/>
<line x1="467.2" y1="430.5" x2="467.2" y2="424.0" stroke="#000" stroke-width="1.9"/>
<line x1="71.0" y1="348.8" x2="75.5" y2="348.8" stroke="#000" stroke-width="1.9"/>
<line x1="499.0" y1="348.8" x2="494.5" y2="348.8" stroke="#000" stroke-width="1.9"/>
<line x1="71.0" y1="376.0" x2="75.5" y2="376.0" stroke="#000" stroke-width="1.9"/>
<line x1="499.0" y1="376.0" x2="494.5" y2="376.0" stroke="#000" stroke-width="1.9"/>
<line x1="71.0" y1="403.2" x2="75.5" y2="403.2" stroke="#000" stroke-width="1.9"/>
<line x1="499.0" y1="403.2" x2="494.5" y2="403.2" stroke="#000" stroke-width="1.9"/>
<rect x="71.0" y="452.5" width="428.0" height="109.0" fill="none" stroke="#000" stroke-width="2"/>
<line x1="86.5" y1="452.5" x2="86.5" y2="459.0" stroke="#000" stroke-width="1.9"/>
<line x1="86.5" y1="561.5" x2="86.5" y2="555.0" stroke="#000" stroke-width="1.9"/>
<line x1="149.9" y1="452.5" x2="149.9" y2="459.0" stroke="#000" stroke-width="1.9"/>
<line x1="149.9" y1="561.5" x2="149.9" y2="555.0" stroke="#000" stroke-width="1.9"/>
<line x1="213.4" y1="452.5" x2="213.4" y2="459.0" stroke="#000" stroke-width="1.9"/>
<line x1="213.4" y1="561.5" x2="213.4" y2="555.0" stroke="#000" stroke-width="1.9"/>
<line x1="276.9" y1="452.5" x2="276.9" y2="459.0" stroke="#000" stroke-width="1.9"/>
<line x1="276.9" y1="561.5" x2="276.9" y2="555.0" stroke="#000" stroke-width="1.9"/>
<line x1="340.3" y1="452.5" x2="340.3" y2="459.0" stroke="#000" stroke-width="1.9"/>
<line x1="340.3" y1="561.5" x2="340.3" y2="555.0" stroke="#000" stroke-width="1.9"/>
<line x1="403.8" y1="452.5" x2="403.8" y2="459.0" stroke="#000" stroke-width="1.9"/>
<line x1="403.8" y1="561.5" x2="403.8" y2="555.0" stroke="#000" stroke-width="1.9"/>
<line x1="467.2" y1="452.5" x2="467.2" y2="459.0" stroke="#000" stroke-width="1.9"/>
<line x1="467.2" y1="561.5" x2="467.2" y2="555.0" stroke="#000" stroke-width="1.9"/>
<line x1="71.0" y1="479.8" x2="75.5" y2="479.8" stroke="#000" stroke-width="1.9"/>
<line x1="499.0" y1="479.8" x2="494.5" y2="479.8" stroke="#000" stroke-width="1.9"/>
<line x1="71.0" y1="507.0" x2="75.5" y2="507.0" stroke="#000" stroke-width="1.9"/>
<line x1="499.0" y1="507.0" x2="494.5" y2="507.0" stroke="#000" stroke-width="1.9"/>
<line x1="71.0" y1="534.2" x2="75.5" y2="534.2" stroke="#000" stroke-width="1.9"/>
<line x1="499.0" y1="534.2" x2="494.5" y2="534.2" stroke="#000" stroke-width="1.9"/>
<rect x="71.0" y="583.8" width="428.0" height="109.0" fill="none" stroke="#000" stroke-width="2"/>
<line x1="86.5" y1="583.8" x2="86.5" y2="590.3" stroke="#000" stroke-width="1.9"/>
<line x1="86.5" y1="692.8" x2="86.5" y2="686.3" stroke="#000" stroke-width="1.9"/>
<line x1="149.9" y1="583.8" x2="149.9" y2="590.3" stroke="#000" stroke-width="1.9"/>
<line x1="149.9" y1="692.8" x2="149.9" y2="686.3" stroke="#000" stroke-width="1.9"/>
<line x1="213.4" y1="583.8" x2="213.4" y2="590.3" stroke="#000" stroke-width="1.9"/>
<line x1="213.4" y1="692.8" x2="213.4" y2="686.3" stroke="#000" stroke-width="1.9"/>
<line x1="276.9" y1="583.8" x2="276.9" y2="590.3" stroke="#000" stroke-width="1.9"/>
<line x1="276.9" y1="692.8" x2="276.9" y2="686.3" stroke="#000" stroke-width="1.9"/>
<line x1="340.3" y1="583.8" x2="340.3" y2="590.3" stroke="#000" stroke-width="1.9"/>
<line x1="340.3" y1="692.8" x2="340.3" y2="686.3" stroke="#000" stroke-width="1.9"/>
<line x1="403.8" y1="583.8" x2="403.8" y2="590.3" stroke="#000" stroke-width="1.9"/>
<line x1="403.8" y1="692.8" x2="403.8" y2="686.3" stroke="#000" stroke-width="1.9"/>
<line x1="467.2" y1="583.8" x2="467.2" y2="590.3" stroke="#000" stroke-width="1.9"/>
<line x1="467.2" y1="692.8" x2="467.2" y2="686.3" stroke="#000" stroke-width="1.9"/>
<line x1="71.0" y1="611.0" x2="75.5" y2="611.0" stroke="#000" stroke-width="1.9"/>
<line x1="499.0" y1="611.0" x2="494.5" y2="611.0" stroke="#000" stroke-width="1.9"/>
<line x1="71.0" y1="638.3" x2="75.5" y2="638.3" stroke="#000" stroke-width="1.9"/>
<line x1="499.0" y1="638.3" x2="494.5" y2="638.3" stroke="#000" stroke-width="1.9"/>
<line x1="71.0" y1="665.5" x2="75.5" y2="665.5" stroke="#000" stroke-width="1.9"/>
<line x1="499.0" y1="665.5" x2="494.5" y2="665.5" stroke="#000" stroke-width="1.9"/>
<rect x="71.0" y="715.2" width="428.0" height="109.0" fill="none" stroke="#000" stroke-width="2"/>
<line x1="86.5" y1="715.2" x2="86.5" y2="721.7" stroke="#000" stroke-width="1.9"/>
<line x1="86.5" y1="824.2" x2="86.5" y2="817.7" stroke="#000" stroke-width="1.9"/>
<line x1="149.9" y1="715.2" x2="149.9" y2="721.7" stroke="#000" stroke-width="1.9"/>
<line x1="149.9" y1="824.2" x2="149.9" y2="817.7" stroke="#000" stroke-width="1.9"/>
<line x1="213.4" y1="715.2" x2="213.4" y2="721.7" stroke="#000" stroke-width="1.9"/>
<line x1="213.4" y1="824.2" x2="213.4" y2="817.7" stroke="#000" stroke-width="1.9"/>
<line x1="276.9" y1="715.2" x2="276.9" y2="721.7" stroke="#000" stroke-width="1.9"/>
<line x1="276.9" y1="824.2" x2="276.9" y2="817.7" stroke="#000" stroke-width="1.9"/>
<line x1="340.3" y1="715.2" x2="340.3" y2="721.7" stroke="#000" stroke-width="1.9"/>
<line x1="340.3" y1="824.2" x2="340.3" y2="817.7" stroke="#000" stroke-width="1.9"/>
<line x1="403.8" y1="715.2" x2="403.8" y2="721.7" stroke="#000" stroke-width="1.9"/>
<line x1="403.8" y1="824.2" x2="403.8" y2="817.7" stroke="#000" stroke-width="1.9"/>
<line x1="467.2" y1="715.2" x2="467.2" y2="721.7" stroke="#000" stroke-width="1.9"/>
<line x1="467.2" y1="824.2" x2="467.2" y2="817.7" stroke="#000" stroke-width="1.9"/>
<line x1="71.0" y1="742.5" x2="75.5" y2="742.5" stroke="#000" stroke-width="1.9"/>
<line x1="499.0" y1="742.5" x2="494.5" y2="742.5" stroke="#000" stroke-width="1.9"/>
<line x1="71.0" y1="769.7" x2="75.5" y2="769.7" stroke="#000" stroke-width="1.9"/>
<line x1="499.0" y1="769.7" x2="494.5" y2="769.7" stroke="#000" stroke-width="1.9"/>
<line x1="71.0" y1="797.0" x2="75.5" y2="797.0" stroke="#000" stroke-width="1.9"/>
<line x1="499.0" y1="797.0" x2="494.5" y2="797.0" stroke="#000" stroke-width="1.9"/>
<text x="343.92" y="16.20" font-family="Liberation Sans, sans-serif" font-size="18" font-weight="normal" letter-spacing="0.392" fill="#000" stroke="#000" stroke-width="0.35" >Wavelength (μm)</text>
<text x="79.29" y="46.30" font-family="Liberation Sans, sans-serif" font-size="18" font-weight="normal" letter-spacing="0.500" fill="#000" stroke="#000" stroke-width="0.35">0.2</text>
<text x="165.30" y="46.30" font-family="Liberation Sans, sans-serif" font-size="18" font-weight="normal" letter-spacing="0.500" fill="#000" stroke="#000" stroke-width="0.35">0.4</text>
<text x="251.63" y="46.30" font-family="Liberation Sans, sans-serif" font-size="18" font-weight="normal" letter-spacing="0.500" fill="#000" stroke="#000" stroke-width="0.35">0.6</text>
<text x="337.83" y="46.30" font-family="Liberation Sans, sans-serif" font-size="18" font-weight="normal" letter-spacing="0.500" fill="#000" stroke="#000" stroke-width="0.35">0.8</text>
<text x="423.65" y="46.30" font-family="Liberation Sans, sans-serif" font-size="18" font-weight="normal" letter-spacing="0.500" fill="#000" stroke="#000" stroke-width="0.35">1.0</text>
<text x="509.96" y="46.30" font-family="Liberation Sans, sans-serif" font-size="18" font-weight="normal" letter-spacing="0.500" fill="#000" stroke="#000" stroke-width="0.35">1.2</text>
<text x="595.97" y="46.30" font-family="Liberation Sans, sans-serif" font-size="18" font-weight="normal" letter-spacing="0.500" fill="#000" stroke="#000" stroke-width="0.35">1.4</text>
<text x="682.30" y="46.30" font-family="Liberation Sans, sans-serif" font-size="18" font-weight="normal" letter-spacing="0.500" fill="#000" stroke="#000" stroke-width="0.35">1.6</text>
<text x="74.59" y="846.00" font-family="Liberation Sans, sans-serif" font-size="18" font-weight="normal" letter-spacing="0.500" fill="#000" stroke="#000" stroke-width="0.35">0.2</text>
<text x="137.85" y="846.00" font-family="Liberation Sans, sans-serif" font-size="18" font-weight="normal" letter-spacing="0.500" fill="#000" stroke="#000" stroke-width="0.35">0.4</text>
<text x="201.43" y="846.00" font-family="Liberation Sans, sans-serif" font-size="18" font-weight="normal" letter-spacing="0.500" fill="#000" stroke="#000" stroke-width="0.35">0.6</text>
<text x="264.88" y="846.00" font-family="Liberation Sans, sans-serif" font-size="18" font-weight="normal" letter-spacing="0.500" fill="#000" stroke="#000" stroke-width="0.35">0.8</text>
<text x="327.95" y="846.00" font-family="Liberation Sans, sans-serif" font-size="18" font-weight="normal" letter-spacing="0.500" fill="#000" stroke="#000" stroke-width="0.35">1.0</text>
<text x="391.51" y="846.00" font-family="Liberation Sans, sans-serif" font-size="18" font-weight="normal" letter-spacing="0.500" fill="#000" stroke="#000" stroke-width="0.35">1.2</text>
<text x="454.77" y="846.00" font-family="Liberation Sans, sans-serif" font-size="18" font-weight="normal" letter-spacing="0.500" fill="#000" stroke="#000" stroke-width="0.35">1.4</text>
<text x="215.62" y="871.30" font-family="Liberation Sans, sans-serif" font-size="18" font-weight="normal" letter-spacing="0.471" fill="#000" stroke="#000" stroke-width="0.35" >Wavelength (μm)</text>
<text x="53.89" y="60.90" font-family="Liberation Sans, sans-serif" font-size="18" font-weight="normal" letter-spacing="0.500" fill="#000" stroke="#000" stroke-width="0.35">0</text>
<text x="32.87" y="118.90" font-family="Liberation Sans, sans-serif" font-size="18" font-weight="normal" letter-spacing="0.500" fill="#000" stroke="#000" stroke-width="0.35">–20</text>
<text x="32.87" y="176.90" font-family="Liberation Sans, sans-serif" font-size="18" font-weight="normal" letter-spacing="0.500" fill="#000" stroke="#000" stroke-width="0.35">–40</text>
<text x="53.89" y="196.40" font-family="Liberation Sans, sans-serif" font-size="18" font-weight="normal" letter-spacing="0.500" fill="#000" stroke="#000" stroke-width="0.35">0</text>
<text x="32.87" y="250.90" font-family="Liberation Sans, sans-serif" font-size="18" font-weight="normal" letter-spacing="0.500" fill="#000" stroke="#000" stroke-width="0.35">–20</text>
<text x="32.87" y="305.40" font-family="Liberation Sans, sans-serif" font-size="18" font-weight="normal" letter-spacing="0.500" fill="#000" stroke="#000" stroke-width="0.35">–40</text>
<text x="53.89" y="327.90" font-family="Liberation Sans, sans-serif" font-size="18" font-weight="normal" letter-spacing="0.500" fill="#000" stroke="#000" stroke-width="0.35">0</text>
<text x="32.87" y="382.40" font-family="Liberation Sans, sans-serif" font-size="18" font-weight="normal" letter-spacing="0.500" fill="#000" stroke="#000" stroke-width="0.35">–20</text>
<text x="32.87" y="436.90" font-family="Liberation Sans, sans-serif" font-size="18" font-weight="normal" letter-spacing="0.500" fill="#000" stroke="#000" stroke-width="0.35">–40</text>
<text x="53.89" y="458.90" font-family="Liberation Sans, sans-serif" font-size="18" font-weight="normal" letter-spacing="0.500" fill="#000" stroke="#000" stroke-width="0.35">0</text>
<text x="32.87" y="513.40" font-family="Liberation Sans, sans-serif" font-size="18" font-weight="normal" letter-spacing="0.500" fill="#000" stroke="#000" stroke-width="0.35">–20</text>
<text x="32.87" y="567.90" font-family="Liberation Sans, sans-serif" font-size="18" font-weight="normal" letter-spacing="0.500" fill="#000" stroke="#000" stroke-width="0.35">–40</text>
<text x="53.89" y="590.20" font-family="Liberation Sans, sans-serif" font-size="18" font-weight="normal" letter-spacing="0.500" fill="#000" stroke="#000" stroke-width="0.35">0</text>
<text x="32.87" y="644.70" font-family="Liberation Sans, sans-serif" font-size="18" font-weight="normal" letter-spacing="0.500" fill="#000" stroke="#000" stroke-width="0.35">–20</text>
<text x="32.87" y="699.20" font-family="Liberation Sans, sans-serif" font-size="18" font-weight="normal" letter-spacing="0.500" fill="#000" stroke="#000" stroke-width="0.35">–40</text>
<text x="53.89" y="721.60" font-family="Liberation Sans, sans-serif" font-size="18" font-weight="normal" letter-spacing="0.500" fill="#000" stroke="#000" stroke-width="0.35">0</text>
<text x="32.87" y="776.10" font-family="Liberation Sans, sans-serif" font-size="18" font-weight="normal" letter-spacing="0.500" fill="#000" stroke="#000" stroke-width="0.35">–20</text>
<text x="32.87" y="830.60" font-family="Liberation Sans, sans-serif" font-size="18" font-weight="normal" letter-spacing="0.500" fill="#000" stroke="#000" stroke-width="0.35">–40</text>
<text x="-568.68" y="16.20" transform="rotate(-90)" font-family="Liberation Sans, sans-serif" font-size="18" font-weight="normal" letter-spacing="0.492" fill="#000" stroke="#000" stroke-width="0.35" >Normalized output power (dB)</text>
<text x="81.3" y="80.1" font-family="Liberation Sans, sans-serif" font-size="23" font-weight="bold" fill="#000">a</text>
<text x="81.3" y="219.7" font-family="Liberation Sans, sans-serif" font-size="23" font-weight="bold" fill="#000">b</text>
<text x="81.3" y="347.1" font-family="Liberation Sans, sans-serif" font-size="23" font-weight="bold" fill="#000">c</text>
<text x="81.3" y="482.2" font-family="Liberation Sans, sans-serif" font-size="23" font-weight="bold" fill="#000">d</text>
<text x="81.3" y="609.4" font-family="Liberation Sans, sans-serif" font-size="23" font-weight="bold" fill="#000">e</text>
<text x="82.8" y="744.9" font-family="Liberation Sans, sans-serif" font-size="23" font-weight="bold" fill="#000">f</text>
<text x="161.71" y="76.00" font-family="Liberation Sans, sans-serif" font-size="18" font-weight="normal" letter-spacing="-0.134" fill="#c4c4c4" stroke="#c4c4c4" stroke-width="0.35" >3</text>
<text x="236.39" y="76.00" font-family="Liberation Sans, sans-serif" font-size="18" font-weight="normal" letter-spacing="0.200" fill="#c4c4c4" stroke="#c4c4c4" stroke-width="0.35" >2</text>
<text x="493.63" y="76.00" font-family="Liberation Sans, sans-serif" font-size="18" font-weight="normal" letter-spacing="-2.961" fill="#c4c4c4" stroke="#c4c4c4" stroke-width="0.35" >1</text>
<text x="285.19" y="152.30" font-family="Liberation Sans, sans-serif" font-size="18" font-weight="normal" letter-spacing="0.786" fill="#7a7a7a" stroke="#7a7a7a" stroke-width="0.35" >2 μJ</text>
<text x="446.92" y="153.50" font-family="Liberation Sans, sans-serif" font-size="18" font-weight="normal" letter-spacing="0.445" fill="#8f8f8f" stroke="#8f8f8f" stroke-width="0.35" >Differential pumping</text>
<text x="687.89" y="108.50" font-family="Liberation Sans, sans-serif" font-size="18" font-weight="normal" letter-spacing="0.737" fill="#e41e1e" stroke="#e41e1e" stroke-width="0.35" >23 μJ</text>
<text x="151.39" y="288.30" font-family="Liberation Sans, sans-serif" font-size="18" font-weight="normal" letter-spacing="0.516" fill="#8a8690" stroke="#8a8690" stroke-width="0.35" >Constant press</text>
<text x="426.83" y="212.00" font-family="Liberation Sans, sans-serif" font-size="18" font-weight="normal" letter-spacing="0.450" fill="#8a33f0" stroke="#8a33f0" stroke-width="0.35" >12.1 μJ</text>
<text x="431.02" y="342.80" font-family="Liberation Sans, sans-serif" font-size="18" font-weight="normal" letter-spacing="0.565" fill="#8a33f0" stroke="#8a33f0" stroke-width="0.35" >8.1 μJ</text>
<text x="430.89" y="476.20" font-family="Liberation Sans, sans-serif" font-size="18" font-weight="normal" letter-spacing="0.591" fill="#8a33f0" stroke="#8a33f0" stroke-width="0.35" >6.5 μJ</text>
<text x="431.08" y="606.40" font-family="Liberation Sans, sans-serif" font-size="18" font-weight="normal" letter-spacing="0.552" fill="#8a33f0" stroke="#8a33f0" stroke-width="0.35" >5.0 μJ</text>
<text x="433.79" y="739.50" font-family="Liberation Sans, sans-serif" font-size="18" font-weight="normal" letter-spacing="0.764" fill="#8a33f0" stroke="#8a33f0" stroke-width="0.35" >60 μJ</text>
<text x="-812.70" y="158.40" transform="rotate(-90)" font-family="Liberation Sans, sans-serif" font-size="18" letter-spacing="1.492" fill="#8f8f8f" stroke="#8f8f8f" stroke-width="0.35"><tspan font-style="italic">m</tspan> = 3</text>
<text x="-810.70" y="213.00" transform="rotate(-90)" font-family="Liberation Sans, sans-serif" font-size="18" letter-spacing="1.021" fill="#8f8f8f" stroke="#8f8f8f" stroke-width="0.35"><tspan font-style="italic">m</tspan> = 2</text>
<text x="-810.70" y="402.30" transform="rotate(-90)" font-family="Liberation Sans, sans-serif" font-size="18" letter-spacing="0.514" fill="#8f8f8f" stroke="#8f8f8f" stroke-width="0.35"><tspan font-style="italic">m</tspan> = 1</text>
<defs>
<radialGradient id="rg0" gradientUnits="userSpaceOnUse" cx="0" cy="0" r="1" gradientTransform="translate(570 247) scale(64 64)">
<stop offset="0" stop-color="#90fff8" stop-opacity="1"/>
<stop offset="0.16" stop-color="#80f2ec" stop-opacity="1"/>
<stop offset="0.36" stop-color="#56b2ae" stop-opacity="1"/>
<stop offset="0.58" stop-color="#2c605e" stop-opacity="1"/>
<stop offset="0.8" stop-color="#142c2b" stop-opacity="1"/>
<stop offset="1" stop-color="#0a1616" stop-opacity="0"/>
</radialGradient>
<linearGradient id="lg0" x1="0" y1="0" x2="0" y2="1"><stop offset="0" stop-color="#0f1e1e"/><stop offset="1" stop-color="#040909"/></linearGradient>
<radialGradient id="rg1" gradientUnits="userSpaceOnUse" cx="0" cy="0" r="1" gradientTransform="translate(694 248) scale(62 66)">
<stop offset="0" stop-color="#00ffff" stop-opacity="1"/>
<stop offset="0.15" stop-color="#00f0f0" stop-opacity="1"/>
<stop offset="0.38" stop-color="#00a8a8" stop-opacity="1"/>
<stop offset="0.62" stop-color="#005050" stop-opacity="1"/>
<stop offset="0.85" stop-color="#002020" stop-opacity="1"/>
<stop offset="1" stop-color="#001212" stop-opacity="0"/>
</radialGradient>
<linearGradient id="lg1" x1="0" y1="0" x2="0" y2="1"><stop offset="0" stop-color="#001a1a"/><stop offset="1" stop-color="#000808"/></linearGradient>
<radialGradient id="rg2" gradientUnits="userSpaceOnUse" cx="0" cy="0" r="1" gradientTransform="translate(566 370) scale(66 52)">
<stop offset="0" stop-color="#0000ff" stop-opacity="1"/>
<stop offset="0.2" stop-color="#0000f0" stop-opacity="1"/>
<stop offset="0.45" stop-color="#0000b4" stop-opacity="1"/>
<stop offset="0.72" stop-color="#000068" stop-opacity="1"/>
<stop offset="1" stop-color="#04042a" stop-opacity="0"/>
</radialGradient>
<linearGradient id="lg2" x1="0" y1="0" x2="0" y2="1"><stop offset="0" stop-color="#0b0b4e"/><stop offset="1" stop-color="#010112"/></linearGradient>
<radialGradient id="rg3" gradientUnits="userSpaceOnUse" cx="0" cy="0" r="1" gradientTransform="translate(692 370) scale(54 60)">
<stop offset="0" stop-color="#00ff10" stop-opacity="1"/>
<stop offset="0.18" stop-color="#00f010" stop-opacity="1"/>
<stop offset="0.4" stop-color="#00a808" stop-opacity="1"/>
<stop offset="0.65" stop-color="#004804" stop-opacity="1"/>
<stop offset="0.88" stop-color="#001a02" stop-opacity="1"/>
<stop offset="1" stop-color="#000c00" stop-opacity="0"/>
</radialGradient>
<linearGradient id="lg3" x1="0" y1="0" x2="0" y2="1"><stop offset="0" stop-color="#001500"/><stop offset="1" stop-color="#000500"/></linearGradient>
<radialGradient id="rg4" gradientUnits="userSpaceOnUse" cx="0" cy="0" r="1" gradientTransform="translate(572 506) scale(47 55)">
<stop offset="0" stop-color="#ff0000" stop-opacity="1"/>
<stop offset="0.2" stop-color="#f80000" stop-opacity="1"/>
<stop offset="0.45" stop-color="#b00000" stop-opacity="1"/>
<stop offset="0.7" stop-color="#420000" stop-opacity="1"/>
<stop offset="0.9" stop-color="#120000" stop-opacity="1"/>
<stop offset="1" stop-color="#050000" stop-opacity="0"/>
</radialGradient>
<linearGradient id="lg4" x1="0" y1="0" x2="0" y2="1"><stop offset="0" stop-color="#0a0000"/><stop offset="1" stop-color="#020000"/></linearGradient>
<radialGradient id="rg5" gradientUnits="userSpaceOnUse" cx="0" cy="0" r="1" gradientTransform="translate(698 507) scale(66 66)">
<stop offset="0" stop-color="#ff10ff" stop-opacity="1"/>
<stop offset="0.21" stop-color="#f000f0" stop-opacity="1"/>
<stop offset="0.42" stop-color="#b800b8" stop-opacity="1"/>
<stop offset="0.61" stop-color="#700070" stop-opacity="1"/>
<stop offset="0.79" stop-color="#300030" stop-opacity="1"/>
<stop offset="0.94" stop-color="#120012" stop-opacity="1"/>
<stop offset="1" stop-color="#0a000a" stop-opacity="0"/>
</radialGradient>
<linearGradient id="lg5" x1="0" y1="0" x2="0" y2="1"><stop offset="0" stop-color="#0c000c"/><stop offset="1" stop-color="#040004"/></linearGradient>
<radialGradient id="rg6" gradientUnits="userSpaceOnUse" cx="0" cy="0" r="1" gradientTransform="translate(570 633) scale(70 70)">
<stop offset="0" stop-color="#ff10ff" stop-opacity="1"/>
<stop offset="0.14" stop-color="#e800e8" stop-opacity="1"/>
<stop offset="0.43" stop-color="#a000a0" stop-opacity="1"/>
<stop offset="0.71" stop-color="#480048" stop-opacity="1"/>
<stop offset="0.89" stop-color="#200020" stop-opacity="1"/>
<stop offset="1" stop-color="#140014" stop-opacity="0"/>
</radialGradient>
<linearGradient id="lg6" x1="0" y1="0" x2="0" y2="1"><stop offset="0" stop-color="#1a001a"/><stop offset="1" stop-color="#0c000c"/></linearGradient>
<radialGradient id="rg7" gradientUnits="userSpaceOnUse" cx="0" cy="0" r="1" gradientTransform="translate(698 636) scale(72 72)">
<stop offset="0" stop-color="#ff10ff" stop-opacity="1"/>
<stop offset="0.21" stop-color="#e800e8" stop-opacity="1"/>
<stop offset="0.49" stop-color="#b000b0" stop-opacity="1"/>
<stop offset="0.7" stop-color="#680068" stop-opacity="1"/>
<stop offset="0.86" stop-color="#300030" stop-opacity="1"/>
<stop offset="1" stop-color="#160016" stop-opacity="0"/>
</radialGradient>
<linearGradient id="lg7" x1="0" y1="0" x2="0" y2="1"><stop offset="0" stop-color="#1a001a"/><stop offset="1" stop-color="#0c000c"/></linearGradient>
<radialGradient id="rg8" gradientUnits="userSpaceOnUse" cx="0" cy="0" r="1" gradientTransform="translate(572 769) scale(76 76)">
<stop offset="0" stop-color="#ff10ff" stop-opacity="1"/>
<stop offset="0.16" stop-color="#f20cf2" stop-opacity="1"/>
<stop offset="0.37" stop-color="#c800c8" stop-opacity="1"/>
<stop offset="0.6" stop-color="#780078" stop-opacity="1"/>
<stop offset="0.8" stop-color="#380038" stop-opacity="1"/>
<stop offset="1" stop-color="#1a001a" stop-opacity="0"/>
</radialGradient>
<linearGradient id="lg8" x1="0" y1="0" x2="0" y2="1"><stop offset="0" stop-color="#220022"/><stop offset="1" stop-color="#140014"/></linearGradient>
<radialGradient id="rg9" gradientUnits="userSpaceOnUse" cx="0" cy="0" r="1" gradientTransform="translate(697 767) scale(68 70)">
<stop offset="0" stop-color="#ff10ff" stop-opacity="1"/>
<stop offset="0.3" stop-color="#f810f8" stop-opacity="1"/>
<stop offset="0.55" stop-color="#d000d0" stop-opacity="1"/>
<stop offset="0.72" stop-color="#900090" stop-opacity="1"/>
<stop offset="0.86" stop-color="#400040" stop-opacity="1"/>
<stop offset="1" stop-color="#140014" stop-opacity="0"/>
</radialGradient>
<linearGradient id="lg9" x1="0" y1="0" x2="0" y2="1"><stop offset="0" stop-color="#160016"/><stop offset="1" stop-color="#0c000c"/></linearGradient>
</defs>
<rect x="513.0" y="190.3" width="118.5" height="119.0" fill="url(#lg0)"/>
<rect x="513.0" y="190.3" width="118.5" height="119.0" fill="url(#rg0)"/>
<text x="519.1" y="209.8" font-family="Liberation Sans, sans-serif" font-size="23" font-weight="bold" fill="#fff">g</text>
<text x="589.56" y="213.10" font-family="Liberation Sans, sans-serif" font-size="19" font-weight="normal" letter-spacing="0.250" fill="#fff" stroke="#fff" stroke-width="0.35">254</text>
<rect x="640.0" y="190.3" width="119.0" height="119.0" fill="url(#lg1)"/>
<rect x="640.0" y="190.3" width="119.0" height="119.0" fill="url(#rg1)"/>
<text x="646.1" y="213.9" font-family="Liberation Sans, sans-serif" font-size="23" font-weight="bold" fill="#fff">h</text>
<text x="717.64" y="213.10" font-family="Liberation Sans, sans-serif" font-size="19" font-weight="normal" letter-spacing="0.250" fill="#fff" stroke="#fff" stroke-width="0.35">260</text>
<rect x="513.0" y="319.0" width="118.5" height="119.0" fill="url(#lg2)"/>
<rect x="513.0" y="319.0" width="118.5" height="119.0" fill="url(#rg2)"/>
<text x="519.1" y="344.1" font-family="Liberation Sans, sans-serif" font-size="23" font-weight="bold" fill="#fff">i</text>
<text x="589.80" y="341.80" font-family="Liberation Sans, sans-serif" font-size="19" font-weight="normal" letter-spacing="0.250" fill="#fff" stroke="#fff" stroke-width="0.35">365</text>
<rect x="640.0" y="319.0" width="119.0" height="119.0" fill="url(#lg3)"/>
<rect x="640.0" y="319.0" width="119.0" height="119.0" fill="url(#rg3)"/>
<text x="646.1" y="344.1" font-family="Liberation Sans, sans-serif" font-size="23" font-weight="bold" fill="#fff">j</text>
<text x="717.64" y="341.80" font-family="Liberation Sans, sans-serif" font-size="19" font-weight="normal" letter-spacing="0.250" fill="#fff" stroke="#fff" stroke-width="0.35">500</text>
<rect x="513.0" y="449.0" width="118.5" height="119.0" fill="url(#lg4)"/>
<rect x="513.0" y="449.0" width="118.5" height="119.0" fill="url(#rg4)"/>
<text x="519.1" y="472.6" font-family="Liberation Sans, sans-serif" font-size="23" font-weight="bold" fill="#fff">k</text>
<text x="589.80" y="471.80" font-family="Liberation Sans, sans-serif" font-size="19" font-weight="normal" letter-spacing="0.250" fill="#fff" stroke="#fff" stroke-width="0.35">775</text>
<rect x="640.0" y="449.0" width="119.0" height="119.0" fill="url(#lg5)"/>
<rect x="640.0" y="449.0" width="119.0" height="119.0" fill="url(#rg5)"/>
<text x="646.1" y="472.6" font-family="Liberation Sans, sans-serif" font-size="23" font-weight="bold" fill="#fff">l</text>
<text x="717.64" y="471.80" font-family="Liberation Sans, sans-serif" font-size="19" font-weight="normal" letter-spacing="0.250" fill="#fff" stroke="#fff" stroke-width="0.35">800</text>
<rect x="513.0" y="578.5" width="118.5" height="119.0" fill="url(#lg6)"/>
<rect x="513.0" y="578.5" width="118.5" height="119.0" fill="url(#rg6)"/>
<text x="519.1" y="598.0" font-family="Liberation Sans, sans-serif" font-size="23" font-weight="bold" fill="#fff">m</text>
<text x="589.74" y="601.30" font-family="Liberation Sans, sans-serif" font-size="19" font-weight="normal" letter-spacing="0.250" fill="#fff" stroke="#fff" stroke-width="0.35">950</text>
<rect x="640.0" y="578.5" width="119.0" height="119.0" fill="url(#lg7)"/>
<rect x="640.0" y="578.5" width="119.0" height="119.0" fill="url(#rg7)"/>
<text x="646.1" y="598.0" font-family="Liberation Sans, sans-serif" font-size="23" font-weight="bold" fill="#fff">n</text>
<text x="706.30" y="601.30" font-family="Liberation Sans, sans-serif" font-size="19" font-weight="normal" letter-spacing="0.250" fill="#fff" stroke="#fff" stroke-width="0.35">&gt;800</text>
<rect x="513.0" y="708.0" width="118.5" height="119.0" fill="url(#lg8)"/>
<rect x="513.0" y="708.0" width="118.5" height="119.0" fill="url(#rg8)"/>
<text x="519.1" y="727.5" font-family="Liberation Sans, sans-serif" font-size="23" font-weight="bold" fill="#fff">o</text>
<text x="567.58" y="730.80" font-family="Liberation Sans, sans-serif" font-size="19" font-weight="normal" letter-spacing="0.250" fill="#fff" stroke="#fff" stroke-width="0.35">&gt;1150</text>
<rect x="640.0" y="708.0" width="119.0" height="119.0" fill="url(#lg9)"/>
<rect x="640.0" y="708.0" width="119.0" height="119.0" fill="url(#rg9)"/>
<text x="646.1" y="727.5" font-family="Liberation Sans, sans-serif" font-size="23" font-weight="bold" fill="#fff">p</text>
<text x="706.82" y="730.80" font-family="Liberation Sans, sans-serif" font-size="19" font-weight="normal" letter-spacing="0.250" fill="#fff" stroke="#fff" stroke-width="0.35">1600</text>
</svg>
</body></html>
